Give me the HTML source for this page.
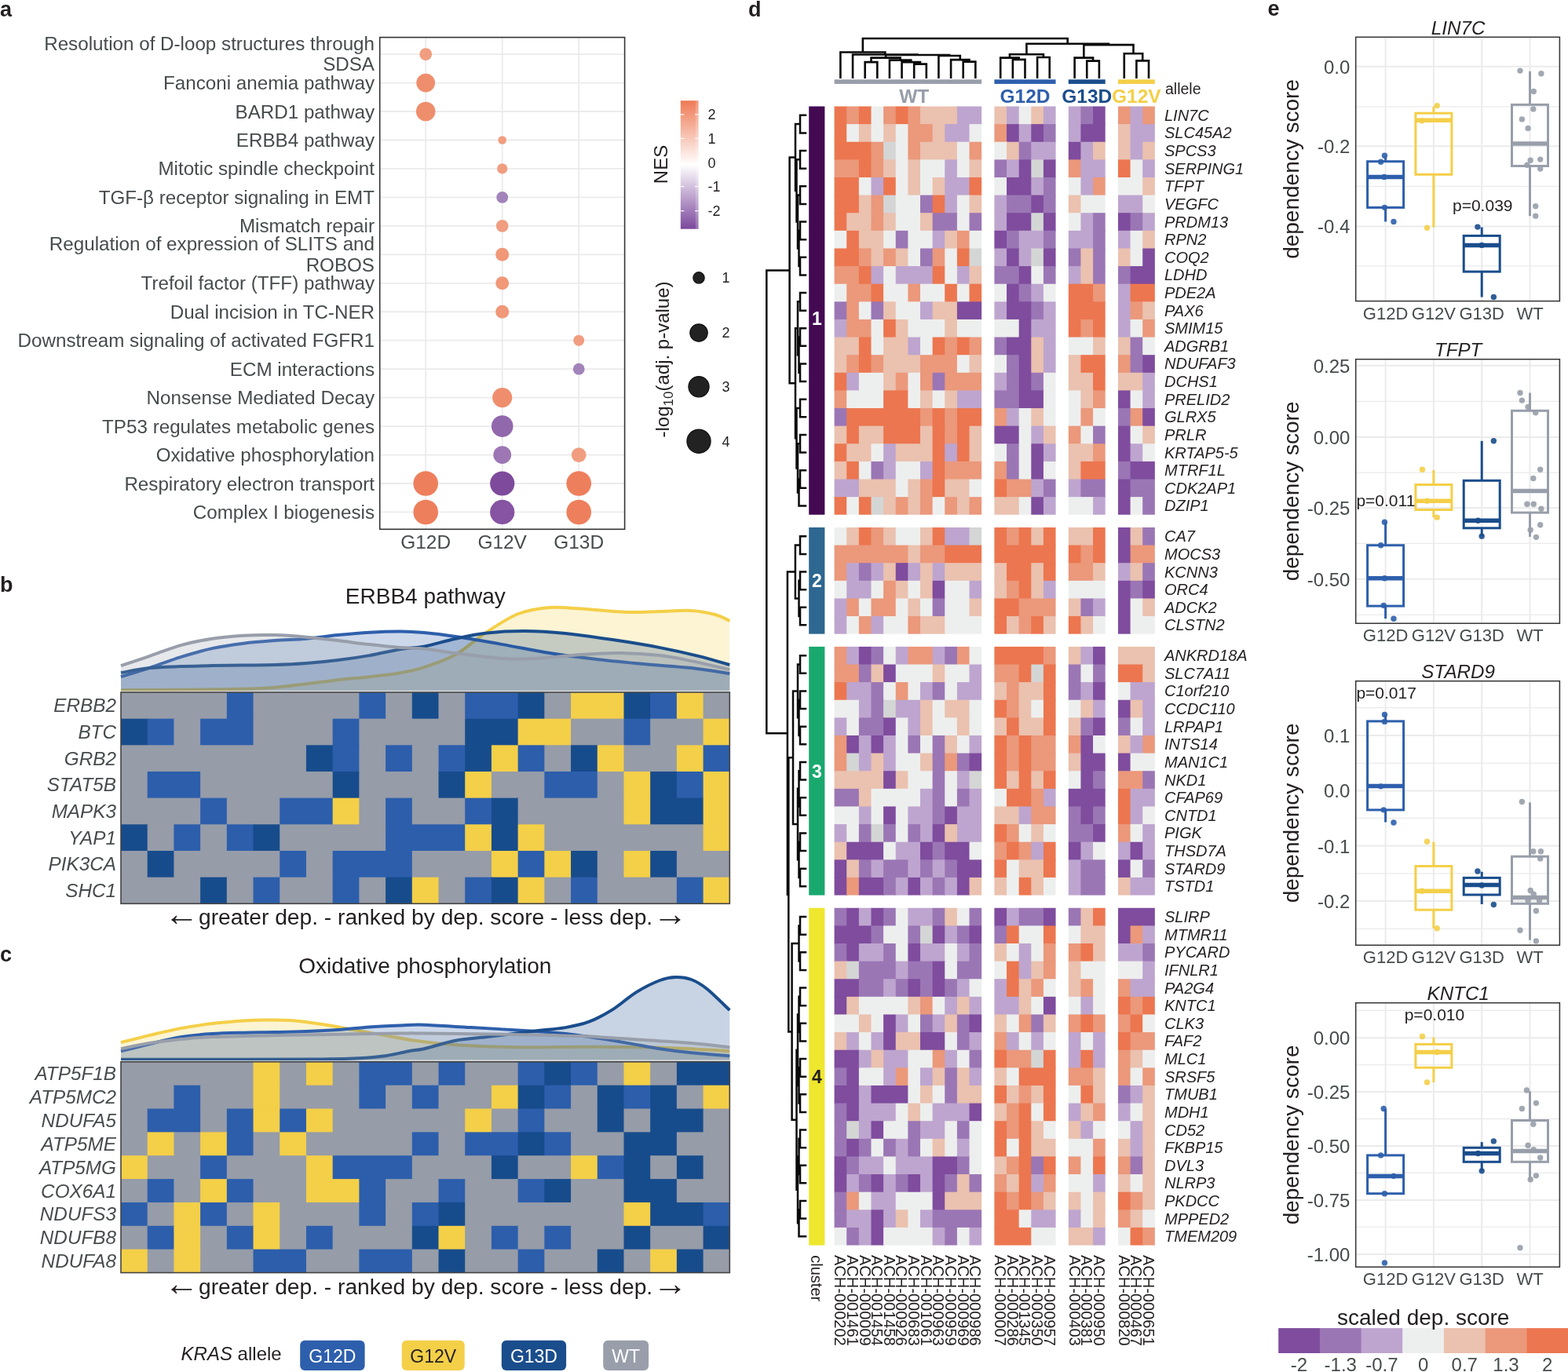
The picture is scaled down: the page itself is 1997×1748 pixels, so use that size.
<!DOCTYPE html>
<html><head><meta charset="utf-8"><title>KRAS allele dependency figure</title>
<style>
html,body{margin:0;padding:0;background:#fff;}
body{width:1997px;height:1748px;overflow:hidden;}
svg{display:block;font-family:'Liberation Sans', Arial, Helvetica, sans-serif;}
</style></head><body>
<svg width="1997" height="1748" viewBox="0 0 1997 1748">
<rect width="1997" height="1748" fill="#ffffff"/>
<text x="0" y="21" font-size="27" fill="#231f20" font-weight="bold">a</text>
<line x1="542.2" y1="47.6" x2="542.2" y2="674.3" stroke="#ebebeb" stroke-width="1.8" />
<line x1="639.7" y1="47.6" x2="639.7" y2="674.3" stroke="#ebebeb" stroke-width="1.8" />
<line x1="737.2" y1="47.6" x2="737.2" y2="674.3" stroke="#ebebeb" stroke-width="1.8" />
<line x1="483.7" y1="69.1" x2="795.6" y2="69.1" stroke="#ebebeb" stroke-width="1.8" />
<line x1="483.7" y1="105.56" x2="795.6" y2="105.56" stroke="#ebebeb" stroke-width="1.8" />
<line x1="483.7" y1="142.02" x2="795.6" y2="142.02" stroke="#ebebeb" stroke-width="1.8" />
<line x1="483.7" y1="178.48" x2="795.6" y2="178.48" stroke="#ebebeb" stroke-width="1.8" />
<line x1="483.7" y1="214.94" x2="795.6" y2="214.94" stroke="#ebebeb" stroke-width="1.8" />
<line x1="483.7" y1="251.4" x2="795.6" y2="251.4" stroke="#ebebeb" stroke-width="1.8" />
<line x1="483.7" y1="287.86" x2="795.6" y2="287.86" stroke="#ebebeb" stroke-width="1.8" />
<line x1="483.7" y1="324.32" x2="795.6" y2="324.32" stroke="#ebebeb" stroke-width="1.8" />
<line x1="483.7" y1="360.78" x2="795.6" y2="360.78" stroke="#ebebeb" stroke-width="1.8" />
<line x1="483.7" y1="397.24" x2="795.6" y2="397.24" stroke="#ebebeb" stroke-width="1.8" />
<line x1="483.7" y1="433.7" x2="795.6" y2="433.7" stroke="#ebebeb" stroke-width="1.8" />
<line x1="483.7" y1="470.16" x2="795.6" y2="470.16" stroke="#ebebeb" stroke-width="1.8" />
<line x1="483.7" y1="506.62" x2="795.6" y2="506.62" stroke="#ebebeb" stroke-width="1.8" />
<line x1="483.7" y1="543.08" x2="795.6" y2="543.08" stroke="#ebebeb" stroke-width="1.8" />
<line x1="483.7" y1="579.54" x2="795.6" y2="579.54" stroke="#ebebeb" stroke-width="1.8" />
<line x1="483.7" y1="616" x2="795.6" y2="616" stroke="#ebebeb" stroke-width="1.8" />
<line x1="483.7" y1="652.46" x2="795.6" y2="652.46" stroke="#ebebeb" stroke-width="1.8" />
<text x="477" y="64.1" font-size="24.2" fill="#464b4d" text-anchor="end">Resolution of D-loop structures through</text>
<text x="477" y="90.3" font-size="24.2" fill="#464b4d" text-anchor="end">SDSA</text>
<text x="477" y="114.06" font-size="24.2" fill="#464b4d" text-anchor="end">Fanconi anemia pathway</text>
<text x="477" y="150.52" font-size="24.2" fill="#464b4d" text-anchor="end">BARD1 pathway</text>
<text x="477" y="186.98" font-size="24.2" fill="#464b4d" text-anchor="end">ERBB4 pathway</text>
<text x="477" y="223.44" font-size="24.2" fill="#464b4d" text-anchor="end">Mitotic spindle checkpoint</text>
<text x="477" y="259.9" font-size="24.2" fill="#464b4d" text-anchor="end">TGF-β receptor signaling in EMT</text>
<text x="477" y="296.36" font-size="24.2" fill="#464b4d" text-anchor="end">Mismatch repair</text>
<text x="477" y="319.32" font-size="24.2" fill="#464b4d" text-anchor="end">Regulation of expression of SLITS and</text>
<text x="477" y="345.52" font-size="24.2" fill="#464b4d" text-anchor="end">ROBOS</text>
<text x="477" y="369.28" font-size="24.2" fill="#464b4d" text-anchor="end">Trefoil factor (TFF) pathway</text>
<text x="477" y="405.74" font-size="24.2" fill="#464b4d" text-anchor="end">Dual incision in TC-NER</text>
<text x="477" y="442.2" font-size="24.2" fill="#464b4d" text-anchor="end">Downstream signaling of activated FGFR1</text>
<text x="477" y="478.66" font-size="24.2" fill="#464b4d" text-anchor="end">ECM interactions</text>
<text x="477" y="515.12" font-size="24.2" fill="#464b4d" text-anchor="end">Nonsense Mediated Decay</text>
<text x="477" y="551.58" font-size="24.2" fill="#464b4d" text-anchor="end">TP53 regulates metabolic genes</text>
<text x="477" y="588.04" font-size="24.2" fill="#464b4d" text-anchor="end">Oxidative phosphorylation</text>
<text x="477" y="624.5" font-size="24.2" fill="#464b4d" text-anchor="end">Respiratory electron transport</text>
<text x="477" y="660.96" font-size="24.2" fill="#464b4d" text-anchor="end">Complex I biogenesis</text>
<circle cx="542.2" cy="69.1" r="7.9" fill="#f19d80" />
<circle cx="542.2" cy="105.56" r="11.9" fill="#ef8e6d" />
<circle cx="542.2" cy="142.02" r="12.3" fill="#ef8e6d" />
<circle cx="639.7" cy="178.48" r="5.3" fill="#f19d80" />
<circle cx="639.7" cy="214.94" r="6.6" fill="#f19d80" />
<circle cx="639.7" cy="251.4" r="7.4" fill="#a283ba" />
<circle cx="639.7" cy="287.86" r="7.8" fill="#f19d80" />
<circle cx="639.7" cy="324.32" r="8.5" fill="#f09878" />
<circle cx="639.7" cy="360.78" r="8.5" fill="#f09878" />
<circle cx="639.7" cy="397.24" r="8.5" fill="#f09878" />
<circle cx="737.2" cy="433.7" r="7" fill="#f19d80" />
<circle cx="737.2" cy="470.16" r="7.4" fill="#a283ba" />
<circle cx="639.7" cy="506.62" r="12.6" fill="#ef8e6d" />
<circle cx="639.7" cy="543.08" r="13.8" fill="#9168ac" />
<circle cx="639.7" cy="579.54" r="11.4" fill="#9d76b4" />
<circle cx="737.2" cy="579.54" r="9.4" fill="#f19d80" />
<circle cx="542.2" cy="616" r="15.8" fill="#ee7f5c" />
<circle cx="639.7" cy="616" r="15.6" fill="#7e4a9c" />
<circle cx="737.2" cy="616" r="15.8" fill="#ee7f5c" />
<circle cx="542.2" cy="652.46" r="15.8" fill="#ee7f5c" />
<circle cx="639.7" cy="652.46" r="15.6" fill="#8654a2" />
<circle cx="737.2" cy="652.46" r="15.8" fill="#ee7f5c" />
<rect x="483.7" y="47.6" width="311.9" height="626.7" fill="none" stroke="#333333" stroke-width="1.6"/>
<text x="542.2" y="699.4" font-size="24.4" fill="#464b4d" text-anchor="middle">G12D</text>
<text x="639.7" y="699.4" font-size="24.4" fill="#464b4d" text-anchor="middle">G12V</text>
<text x="737.2" y="699.4" font-size="24.4" fill="#464b4d" text-anchor="middle">G13D</text>
<defs><linearGradient id="nesg" x1="0" y1="0" x2="0" y2="1"><stop offset="0" stop-color="#ee7a55"/><stop offset="0.5" stop-color="#ffffff"/><stop offset="1" stop-color="#7b479c"/></linearGradient></defs>
<rect x="866.8" y="128.2" width="22.7" height="163.5" fill="url(#nesg)" />
<rect x="885.8" y="128.2" width="3.7" height="163.5" fill="#ffffff" fill-opacity="0.22"/>
<line x1="866.8" y1="145.9" x2="871.3" y2="145.9" stroke="white" stroke-width="1.2" />
<line x1="885" y1="145.9" x2="889.5" y2="145.9" stroke="white" stroke-width="1.2" />
<text x="901.5" y="152.2" font-size="18" fill="#231f20">2</text>
<line x1="866.8" y1="176.4" x2="871.3" y2="176.4" stroke="white" stroke-width="1.2" />
<line x1="885" y1="176.4" x2="889.5" y2="176.4" stroke="white" stroke-width="1.2" />
<text x="901.5" y="182.7" font-size="18" fill="#231f20">1</text>
<line x1="866.8" y1="207.6" x2="871.3" y2="207.6" stroke="white" stroke-width="1.2" />
<line x1="885" y1="207.6" x2="889.5" y2="207.6" stroke="white" stroke-width="1.2" />
<text x="901.5" y="213.9" font-size="18" fill="#231f20">0</text>
<line x1="866.8" y1="237.6" x2="871.3" y2="237.6" stroke="white" stroke-width="1.2" />
<line x1="885" y1="237.6" x2="889.5" y2="237.6" stroke="white" stroke-width="1.2" />
<text x="901.5" y="243.9" font-size="18" fill="#231f20">-1</text>
<line x1="866.8" y1="268.7" x2="871.3" y2="268.7" stroke="white" stroke-width="1.2" />
<line x1="885" y1="268.7" x2="889.5" y2="268.7" stroke="white" stroke-width="1.2" />
<text x="901.5" y="275" font-size="18" fill="#231f20">-2</text>
<text x="0" y="0" font-size="24" fill="#231f20" text-anchor="middle" transform="translate(849.5,209.5) rotate(-90)">NES</text>
<circle cx="890" cy="353.9" r="7.2" fill="#222222" stroke="#111111" stroke-width="1.2"/>
<text x="919.5" y="360.2" font-size="18" fill="#231f20">1</text>
<circle cx="890" cy="424" r="11.2" fill="#222222" stroke="#111111" stroke-width="1.2"/>
<text x="919.5" y="430.3" font-size="18" fill="#231f20">2</text>
<circle cx="890" cy="492.7" r="13.1" fill="#222222" stroke="#111111" stroke-width="1.2"/>
<text x="919.5" y="499" font-size="18" fill="#231f20">3</text>
<circle cx="890" cy="562.2" r="15.1" fill="#222222" stroke="#111111" stroke-width="1.2"/>
<text x="919.5" y="568.5" font-size="18" fill="#231f20">4</text>
<text font-size="24" fill="#231f20" text-anchor="middle" transform="translate(852,458) rotate(-90)">-log<tspan font-size="17" dy="5">10</tspan><tspan dy="-5">(adj. p-value)</tspan></text>
<text x="0" y="753.8" font-size="27" fill="#231f20" font-weight="bold">b</text>
<text x="541.8" y="768.9" font-size="28" fill="#231f20" text-anchor="middle">ERBB4 pathway</text>
<path d="M154,879.2 C166.68,879.13 204.07,879.03 230.1,878.8 C256.13,878.57 290.17,878.3 310.2,877.8 C330.23,877.3 336.93,876.9 350.3,875.8 C363.67,874.7 377.05,872.8 390.4,871.2 C403.75,869.6 417.05,867.7 430.4,866.2 C443.75,864.7 457.15,863.72 470.5,862.2 C483.85,860.68 498.92,859.12 510.5,857.1 C522.08,855.08 528.4,853.93 540,850.1 C551.6,846.27 566.75,841.6 580.1,834.1 C593.45,826.6 606.75,813.78 620.1,805.1 C633.45,796.42 646.85,787.18 660.2,782 C673.55,776.82 686.85,775.07 700.2,774 C713.55,772.93 723.6,774.6 740.3,775.6 C757,776.6 783.7,779.43 800.4,780 C817.1,780.57 827.15,779.33 840.5,779 C853.85,778.67 868.82,777.33 880.5,778 C892.18,778.67 902.47,780.83 910.6,783 C918.73,785.17 926.18,789.67 929.3,791 L929.3,879.8 L154,879.8 Z" fill="#f4cf48" fill-opacity="0.24"/>
<path d="M154,879.2 C166.68,879.13 204.07,879.03 230.1,878.8 C256.13,878.57 290.17,878.3 310.2,877.8 C330.23,877.3 336.93,876.9 350.3,875.8 C363.67,874.7 377.05,872.8 390.4,871.2 C403.75,869.6 417.05,867.7 430.4,866.2 C443.75,864.7 457.15,863.72 470.5,862.2 C483.85,860.68 498.92,859.12 510.5,857.1 C522.08,855.08 528.4,853.93 540,850.1 C551.6,846.27 566.75,841.6 580.1,834.1 C593.45,826.6 606.75,813.78 620.1,805.1 C633.45,796.42 646.85,787.18 660.2,782 C673.55,776.82 686.85,775.07 700.2,774 C713.55,772.93 723.6,774.6 740.3,775.6 C757,776.6 783.7,779.43 800.4,780 C817.1,780.57 827.15,779.33 840.5,779 C853.85,778.67 868.82,777.33 880.5,778 C892.18,778.67 902.47,780.83 910.6,783 C918.73,785.17 926.18,789.67 929.3,791" fill="none" stroke="#f4cf48" stroke-width="4"/>
<path d="M154,862.2 C160,860.35 177.32,855.28 190,851.1 C202.68,846.92 216.73,841.27 230.1,837.1 C243.47,832.93 256.85,829 270.2,826.1 C283.55,823.2 296.85,821.37 310.2,819.7 C323.55,818.03 336.93,817.1 350.3,816.1 C363.67,815.1 377.05,814.87 390.4,813.7 C403.75,812.53 417.05,810.43 430.4,809.1 C443.75,807.77 457.15,806.47 470.5,805.7 C483.85,804.93 498.92,804.43 510.5,804.5 C522.08,804.57 528.4,805 540,806.1 C551.6,807.2 563.4,808.6 580.1,811.1 C596.8,813.6 620.18,817.6 640.2,821.1 C660.22,824.6 680.18,828.93 700.2,832.1 C720.22,835.27 740.27,837.77 760.3,840.1 C780.33,842.43 800.37,844.27 820.4,846.1 C840.43,847.93 862.35,849.1 880.5,851.1 C898.65,853.1 921.17,856.93 929.3,858.1 L929.3,879.8 L154,879.8 Z" fill="#2e5fac" fill-opacity="0.24"/>
<path d="M154,862.2 C160,860.35 177.32,855.28 190,851.1 C202.68,846.92 216.73,841.27 230.1,837.1 C243.47,832.93 256.85,829 270.2,826.1 C283.55,823.2 296.85,821.37 310.2,819.7 C323.55,818.03 336.93,817.1 350.3,816.1 C363.67,815.1 377.05,814.87 390.4,813.7 C403.75,812.53 417.05,810.43 430.4,809.1 C443.75,807.77 457.15,806.47 470.5,805.7 C483.85,804.93 498.92,804.43 510.5,804.5 C522.08,804.57 528.4,805 540,806.1 C551.6,807.2 563.4,808.6 580.1,811.1 C596.8,813.6 620.18,817.6 640.2,821.1 C660.22,824.6 680.18,828.93 700.2,832.1 C720.22,835.27 740.27,837.77 760.3,840.1 C780.33,842.43 800.37,844.27 820.4,846.1 C840.43,847.93 862.35,849.1 880.5,851.1 C898.65,853.1 921.17,856.93 929.3,858.1" fill="none" stroke="#2e5fac" stroke-width="4"/>
<path d="M154,857.1 C160,856.1 177.32,852.43 190,851.1 C202.68,849.77 216.73,849.6 230.1,849.1 C243.47,848.6 256.85,848.37 270.2,848.1 C283.55,847.83 296.85,847.67 310.2,847.5 C323.55,847.33 336.93,847.5 350.3,847.1 C363.67,846.7 377.05,846.1 390.4,845.1 C403.75,844.1 417.05,842.77 430.4,841.1 C443.75,839.43 457.15,837.43 470.5,835.1 C483.85,832.77 498.92,829 510.5,827.1 C522.08,825.2 528.4,825.93 540,823.7 C551.6,821.47 566.75,816.57 580.1,813.7 C593.45,810.83 605.42,808.1 620.1,806.5 C634.78,804.9 651.5,804 668.2,804.1 C684.9,804.2 701.6,805.27 720.3,807.1 C739,808.93 760.37,812.1 780.4,815.1 C800.43,818.1 822.15,821.6 840.5,825.1 C858.85,828.6 875.7,832.43 890.5,836.1 C905.3,839.77 922.83,845.27 929.3,847.1 L929.3,879.8 L154,879.8 Z" fill="#1a4d8c" fill-opacity="0.24"/>
<path d="M154,857.1 C160,856.1 177.32,852.43 190,851.1 C202.68,849.77 216.73,849.6 230.1,849.1 C243.47,848.6 256.85,848.37 270.2,848.1 C283.55,847.83 296.85,847.67 310.2,847.5 C323.55,847.33 336.93,847.5 350.3,847.1 C363.67,846.7 377.05,846.1 390.4,845.1 C403.75,844.1 417.05,842.77 430.4,841.1 C443.75,839.43 457.15,837.43 470.5,835.1 C483.85,832.77 498.92,829 510.5,827.1 C522.08,825.2 528.4,825.93 540,823.7 C551.6,821.47 566.75,816.57 580.1,813.7 C593.45,810.83 605.42,808.1 620.1,806.5 C634.78,804.9 651.5,804 668.2,804.1 C684.9,804.2 701.6,805.27 720.3,807.1 C739,808.93 760.37,812.1 780.4,815.1 C800.43,818.1 822.15,821.6 840.5,825.1 C858.85,828.6 875.7,832.43 890.5,836.1 C905.3,839.77 922.83,845.27 929.3,847.1" fill="none" stroke="#1a4d8c" stroke-width="4"/>
<path d="M154,848.1 C160,846.1 177.32,840.43 190,836.1 C202.68,831.77 216.73,825.83 230.1,822.1 C243.47,818.37 256.85,815.77 270.2,813.7 C283.55,811.63 296.85,810.47 310.2,809.7 C323.55,808.93 336.93,808.77 350.3,809.1 C363.67,809.43 377.05,810.53 390.4,811.7 C403.75,812.87 417.05,814.53 430.4,816.1 C443.75,817.67 457.15,819.6 470.5,821.1 C483.85,822.6 498.92,824.2 510.5,825.1 C522.08,826 528.4,825.33 540,826.5 C551.6,827.67 563.4,830 580.1,832.1 C596.8,834.2 623.52,837.93 640.2,839.1 C656.88,840.27 663.52,839.93 680.2,839.1 C696.88,838.27 721.93,835.27 740.3,834.1 C758.67,832.93 773.7,831.93 790.4,832.1 C807.1,832.27 825.48,833.43 840.5,835.1 C855.52,836.77 865.7,839.1 880.5,842.1 C895.3,845.1 921.17,851.27 929.3,853.1 L929.3,879.8 L154,879.8 Z" fill="#989eaa" fill-opacity="0.24"/>
<path d="M154,848.1 C160,846.1 177.32,840.43 190,836.1 C202.68,831.77 216.73,825.83 230.1,822.1 C243.47,818.37 256.85,815.77 270.2,813.7 C283.55,811.63 296.85,810.47 310.2,809.7 C323.55,808.93 336.93,808.77 350.3,809.1 C363.67,809.43 377.05,810.53 390.4,811.7 C403.75,812.87 417.05,814.53 430.4,816.1 C443.75,817.67 457.15,819.6 470.5,821.1 C483.85,822.6 498.92,824.2 510.5,825.1 C522.08,826 528.4,825.33 540,826.5 C551.6,827.67 563.4,830 580.1,832.1 C596.8,834.2 623.52,837.93 640.2,839.1 C656.88,840.27 663.52,839.93 680.2,839.1 C696.88,838.27 721.93,835.27 740.3,834.1 C758.67,832.93 773.7,831.93 790.4,832.1 C807.1,832.27 825.48,833.43 840.5,835.1 C855.52,836.77 865.7,839.1 880.5,842.1 C895.3,845.1 921.17,851.27 929.3,853.1" fill="none" stroke="#989eaa" stroke-width="4"/>
<line x1="154" y1="880.7" x2="929.3" y2="880.7" stroke="#d0d3d8" stroke-width="1" />
<rect x="154" y="882" width="135.83" height="34.66" fill="#969ca8" />
<rect x="288.83" y="882" width="34.71" height="34.66" fill="#2c5eac" />
<rect x="322.54" y="882" width="135.83" height="34.66" fill="#969ca8" />
<rect x="457.38" y="882" width="34.71" height="34.66" fill="#2c5eac" />
<rect x="491.09" y="882" width="34.71" height="34.66" fill="#969ca8" />
<rect x="524.8" y="882" width="34.71" height="34.66" fill="#174c8c" />
<rect x="558.5" y="882" width="34.71" height="34.66" fill="#969ca8" />
<rect x="592.21" y="882" width="68.42" height="34.66" fill="#2c5eac" />
<rect x="659.63" y="882" width="34.71" height="34.66" fill="#174c8c" />
<rect x="693.34" y="882" width="34.71" height="34.66" fill="#969ca8" />
<rect x="727.05" y="882" width="68.42" height="34.66" fill="#f4cf48" />
<rect x="794.47" y="882" width="34.71" height="34.66" fill="#174c8c" />
<rect x="828.17" y="882" width="34.71" height="34.66" fill="#2c5eac" />
<rect x="861.88" y="882" width="34.71" height="34.66" fill="#f4cf48" />
<rect x="895.59" y="882" width="33.71" height="34.66" fill="#969ca8" />
<rect x="154" y="915.66" width="34.71" height="34.66" fill="#174c8c" />
<rect x="187.71" y="915.66" width="34.71" height="34.66" fill="#2c5eac" />
<rect x="221.42" y="915.66" width="34.71" height="34.66" fill="#969ca8" />
<rect x="255.13" y="915.66" width="68.42" height="34.66" fill="#2c5eac" />
<rect x="322.54" y="915.66" width="102.13" height="34.66" fill="#969ca8" />
<rect x="423.67" y="915.66" width="34.71" height="34.66" fill="#2c5eac" />
<rect x="457.38" y="915.66" width="135.83" height="34.66" fill="#969ca8" />
<rect x="592.21" y="915.66" width="68.42" height="34.66" fill="#174c8c" />
<rect x="659.63" y="915.66" width="68.42" height="34.66" fill="#f4cf48" />
<rect x="727.05" y="915.66" width="68.42" height="34.66" fill="#969ca8" />
<rect x="794.47" y="915.66" width="34.71" height="34.66" fill="#2c5eac" />
<rect x="828.17" y="915.66" width="68.42" height="34.66" fill="#969ca8" />
<rect x="895.59" y="915.66" width="33.71" height="34.66" fill="#f4cf48" />
<rect x="154" y="949.33" width="236.96" height="34.66" fill="#969ca8" />
<rect x="389.96" y="949.33" width="34.71" height="34.66" fill="#174c8c" />
<rect x="423.67" y="949.33" width="34.71" height="34.66" fill="#2c5eac" />
<rect x="457.38" y="949.33" width="34.71" height="34.66" fill="#969ca8" />
<rect x="491.09" y="949.33" width="34.71" height="34.66" fill="#2c5eac" />
<rect x="524.8" y="949.33" width="34.71" height="34.66" fill="#969ca8" />
<rect x="558.5" y="949.33" width="34.71" height="34.66" fill="#2c5eac" />
<rect x="592.21" y="949.33" width="34.71" height="34.66" fill="#174c8c" />
<rect x="625.92" y="949.33" width="34.71" height="34.66" fill="#f4cf48" />
<rect x="659.63" y="949.33" width="34.71" height="34.66" fill="#2c5eac" />
<rect x="693.34" y="949.33" width="34.71" height="34.66" fill="#969ca8" />
<rect x="727.05" y="949.33" width="34.71" height="34.66" fill="#174c8c" />
<rect x="760.76" y="949.33" width="34.71" height="34.66" fill="#f4cf48" />
<rect x="794.47" y="949.33" width="68.42" height="34.66" fill="#969ca8" />
<rect x="861.88" y="949.33" width="34.71" height="34.66" fill="#f4cf48" />
<rect x="895.59" y="949.33" width="33.71" height="34.66" fill="#2c5eac" />
<rect x="154" y="982.99" width="34.71" height="34.66" fill="#969ca8" />
<rect x="187.71" y="982.99" width="68.42" height="34.66" fill="#2c5eac" />
<rect x="255.13" y="982.99" width="169.54" height="34.66" fill="#969ca8" />
<rect x="423.67" y="982.99" width="34.71" height="34.66" fill="#174c8c" />
<rect x="457.38" y="982.99" width="102.13" height="34.66" fill="#969ca8" />
<rect x="558.5" y="982.99" width="34.71" height="34.66" fill="#174c8c" />
<rect x="592.21" y="982.99" width="34.71" height="34.66" fill="#f4cf48" />
<rect x="625.92" y="982.99" width="68.42" height="34.66" fill="#969ca8" />
<rect x="693.34" y="982.99" width="68.42" height="34.66" fill="#2c5eac" />
<rect x="760.76" y="982.99" width="34.71" height="34.66" fill="#969ca8" />
<rect x="794.47" y="982.99" width="34.71" height="34.66" fill="#f4cf48" />
<rect x="828.17" y="982.99" width="34.71" height="34.66" fill="#174c8c" />
<rect x="861.88" y="982.99" width="34.71" height="34.66" fill="#2c5eac" />
<rect x="895.59" y="982.99" width="33.71" height="34.66" fill="#f4cf48" />
<rect x="154" y="1016.65" width="102.13" height="34.66" fill="#969ca8" />
<rect x="255.13" y="1016.65" width="34.71" height="34.66" fill="#2c5eac" />
<rect x="288.83" y="1016.65" width="68.42" height="34.66" fill="#969ca8" />
<rect x="356.25" y="1016.65" width="68.42" height="34.66" fill="#2c5eac" />
<rect x="423.67" y="1016.65" width="34.71" height="34.66" fill="#f4cf48" />
<rect x="457.38" y="1016.65" width="34.71" height="34.66" fill="#969ca8" />
<rect x="491.09" y="1016.65" width="34.71" height="34.66" fill="#2c5eac" />
<rect x="524.8" y="1016.65" width="68.42" height="34.66" fill="#969ca8" />
<rect x="592.21" y="1016.65" width="34.71" height="34.66" fill="#2c5eac" />
<rect x="625.92" y="1016.65" width="34.71" height="34.66" fill="#174c8c" />
<rect x="659.63" y="1016.65" width="135.83" height="34.66" fill="#969ca8" />
<rect x="794.47" y="1016.65" width="34.71" height="34.66" fill="#f4cf48" />
<rect x="828.17" y="1016.65" width="68.42" height="34.66" fill="#174c8c" />
<rect x="895.59" y="1016.65" width="33.71" height="34.66" fill="#f4cf48" />
<rect x="154" y="1050.31" width="34.71" height="34.66" fill="#174c8c" />
<rect x="187.71" y="1050.31" width="34.71" height="34.66" fill="#969ca8" />
<rect x="221.42" y="1050.31" width="34.71" height="34.66" fill="#2c5eac" />
<rect x="255.13" y="1050.31" width="34.71" height="34.66" fill="#969ca8" />
<rect x="288.83" y="1050.31" width="34.71" height="34.66" fill="#2c5eac" />
<rect x="322.54" y="1050.31" width="34.71" height="34.66" fill="#174c8c" />
<rect x="356.25" y="1050.31" width="135.83" height="34.66" fill="#969ca8" />
<rect x="491.09" y="1050.31" width="102.13" height="34.66" fill="#2c5eac" />
<rect x="592.21" y="1050.31" width="34.71" height="34.66" fill="#f4cf48" />
<rect x="625.92" y="1050.31" width="34.71" height="34.66" fill="#174c8c" />
<rect x="659.63" y="1050.31" width="34.71" height="34.66" fill="#f4cf48" />
<rect x="693.34" y="1050.31" width="203.25" height="34.66" fill="#969ca8" />
<rect x="895.59" y="1050.31" width="33.71" height="34.66" fill="#f4cf48" />
<rect x="154" y="1083.97" width="34.71" height="34.66" fill="#969ca8" />
<rect x="187.71" y="1083.97" width="34.71" height="34.66" fill="#174c8c" />
<rect x="221.42" y="1083.97" width="135.83" height="34.66" fill="#969ca8" />
<rect x="356.25" y="1083.97" width="34.71" height="34.66" fill="#2c5eac" />
<rect x="389.96" y="1083.97" width="34.71" height="34.66" fill="#969ca8" />
<rect x="423.67" y="1083.97" width="102.13" height="34.66" fill="#2c5eac" />
<rect x="524.8" y="1083.97" width="102.13" height="34.66" fill="#969ca8" />
<rect x="625.92" y="1083.97" width="34.71" height="34.66" fill="#f4cf48" />
<rect x="659.63" y="1083.97" width="34.71" height="34.66" fill="#2c5eac" />
<rect x="693.34" y="1083.97" width="34.71" height="34.66" fill="#f4cf48" />
<rect x="727.05" y="1083.97" width="34.71" height="34.66" fill="#174c8c" />
<rect x="760.76" y="1083.97" width="34.71" height="34.66" fill="#969ca8" />
<rect x="794.47" y="1083.97" width="34.71" height="34.66" fill="#f4cf48" />
<rect x="828.17" y="1083.97" width="34.71" height="34.66" fill="#174c8c" />
<rect x="861.88" y="1083.97" width="67.42" height="34.66" fill="#969ca8" />
<rect x="154" y="1117.64" width="102.13" height="33.66" fill="#969ca8" />
<rect x="255.13" y="1117.64" width="34.71" height="33.66" fill="#174c8c" />
<rect x="288.83" y="1117.64" width="34.71" height="33.66" fill="#969ca8" />
<rect x="322.54" y="1117.64" width="34.71" height="33.66" fill="#2c5eac" />
<rect x="356.25" y="1117.64" width="68.42" height="33.66" fill="#969ca8" />
<rect x="423.67" y="1117.64" width="34.71" height="33.66" fill="#2c5eac" />
<rect x="457.38" y="1117.64" width="34.71" height="33.66" fill="#969ca8" />
<rect x="491.09" y="1117.64" width="34.71" height="33.66" fill="#174c8c" />
<rect x="524.8" y="1117.64" width="34.71" height="33.66" fill="#f4cf48" />
<rect x="558.5" y="1117.64" width="34.71" height="33.66" fill="#969ca8" />
<rect x="592.21" y="1117.64" width="34.71" height="33.66" fill="#2c5eac" />
<rect x="625.92" y="1117.64" width="34.71" height="33.66" fill="#174c8c" />
<rect x="659.63" y="1117.64" width="34.71" height="33.66" fill="#f4cf48" />
<rect x="693.34" y="1117.64" width="34.71" height="33.66" fill="#969ca8" />
<rect x="727.05" y="1117.64" width="34.71" height="33.66" fill="#2c5eac" />
<rect x="760.76" y="1117.64" width="102.13" height="33.66" fill="#969ca8" />
<rect x="861.88" y="1117.64" width="34.71" height="33.66" fill="#2c5eac" />
<rect x="895.59" y="1117.64" width="33.71" height="33.66" fill="#f4cf48" />
<text x="148" y="907.43" font-size="24.3" fill="#464b4d" text-anchor="end" font-style="italic">ERBB2</text>
<text x="148" y="941.09" font-size="24.3" fill="#464b4d" text-anchor="end" font-style="italic">BTC</text>
<text x="148" y="974.76" font-size="24.3" fill="#464b4d" text-anchor="end" font-style="italic">GRB2</text>
<text x="148" y="1008.42" font-size="24.3" fill="#464b4d" text-anchor="end" font-style="italic">STAT5B</text>
<text x="148" y="1042.08" font-size="24.3" fill="#464b4d" text-anchor="end" font-style="italic">MAPK3</text>
<text x="148" y="1075.74" font-size="24.3" fill="#464b4d" text-anchor="end" font-style="italic">YAP1</text>
<text x="148" y="1109.41" font-size="24.3" fill="#464b4d" text-anchor="end" font-style="italic">PIK3CA</text>
<text x="148" y="1143.07" font-size="24.3" fill="#464b4d" text-anchor="end" font-style="italic">SHC1</text>
<rect x="154" y="882" width="775.3" height="269.3" fill="none" stroke="#444444" stroke-width="1.6"/>
<text x="209.2" y="1178.8" font-size="44" fill="#231f20">←</text>
<text x="253" y="1177.7" font-size="28.2" fill="#231f20">greater dep. - ranked by dep. score - less dep.</text>
<text x="831.4" y="1178.8" font-size="44" fill="#231f20">→</text>
<text x="0" y="1224.7" font-size="27" fill="#231f20" font-weight="bold">c</text>
<text x="541.3" y="1239.8" font-size="28" fill="#231f20" text-anchor="middle">Oxidative phosphorylation</text>
<path d="M154,1328.1 C160,1326.6 177.32,1322.1 190,1319.1 C202.68,1316.1 216.73,1312.6 230.1,1310.1 C243.47,1307.6 256.85,1305.7 270.2,1304.1 C283.55,1302.5 298.52,1301.27 310.2,1300.5 C321.88,1299.73 330.28,1299.57 340.3,1299.5 C350.32,1299.43 358.62,1299.17 370.3,1300.1 C381.98,1301.03 397.03,1303.1 410.4,1305.1 C423.77,1307.1 437.15,1309.77 450.5,1312.1 C463.85,1314.43 477.15,1316.77 490.5,1319.1 C503.85,1321.43 515.67,1324.08 530.6,1326.1 C545.53,1328.12 558.5,1329.85 580.1,1331.2 C601.7,1332.55 633.5,1333.77 660.2,1334.2 C686.9,1334.63 713.6,1333.8 740.3,1333.8 C767,1333.8 797.03,1333.8 820.4,1334.2 C843.77,1334.6 862.35,1335.37 880.5,1336.2 C898.65,1337.03 921.17,1338.7 929.3,1339.2 L929.3,1350.4 L154,1350.4 Z" fill="#f4cf48" fill-opacity="0.24"/>
<path d="M154,1328.1 C160,1326.6 177.32,1322.1 190,1319.1 C202.68,1316.1 216.73,1312.6 230.1,1310.1 C243.47,1307.6 256.85,1305.7 270.2,1304.1 C283.55,1302.5 298.52,1301.27 310.2,1300.5 C321.88,1299.73 330.28,1299.57 340.3,1299.5 C350.32,1299.43 358.62,1299.17 370.3,1300.1 C381.98,1301.03 397.03,1303.1 410.4,1305.1 C423.77,1307.1 437.15,1309.77 450.5,1312.1 C463.85,1314.43 477.15,1316.77 490.5,1319.1 C503.85,1321.43 515.67,1324.08 530.6,1326.1 C545.53,1328.12 558.5,1329.85 580.1,1331.2 C601.7,1332.55 633.5,1333.77 660.2,1334.2 C686.9,1334.63 713.6,1333.8 740.3,1333.8 C767,1333.8 797.03,1333.8 820.4,1334.2 C843.77,1334.6 862.35,1335.37 880.5,1336.2 C898.65,1337.03 921.17,1338.7 929.3,1339.2" fill="none" stroke="#f4cf48" stroke-width="4"/>
<path d="M154,1339.2 C160,1337.7 177.32,1333.22 190,1330.2 C202.68,1327.18 216.73,1323.28 230.1,1321.1 C243.47,1318.92 256.85,1318 270.2,1317.1 C283.55,1316.2 296.85,1316.03 310.2,1315.7 C323.55,1315.37 336.93,1315.37 350.3,1315.1 C363.67,1314.83 377.05,1314.6 390.4,1314.1 C403.75,1313.6 417.05,1313.03 430.4,1312.1 C443.75,1311.17 457.15,1309.43 470.5,1308.5 C483.85,1307.57 498.92,1306.97 510.5,1306.5 C522.08,1306.03 525.07,1305.27 540,1305.7 C554.93,1306.13 576.73,1307.77 600.1,1309.1 C623.47,1310.43 660.17,1312.37 680.2,1313.7 C700.23,1315.03 706.95,1315.63 720.3,1317.1 C733.65,1318.57 746.95,1320.5 760.3,1322.5 C773.65,1324.5 787.03,1326.82 800.4,1329.1 C813.77,1331.38 827.15,1334.18 840.5,1336.2 C853.85,1338.22 865.7,1339.7 880.5,1341.2 C895.3,1342.7 921.17,1344.53 929.3,1345.2 L929.3,1350.4 L154,1350.4 Z" fill="#2e5fac" fill-opacity="0.24"/>
<path d="M154,1339.2 C160,1337.7 177.32,1333.22 190,1330.2 C202.68,1327.18 216.73,1323.28 230.1,1321.1 C243.47,1318.92 256.85,1318 270.2,1317.1 C283.55,1316.2 296.85,1316.03 310.2,1315.7 C323.55,1315.37 336.93,1315.37 350.3,1315.1 C363.67,1314.83 377.05,1314.6 390.4,1314.1 C403.75,1313.6 417.05,1313.03 430.4,1312.1 C443.75,1311.17 457.15,1309.43 470.5,1308.5 C483.85,1307.57 498.92,1306.97 510.5,1306.5 C522.08,1306.03 525.07,1305.27 540,1305.7 C554.93,1306.13 576.73,1307.77 600.1,1309.1 C623.47,1310.43 660.17,1312.37 680.2,1313.7 C700.23,1315.03 706.95,1315.63 720.3,1317.1 C733.65,1318.57 746.95,1320.5 760.3,1322.5 C773.65,1324.5 787.03,1326.82 800.4,1329.1 C813.77,1331.38 827.15,1334.18 840.5,1336.2 C853.85,1338.22 865.7,1339.7 880.5,1341.2 C895.3,1342.7 921.17,1344.53 929.3,1345.2" fill="none" stroke="#2e5fac" stroke-width="4"/>
<path d="M154,1349.8 C180.03,1349.8 267.47,1349.87 310.2,1349.8 C352.93,1349.73 387.02,1349.6 410.4,1349.4 C433.78,1349.2 437.15,1349.3 450.5,1348.6 C463.85,1347.9 478.82,1346.77 490.5,1345.2 C502.18,1343.63 512.35,1340.7 520.6,1339.2 C528.85,1337.7 530.08,1338.45 540,1336.2 C549.92,1333.95 566.75,1328.22 580.1,1325.7 C593.45,1323.18 603.42,1323.1 620.1,1321.1 C636.78,1319.1 663.5,1315.7 680.2,1313.7 C696.9,1311.7 708.62,1311.1 720.3,1309.1 C731.98,1307.1 740.28,1305.53 750.3,1301.7 C760.32,1297.87 770.38,1292.37 780.4,1286.1 C790.42,1279.83 800.38,1270.28 810.4,1264.1 C820.42,1257.92 832.15,1252.18 840.5,1249 C848.85,1245.82 853.83,1245.17 860.5,1245 C867.17,1244.83 873.83,1245.5 880.5,1248 C887.17,1250.5 892.37,1253.48 900.5,1260 C908.63,1266.52 924.5,1282.58 929.3,1287.1 L929.3,1350.4 L154,1350.4 Z" fill="#1a4d8c" fill-opacity="0.24"/>
<path d="M154,1349.8 C180.03,1349.8 267.47,1349.87 310.2,1349.8 C352.93,1349.73 387.02,1349.6 410.4,1349.4 C433.78,1349.2 437.15,1349.3 450.5,1348.6 C463.85,1347.9 478.82,1346.77 490.5,1345.2 C502.18,1343.63 512.35,1340.7 520.6,1339.2 C528.85,1337.7 530.08,1338.45 540,1336.2 C549.92,1333.95 566.75,1328.22 580.1,1325.7 C593.45,1323.18 603.42,1323.1 620.1,1321.1 C636.78,1319.1 663.5,1315.7 680.2,1313.7 C696.9,1311.7 708.62,1311.1 720.3,1309.1 C731.98,1307.1 740.28,1305.53 750.3,1301.7 C760.32,1297.87 770.38,1292.37 780.4,1286.1 C790.42,1279.83 800.38,1270.28 810.4,1264.1 C820.42,1257.92 832.15,1252.18 840.5,1249 C848.85,1245.82 853.83,1245.17 860.5,1245 C867.17,1244.83 873.83,1245.5 880.5,1248 C887.17,1250.5 892.37,1253.48 900.5,1260 C908.63,1266.52 924.5,1282.58 929.3,1287.1" fill="none" stroke="#1a4d8c" stroke-width="4"/>
<path d="M154,1336.2 C160,1335.02 177.32,1331.12 190,1329.1 C202.68,1327.08 216.73,1325.43 230.1,1324.1 C243.47,1322.77 250.17,1321.93 270.2,1321.1 C290.23,1320.27 323.6,1319.67 350.3,1319.1 C377,1318.53 403.7,1318.13 430.4,1317.7 C457.1,1317.27 492.23,1316.7 510.5,1316.5 C528.77,1316.3 518.38,1316.3 540,1316.5 C561.62,1316.7 606.82,1317.1 640.2,1317.7 C673.58,1318.3 710.27,1318.87 740.3,1320.1 C770.33,1321.33 797.03,1323.6 820.4,1325.1 C843.77,1326.6 862.35,1327.58 880.5,1329.1 C898.65,1330.62 921.17,1333.35 929.3,1334.2 L929.3,1350.4 L154,1350.4 Z" fill="#989eaa" fill-opacity="0.24"/>
<path d="M154,1336.2 C160,1335.02 177.32,1331.12 190,1329.1 C202.68,1327.08 216.73,1325.43 230.1,1324.1 C243.47,1322.77 250.17,1321.93 270.2,1321.1 C290.23,1320.27 323.6,1319.67 350.3,1319.1 C377,1318.53 403.7,1318.13 430.4,1317.7 C457.1,1317.27 492.23,1316.7 510.5,1316.5 C528.77,1316.3 518.38,1316.3 540,1316.5 C561.62,1316.7 606.82,1317.1 640.2,1317.7 C673.58,1318.3 710.27,1318.87 740.3,1320.1 C770.33,1321.33 797.03,1323.6 820.4,1325.1 C843.77,1326.6 862.35,1327.58 880.5,1329.1 C898.65,1330.62 921.17,1333.35 929.3,1334.2" fill="none" stroke="#989eaa" stroke-width="4"/>
<line x1="154" y1="1351.5" x2="929.3" y2="1351.5" stroke="#d0d3d8" stroke-width="1" />
<rect x="154" y="1352.8" width="169.54" height="30.86" fill="#969ca8" />
<rect x="322.54" y="1352.8" width="34.71" height="30.86" fill="#f4cf48" />
<rect x="356.25" y="1352.8" width="34.71" height="30.86" fill="#969ca8" />
<rect x="389.96" y="1352.8" width="34.71" height="30.86" fill="#f4cf48" />
<rect x="423.67" y="1352.8" width="34.71" height="30.86" fill="#969ca8" />
<rect x="457.38" y="1352.8" width="68.42" height="30.86" fill="#2c5eac" />
<rect x="524.8" y="1352.8" width="34.71" height="30.86" fill="#969ca8" />
<rect x="558.5" y="1352.8" width="34.71" height="30.86" fill="#2c5eac" />
<rect x="592.21" y="1352.8" width="68.42" height="30.86" fill="#969ca8" />
<rect x="659.63" y="1352.8" width="34.71" height="30.86" fill="#2c5eac" />
<rect x="693.34" y="1352.8" width="34.71" height="30.86" fill="#174c8c" />
<rect x="727.05" y="1352.8" width="34.71" height="30.86" fill="#2c5eac" />
<rect x="760.76" y="1352.8" width="34.71" height="30.86" fill="#969ca8" />
<rect x="794.47" y="1352.8" width="34.71" height="30.86" fill="#f4cf48" />
<rect x="828.17" y="1352.8" width="34.71" height="30.86" fill="#969ca8" />
<rect x="861.88" y="1352.8" width="67.42" height="30.86" fill="#174c8c" />
<rect x="154" y="1382.66" width="68.42" height="30.86" fill="#969ca8" />
<rect x="221.42" y="1382.66" width="34.71" height="30.86" fill="#2c5eac" />
<rect x="255.13" y="1382.66" width="68.42" height="30.86" fill="#969ca8" />
<rect x="322.54" y="1382.66" width="34.71" height="30.86" fill="#f4cf48" />
<rect x="356.25" y="1382.66" width="102.13" height="30.86" fill="#969ca8" />
<rect x="457.38" y="1382.66" width="34.71" height="30.86" fill="#2c5eac" />
<rect x="491.09" y="1382.66" width="34.71" height="30.86" fill="#969ca8" />
<rect x="524.8" y="1382.66" width="34.71" height="30.86" fill="#2c5eac" />
<rect x="558.5" y="1382.66" width="68.42" height="30.86" fill="#969ca8" />
<rect x="625.92" y="1382.66" width="34.71" height="30.86" fill="#f4cf48" />
<rect x="659.63" y="1382.66" width="34.71" height="30.86" fill="#174c8c" />
<rect x="693.34" y="1382.66" width="34.71" height="30.86" fill="#2c5eac" />
<rect x="727.05" y="1382.66" width="34.71" height="30.86" fill="#969ca8" />
<rect x="760.76" y="1382.66" width="34.71" height="30.86" fill="#174c8c" />
<rect x="794.47" y="1382.66" width="34.71" height="30.86" fill="#2c5eac" />
<rect x="828.17" y="1382.66" width="34.71" height="30.86" fill="#174c8c" />
<rect x="861.88" y="1382.66" width="34.71" height="30.86" fill="#969ca8" />
<rect x="895.59" y="1382.66" width="33.71" height="30.86" fill="#f4cf48" />
<rect x="154" y="1412.51" width="34.71" height="30.86" fill="#969ca8" />
<rect x="187.71" y="1412.51" width="68.42" height="30.86" fill="#2c5eac" />
<rect x="255.13" y="1412.51" width="34.71" height="30.86" fill="#969ca8" />
<rect x="288.83" y="1412.51" width="34.71" height="30.86" fill="#2c5eac" />
<rect x="322.54" y="1412.51" width="34.71" height="30.86" fill="#f4cf48" />
<rect x="356.25" y="1412.51" width="34.71" height="30.86" fill="#2c5eac" />
<rect x="389.96" y="1412.51" width="34.71" height="30.86" fill="#f4cf48" />
<rect x="423.67" y="1412.51" width="169.54" height="30.86" fill="#969ca8" />
<rect x="592.21" y="1412.51" width="34.71" height="30.86" fill="#f4cf48" />
<rect x="625.92" y="1412.51" width="34.71" height="30.86" fill="#969ca8" />
<rect x="659.63" y="1412.51" width="34.71" height="30.86" fill="#2c5eac" />
<rect x="693.34" y="1412.51" width="68.42" height="30.86" fill="#969ca8" />
<rect x="760.76" y="1412.51" width="34.71" height="30.86" fill="#174c8c" />
<rect x="794.47" y="1412.51" width="34.71" height="30.86" fill="#969ca8" />
<rect x="828.17" y="1412.51" width="68.42" height="30.86" fill="#174c8c" />
<rect x="895.59" y="1412.51" width="33.71" height="30.86" fill="#969ca8" />
<rect x="154" y="1442.37" width="34.71" height="30.86" fill="#969ca8" />
<rect x="187.71" y="1442.37" width="34.71" height="30.86" fill="#f4cf48" />
<rect x="221.42" y="1442.37" width="34.71" height="30.86" fill="#969ca8" />
<rect x="255.13" y="1442.37" width="34.71" height="30.86" fill="#f4cf48" />
<rect x="288.83" y="1442.37" width="34.71" height="30.86" fill="#2c5eac" />
<rect x="322.54" y="1442.37" width="34.71" height="30.86" fill="#969ca8" />
<rect x="356.25" y="1442.37" width="34.71" height="30.86" fill="#f4cf48" />
<rect x="389.96" y="1442.37" width="135.83" height="30.86" fill="#969ca8" />
<rect x="524.8" y="1442.37" width="34.71" height="30.86" fill="#2c5eac" />
<rect x="558.5" y="1442.37" width="34.71" height="30.86" fill="#969ca8" />
<rect x="592.21" y="1442.37" width="68.42" height="30.86" fill="#2c5eac" />
<rect x="659.63" y="1442.37" width="34.71" height="30.86" fill="#174c8c" />
<rect x="693.34" y="1442.37" width="34.71" height="30.86" fill="#2c5eac" />
<rect x="727.05" y="1442.37" width="68.42" height="30.86" fill="#969ca8" />
<rect x="794.47" y="1442.37" width="68.42" height="30.86" fill="#174c8c" />
<rect x="861.88" y="1442.37" width="67.42" height="30.86" fill="#969ca8" />
<rect x="154" y="1472.22" width="34.71" height="30.86" fill="#f4cf48" />
<rect x="187.71" y="1472.22" width="68.42" height="30.86" fill="#969ca8" />
<rect x="255.13" y="1472.22" width="34.71" height="30.86" fill="#2c5eac" />
<rect x="288.83" y="1472.22" width="102.13" height="30.86" fill="#969ca8" />
<rect x="389.96" y="1472.22" width="34.71" height="30.86" fill="#f4cf48" />
<rect x="423.67" y="1472.22" width="102.13" height="30.86" fill="#2c5eac" />
<rect x="524.8" y="1472.22" width="102.13" height="30.86" fill="#969ca8" />
<rect x="625.92" y="1472.22" width="34.71" height="30.86" fill="#174c8c" />
<rect x="659.63" y="1472.22" width="68.42" height="30.86" fill="#969ca8" />
<rect x="727.05" y="1472.22" width="34.71" height="30.86" fill="#f4cf48" />
<rect x="760.76" y="1472.22" width="34.71" height="30.86" fill="#2c5eac" />
<rect x="794.47" y="1472.22" width="34.71" height="30.86" fill="#174c8c" />
<rect x="828.17" y="1472.22" width="34.71" height="30.86" fill="#969ca8" />
<rect x="861.88" y="1472.22" width="34.71" height="30.86" fill="#174c8c" />
<rect x="895.59" y="1472.22" width="33.71" height="30.86" fill="#969ca8" />
<rect x="154" y="1502.08" width="34.71" height="30.86" fill="#969ca8" />
<rect x="187.71" y="1502.08" width="34.71" height="30.86" fill="#2c5eac" />
<rect x="221.42" y="1502.08" width="34.71" height="30.86" fill="#969ca8" />
<rect x="255.13" y="1502.08" width="34.71" height="30.86" fill="#f4cf48" />
<rect x="288.83" y="1502.08" width="34.71" height="30.86" fill="#2c5eac" />
<rect x="322.54" y="1502.08" width="68.42" height="30.86" fill="#969ca8" />
<rect x="389.96" y="1502.08" width="68.42" height="30.86" fill="#f4cf48" />
<rect x="457.38" y="1502.08" width="34.71" height="30.86" fill="#2c5eac" />
<rect x="491.09" y="1502.08" width="68.42" height="30.86" fill="#969ca8" />
<rect x="558.5" y="1502.08" width="34.71" height="30.86" fill="#2c5eac" />
<rect x="592.21" y="1502.08" width="68.42" height="30.86" fill="#969ca8" />
<rect x="659.63" y="1502.08" width="34.71" height="30.86" fill="#2c5eac" />
<rect x="693.34" y="1502.08" width="34.71" height="30.86" fill="#174c8c" />
<rect x="727.05" y="1502.08" width="68.42" height="30.86" fill="#969ca8" />
<rect x="794.47" y="1502.08" width="68.42" height="30.86" fill="#174c8c" />
<rect x="861.88" y="1502.08" width="67.42" height="30.86" fill="#969ca8" />
<rect x="154" y="1531.93" width="34.71" height="30.86" fill="#2c5eac" />
<rect x="187.71" y="1531.93" width="34.71" height="30.86" fill="#969ca8" />
<rect x="221.42" y="1531.93" width="34.71" height="30.86" fill="#f4cf48" />
<rect x="255.13" y="1531.93" width="34.71" height="30.86" fill="#2c5eac" />
<rect x="288.83" y="1531.93" width="34.71" height="30.86" fill="#969ca8" />
<rect x="322.54" y="1531.93" width="34.71" height="30.86" fill="#f4cf48" />
<rect x="356.25" y="1531.93" width="102.13" height="30.86" fill="#969ca8" />
<rect x="457.38" y="1531.93" width="34.71" height="30.86" fill="#2c5eac" />
<rect x="491.09" y="1531.93" width="34.71" height="30.86" fill="#969ca8" />
<rect x="524.8" y="1531.93" width="34.71" height="30.86" fill="#2c5eac" />
<rect x="558.5" y="1531.93" width="34.71" height="30.86" fill="#174c8c" />
<rect x="592.21" y="1531.93" width="203.25" height="30.86" fill="#969ca8" />
<rect x="794.47" y="1531.93" width="34.71" height="30.86" fill="#f4cf48" />
<rect x="828.17" y="1531.93" width="68.42" height="30.86" fill="#174c8c" />
<rect x="895.59" y="1531.93" width="33.71" height="30.86" fill="#2c5eac" />
<rect x="154" y="1561.79" width="34.71" height="30.86" fill="#969ca8" />
<rect x="187.71" y="1561.79" width="34.71" height="30.86" fill="#2c5eac" />
<rect x="221.42" y="1561.79" width="34.71" height="30.86" fill="#f4cf48" />
<rect x="255.13" y="1561.79" width="34.71" height="30.86" fill="#969ca8" />
<rect x="288.83" y="1561.79" width="34.71" height="30.86" fill="#2c5eac" />
<rect x="322.54" y="1561.79" width="34.71" height="30.86" fill="#f4cf48" />
<rect x="356.25" y="1561.79" width="34.71" height="30.86" fill="#969ca8" />
<rect x="389.96" y="1561.79" width="34.71" height="30.86" fill="#2c5eac" />
<rect x="423.67" y="1561.79" width="102.13" height="30.86" fill="#969ca8" />
<rect x="524.8" y="1561.79" width="34.71" height="30.86" fill="#174c8c" />
<rect x="558.5" y="1561.79" width="34.71" height="30.86" fill="#f4cf48" />
<rect x="592.21" y="1561.79" width="34.71" height="30.86" fill="#969ca8" />
<rect x="625.92" y="1561.79" width="34.71" height="30.86" fill="#2c5eac" />
<rect x="659.63" y="1561.79" width="34.71" height="30.86" fill="#969ca8" />
<rect x="693.34" y="1561.79" width="34.71" height="30.86" fill="#2c5eac" />
<rect x="727.05" y="1561.79" width="68.42" height="30.86" fill="#969ca8" />
<rect x="794.47" y="1561.79" width="34.71" height="30.86" fill="#174c8c" />
<rect x="828.17" y="1561.79" width="68.42" height="30.86" fill="#969ca8" />
<rect x="895.59" y="1561.79" width="33.71" height="30.86" fill="#174c8c" />
<rect x="154" y="1591.64" width="34.71" height="29.86" fill="#f4cf48" />
<rect x="187.71" y="1591.64" width="34.71" height="29.86" fill="#969ca8" />
<rect x="221.42" y="1591.64" width="34.71" height="29.86" fill="#f4cf48" />
<rect x="255.13" y="1591.64" width="68.42" height="29.86" fill="#969ca8" />
<rect x="322.54" y="1591.64" width="68.42" height="29.86" fill="#2c5eac" />
<rect x="389.96" y="1591.64" width="68.42" height="29.86" fill="#969ca8" />
<rect x="457.38" y="1591.64" width="68.42" height="29.86" fill="#2c5eac" />
<rect x="524.8" y="1591.64" width="34.71" height="29.86" fill="#969ca8" />
<rect x="558.5" y="1591.64" width="34.71" height="29.86" fill="#174c8c" />
<rect x="592.21" y="1591.64" width="68.42" height="29.86" fill="#969ca8" />
<rect x="659.63" y="1591.64" width="34.71" height="29.86" fill="#2c5eac" />
<rect x="693.34" y="1591.64" width="68.42" height="29.86" fill="#969ca8" />
<rect x="760.76" y="1591.64" width="34.71" height="29.86" fill="#174c8c" />
<rect x="794.47" y="1591.64" width="34.71" height="29.86" fill="#969ca8" />
<rect x="828.17" y="1591.64" width="34.71" height="29.86" fill="#f4cf48" />
<rect x="861.88" y="1591.64" width="34.71" height="29.86" fill="#174c8c" />
<rect x="895.59" y="1591.64" width="33.71" height="29.86" fill="#969ca8" />
<text x="148" y="1376.33" font-size="24.3" fill="#464b4d" text-anchor="end" font-style="italic">ATP5F1B</text>
<text x="148" y="1406.18" font-size="24.3" fill="#464b4d" text-anchor="end" font-style="italic">ATP5MC2</text>
<text x="148" y="1436.04" font-size="24.3" fill="#464b4d" text-anchor="end" font-style="italic">NDUFA5</text>
<text x="148" y="1465.89" font-size="24.3" fill="#464b4d" text-anchor="end" font-style="italic">ATP5ME</text>
<text x="148" y="1495.75" font-size="24.3" fill="#464b4d" text-anchor="end" font-style="italic">ATP5MG</text>
<text x="148" y="1525.61" font-size="24.3" fill="#464b4d" text-anchor="end" font-style="italic">COX6A1</text>
<text x="148" y="1555.46" font-size="24.3" fill="#464b4d" text-anchor="end" font-style="italic">NDUFS3</text>
<text x="148" y="1585.32" font-size="24.3" fill="#464b4d" text-anchor="end" font-style="italic">NDUFB8</text>
<text x="148" y="1615.17" font-size="24.3" fill="#464b4d" text-anchor="end" font-style="italic">NDUFA8</text>
<rect x="154" y="1352.8" width="775.3" height="268.7" fill="none" stroke="#444444" stroke-width="1.6"/>
<text x="209.2" y="1649.6" font-size="44" fill="#231f20">←</text>
<text x="253" y="1648.5" font-size="28.2" fill="#231f20">greater dep. - ranked by dep. score - less dep.</text>
<text x="831.4" y="1649.6" font-size="44" fill="#231f20">→</text>
<text x="230.6" y="1733.2" font-size="24" fill="#231f20"><tspan font-style="italic">KRAS</tspan> allele</text>
<rect x="382.2" y="1707.8" width="82.4" height="38.1" rx="6" fill="#2e5fac"/>
<text x="423.4" y="1735.5" font-size="23" fill="white" text-anchor="middle">G12D</text>
<rect x="511.7" y="1707.8" width="80" height="38.1" rx="6" fill="#f4cf48"/>
<text x="551.7" y="1735.5" font-size="23" fill="#231f20" text-anchor="middle">G12V</text>
<rect x="638.8" y="1707.8" width="82.3" height="38.1" rx="6" fill="#1a4d8c"/>
<text x="679.95" y="1735.5" font-size="23" fill="white" text-anchor="middle">G13D</text>
<rect x="768.2" y="1707.8" width="57.9" height="38.1" rx="6" fill="#989eaa"/>
<text x="797.15" y="1735.5" font-size="23" fill="white" text-anchor="middle">WT</text>
<text x="953" y="21" font-size="27" fill="#231f20" font-weight="bold">d</text>
<rect x="1062.6" y="135.5" width="16.63" height="23.62" fill="#ec764f" />
<rect x="1078.23" y="135.5" width="16.63" height="23.62" fill="#eb987b" />
<rect x="1093.86" y="135.5" width="16.63" height="23.62" fill="#ec764f" />
<rect x="1109.49" y="135.5" width="16.63" height="23.62" fill="#edefee" />
<rect x="1125.12" y="135.5" width="16.63" height="23.62" fill="#eb987b" />
<rect x="1140.75" y="135.5" width="16.63" height="23.62" fill="#ec764f" />
<rect x="1156.38" y="135.5" width="16.63" height="23.62" fill="#eb987b" />
<rect x="1172.01" y="135.5" width="47.89" height="23.62" fill="#ebc1af" />
<rect x="1218.9" y="135.5" width="31.26" height="23.62" fill="#bea5cf" />
<rect x="1062.6" y="158.12" width="16.63" height="23.62" fill="#ec764f" />
<rect x="1078.23" y="158.12" width="16.63" height="23.62" fill="#edefee" />
<rect x="1093.86" y="158.12" width="16.63" height="23.62" fill="#ebc1af" />
<rect x="1109.49" y="158.12" width="16.63" height="23.62" fill="#edefee" />
<rect x="1125.12" y="158.12" width="16.63" height="23.62" fill="#ebc1af" />
<rect x="1140.75" y="158.12" width="16.63" height="23.62" fill="#edefee" />
<rect x="1156.38" y="158.12" width="32.26" height="23.62" fill="#eb987b" />
<rect x="1187.64" y="158.12" width="16.63" height="23.62" fill="#ebc1af" />
<rect x="1203.27" y="158.12" width="32.26" height="23.62" fill="#bea5cf" />
<rect x="1234.53" y="158.12" width="15.63" height="23.62" fill="#edefee" />
<rect x="1062.6" y="180.74" width="47.89" height="23.62" fill="#ec764f" />
<rect x="1109.49" y="180.74" width="16.63" height="23.62" fill="#eb987b" />
<rect x="1125.12" y="180.74" width="16.63" height="23.62" fill="#d4d6d5" />
<rect x="1140.75" y="180.74" width="16.63" height="23.62" fill="#edefee" />
<rect x="1156.38" y="180.74" width="16.63" height="23.62" fill="#eb987b" />
<rect x="1172.01" y="180.74" width="47.89" height="23.62" fill="#ebc1af" />
<rect x="1218.9" y="180.74" width="16.63" height="23.62" fill="#edefee" />
<rect x="1234.53" y="180.74" width="15.63" height="23.62" fill="#eb987b" />
<rect x="1062.6" y="203.36" width="32.26" height="23.62" fill="#eb987b" />
<rect x="1093.86" y="203.36" width="16.63" height="23.62" fill="#ec764f" />
<rect x="1109.49" y="203.36" width="16.63" height="23.62" fill="#eb987b" />
<rect x="1125.12" y="203.36" width="16.63" height="23.62" fill="#ebc1af" />
<rect x="1140.75" y="203.36" width="16.63" height="23.62" fill="#edefee" />
<rect x="1156.38" y="203.36" width="16.63" height="23.62" fill="#ebc1af" />
<rect x="1172.01" y="203.36" width="32.26" height="23.62" fill="#edefee" />
<rect x="1203.27" y="203.36" width="16.63" height="23.62" fill="#bea5cf" />
<rect x="1218.9" y="203.36" width="16.63" height="23.62" fill="#edefee" />
<rect x="1234.53" y="203.36" width="15.63" height="23.62" fill="#ebc1af" />
<rect x="1062.6" y="225.98" width="32.26" height="23.62" fill="#ec764f" />
<rect x="1093.86" y="225.98" width="16.63" height="23.62" fill="#edefee" />
<rect x="1109.49" y="225.98" width="16.63" height="23.62" fill="#bea5cf" />
<rect x="1125.12" y="225.98" width="16.63" height="23.62" fill="#ec764f" />
<rect x="1140.75" y="225.98" width="16.63" height="23.62" fill="#edefee" />
<rect x="1156.38" y="225.98" width="16.63" height="23.62" fill="#ebc1af" />
<rect x="1172.01" y="225.98" width="16.63" height="23.62" fill="#edefee" />
<rect x="1187.64" y="225.98" width="16.63" height="23.62" fill="#ebc1af" />
<rect x="1203.27" y="225.98" width="32.26" height="23.62" fill="#bea5cf" />
<rect x="1234.53" y="225.98" width="15.63" height="23.62" fill="#ec764f" />
<rect x="1062.6" y="248.6" width="32.26" height="23.62" fill="#ec764f" />
<rect x="1093.86" y="248.6" width="16.63" height="23.62" fill="#ebc1af" />
<rect x="1109.49" y="248.6" width="16.63" height="23.62" fill="#eb987b" />
<rect x="1125.12" y="248.6" width="16.63" height="23.62" fill="#d4d6d5" />
<rect x="1140.75" y="248.6" width="32.26" height="23.62" fill="#edefee" />
<rect x="1172.01" y="248.6" width="16.63" height="23.62" fill="#9b76b5" />
<rect x="1187.64" y="248.6" width="16.63" height="23.62" fill="#ec764f" />
<rect x="1203.27" y="248.6" width="16.63" height="23.62" fill="#bea5cf" />
<rect x="1218.9" y="248.6" width="16.63" height="23.62" fill="#edefee" />
<rect x="1234.53" y="248.6" width="15.63" height="23.62" fill="#ebc1af" />
<rect x="1062.6" y="271.22" width="16.63" height="23.62" fill="#ec764f" />
<rect x="1078.23" y="271.22" width="32.26" height="23.62" fill="#ebc1af" />
<rect x="1109.49" y="271.22" width="16.63" height="23.62" fill="#eb987b" />
<rect x="1125.12" y="271.22" width="16.63" height="23.62" fill="#ebc1af" />
<rect x="1140.75" y="271.22" width="32.26" height="23.62" fill="#edefee" />
<rect x="1172.01" y="271.22" width="16.63" height="23.62" fill="#ebc1af" />
<rect x="1187.64" y="271.22" width="32.26" height="23.62" fill="#9b76b5" />
<rect x="1218.9" y="271.22" width="16.63" height="23.62" fill="#edefee" />
<rect x="1234.53" y="271.22" width="15.63" height="23.62" fill="#9b76b5" />
<rect x="1062.6" y="293.84" width="16.63" height="23.62" fill="#edefee" />
<rect x="1078.23" y="293.84" width="16.63" height="23.62" fill="#ec764f" />
<rect x="1093.86" y="293.84" width="32.26" height="23.62" fill="#ebc1af" />
<rect x="1125.12" y="293.84" width="16.63" height="23.62" fill="#edefee" />
<rect x="1140.75" y="293.84" width="16.63" height="23.62" fill="#9b76b5" />
<rect x="1156.38" y="293.84" width="32.26" height="23.62" fill="#edefee" />
<rect x="1187.64" y="293.84" width="16.63" height="23.62" fill="#bea5cf" />
<rect x="1203.27" y="293.84" width="16.63" height="23.62" fill="#ebc1af" />
<rect x="1218.9" y="293.84" width="16.63" height="23.62" fill="#eb987b" />
<rect x="1234.53" y="293.84" width="15.63" height="23.62" fill="#edefee" />
<rect x="1062.6" y="316.46" width="32.26" height="23.62" fill="#ec764f" />
<rect x="1093.86" y="316.46" width="16.63" height="23.62" fill="#eb987b" />
<rect x="1109.49" y="316.46" width="16.63" height="23.62" fill="#ebc1af" />
<rect x="1125.12" y="316.46" width="16.63" height="23.62" fill="#eb987b" />
<rect x="1140.75" y="316.46" width="16.63" height="23.62" fill="#ebc1af" />
<rect x="1156.38" y="316.46" width="16.63" height="23.62" fill="#edefee" />
<rect x="1172.01" y="316.46" width="16.63" height="23.62" fill="#9b76b5" />
<rect x="1187.64" y="316.46" width="16.63" height="23.62" fill="#eb987b" />
<rect x="1203.27" y="316.46" width="16.63" height="23.62" fill="#edefee" />
<rect x="1218.9" y="316.46" width="16.63" height="23.62" fill="#ec764f" />
<rect x="1234.53" y="316.46" width="15.63" height="23.62" fill="#d4d6d5" />
<rect x="1062.6" y="339.08" width="32.26" height="23.62" fill="#eb987b" />
<rect x="1093.86" y="339.08" width="16.63" height="23.62" fill="#ec764f" />
<rect x="1109.49" y="339.08" width="16.63" height="23.62" fill="#bea5cf" />
<rect x="1125.12" y="339.08" width="16.63" height="23.62" fill="#edefee" />
<rect x="1140.75" y="339.08" width="47.89" height="23.62" fill="#bea5cf" />
<rect x="1187.64" y="339.08" width="16.63" height="23.62" fill="#ec764f" />
<rect x="1203.27" y="339.08" width="16.63" height="23.62" fill="#edefee" />
<rect x="1218.9" y="339.08" width="16.63" height="23.62" fill="#bea5cf" />
<rect x="1234.53" y="339.08" width="15.63" height="23.62" fill="#ebc1af" />
<rect x="1062.6" y="361.7" width="16.63" height="23.62" fill="#edefee" />
<rect x="1078.23" y="361.7" width="32.26" height="23.62" fill="#eb987b" />
<rect x="1109.49" y="361.7" width="16.63" height="23.62" fill="#ec764f" />
<rect x="1125.12" y="361.7" width="32.26" height="23.62" fill="#edefee" />
<rect x="1156.38" y="361.7" width="16.63" height="23.62" fill="#eb987b" />
<rect x="1172.01" y="361.7" width="32.26" height="23.62" fill="#edefee" />
<rect x="1203.27" y="361.7" width="16.63" height="23.62" fill="#ec764f" />
<rect x="1218.9" y="361.7" width="16.63" height="23.62" fill="#edefee" />
<rect x="1234.53" y="361.7" width="15.63" height="23.62" fill="#ec764f" />
<rect x="1062.6" y="384.32" width="16.63" height="23.62" fill="#9b76b5" />
<rect x="1078.23" y="384.32" width="16.63" height="23.62" fill="#eb987b" />
<rect x="1093.86" y="384.32" width="16.63" height="23.62" fill="#edefee" />
<rect x="1109.49" y="384.32" width="16.63" height="23.62" fill="#9b76b5" />
<rect x="1125.12" y="384.32" width="16.63" height="23.62" fill="#ebc1af" />
<rect x="1140.75" y="384.32" width="32.26" height="23.62" fill="#edefee" />
<rect x="1172.01" y="384.32" width="16.63" height="23.62" fill="#bea5cf" />
<rect x="1187.64" y="384.32" width="32.26" height="23.62" fill="#ebc1af" />
<rect x="1218.9" y="384.32" width="31.26" height="23.62" fill="#7f4c9e" />
<rect x="1062.6" y="406.94" width="16.63" height="23.62" fill="#bea5cf" />
<rect x="1078.23" y="406.94" width="32.26" height="23.62" fill="#eb987b" />
<rect x="1109.49" y="406.94" width="16.63" height="23.62" fill="#edefee" />
<rect x="1125.12" y="406.94" width="16.63" height="23.62" fill="#ec764f" />
<rect x="1140.75" y="406.94" width="16.63" height="23.62" fill="#ebc1af" />
<rect x="1156.38" y="406.94" width="47.89" height="23.62" fill="#edefee" />
<rect x="1203.27" y="406.94" width="16.63" height="23.62" fill="#ebc1af" />
<rect x="1218.9" y="406.94" width="31.26" height="23.62" fill="#edefee" />
<rect x="1062.6" y="429.56" width="32.26" height="23.62" fill="#ebc1af" />
<rect x="1093.86" y="429.56" width="16.63" height="23.62" fill="#ec764f" />
<rect x="1109.49" y="429.56" width="16.63" height="23.62" fill="#edefee" />
<rect x="1125.12" y="429.56" width="32.26" height="23.62" fill="#ebc1af" />
<rect x="1156.38" y="429.56" width="16.63" height="23.62" fill="#bea5cf" />
<rect x="1172.01" y="429.56" width="16.63" height="23.62" fill="#edefee" />
<rect x="1187.64" y="429.56" width="16.63" height="23.62" fill="#ec764f" />
<rect x="1203.27" y="429.56" width="16.63" height="23.62" fill="#eb987b" />
<rect x="1218.9" y="429.56" width="16.63" height="23.62" fill="#ec764f" />
<rect x="1234.53" y="429.56" width="15.63" height="23.62" fill="#eb987b" />
<rect x="1062.6" y="452.18" width="16.63" height="23.62" fill="#ebc1af" />
<rect x="1078.23" y="452.18" width="16.63" height="23.62" fill="#eb987b" />
<rect x="1093.86" y="452.18" width="16.63" height="23.62" fill="#ec764f" />
<rect x="1109.49" y="452.18" width="16.63" height="23.62" fill="#eb987b" />
<rect x="1125.12" y="452.18" width="47.89" height="23.62" fill="#ebc1af" />
<rect x="1172.01" y="452.18" width="47.89" height="23.62" fill="#eb987b" />
<rect x="1218.9" y="452.18" width="16.63" height="23.62" fill="#edefee" />
<rect x="1234.53" y="452.18" width="15.63" height="23.62" fill="#ebc1af" />
<rect x="1062.6" y="474.8" width="16.63" height="23.62" fill="#ec764f" />
<rect x="1078.23" y="474.8" width="16.63" height="23.62" fill="#bea5cf" />
<rect x="1093.86" y="474.8" width="32.26" height="23.62" fill="#edefee" />
<rect x="1125.12" y="474.8" width="16.63" height="23.62" fill="#ebc1af" />
<rect x="1140.75" y="474.8" width="16.63" height="23.62" fill="#eb987b" />
<rect x="1156.38" y="474.8" width="16.63" height="23.62" fill="#edefee" />
<rect x="1172.01" y="474.8" width="16.63" height="23.62" fill="#eb987b" />
<rect x="1187.64" y="474.8" width="16.63" height="23.62" fill="#9b76b5" />
<rect x="1203.27" y="474.8" width="46.89" height="23.62" fill="#eb987b" />
<rect x="1062.6" y="497.42" width="16.63" height="23.62" fill="#eb987b" />
<rect x="1078.23" y="497.42" width="47.89" height="23.62" fill="#edefee" />
<rect x="1125.12" y="497.42" width="32.26" height="23.62" fill="#ec764f" />
<rect x="1156.38" y="497.42" width="16.63" height="23.62" fill="#edefee" />
<rect x="1172.01" y="497.42" width="16.63" height="23.62" fill="#ebc1af" />
<rect x="1187.64" y="497.42" width="16.63" height="23.62" fill="#edefee" />
<rect x="1203.27" y="497.42" width="16.63" height="23.62" fill="#ebc1af" />
<rect x="1218.9" y="497.42" width="31.26" height="23.62" fill="#bea5cf" />
<rect x="1062.6" y="520.04" width="16.63" height="23.62" fill="#9b76b5" />
<rect x="1078.23" y="520.04" width="94.78" height="23.62" fill="#ec764f" />
<rect x="1172.01" y="520.04" width="16.63" height="23.62" fill="#eb987b" />
<rect x="1187.64" y="520.04" width="16.63" height="23.62" fill="#ec764f" />
<rect x="1203.27" y="520.04" width="16.63" height="23.62" fill="#eb987b" />
<rect x="1218.9" y="520.04" width="31.26" height="23.62" fill="#ec764f" />
<rect x="1062.6" y="542.66" width="16.63" height="23.62" fill="#ebc1af" />
<rect x="1078.23" y="542.66" width="16.63" height="23.62" fill="#ec764f" />
<rect x="1093.86" y="542.66" width="32.26" height="23.62" fill="#ebc1af" />
<rect x="1125.12" y="542.66" width="47.89" height="23.62" fill="#ec764f" />
<rect x="1172.01" y="542.66" width="16.63" height="23.62" fill="#ebc1af" />
<rect x="1187.64" y="542.66" width="16.63" height="23.62" fill="#ec764f" />
<rect x="1203.27" y="542.66" width="16.63" height="23.62" fill="#eb987b" />
<rect x="1218.9" y="542.66" width="16.63" height="23.62" fill="#ec764f" />
<rect x="1234.53" y="542.66" width="15.63" height="23.62" fill="#ebc1af" />
<rect x="1062.6" y="565.28" width="16.63" height="23.62" fill="#ec764f" />
<rect x="1078.23" y="565.28" width="32.26" height="23.62" fill="#ebc1af" />
<rect x="1109.49" y="565.28" width="16.63" height="23.62" fill="#edefee" />
<rect x="1125.12" y="565.28" width="16.63" height="23.62" fill="#bea5cf" />
<rect x="1140.75" y="565.28" width="47.89" height="23.62" fill="#ebc1af" />
<rect x="1187.64" y="565.28" width="16.63" height="23.62" fill="#ec764f" />
<rect x="1203.27" y="565.28" width="16.63" height="23.62" fill="#bea5cf" />
<rect x="1218.9" y="565.28" width="16.63" height="23.62" fill="#ec764f" />
<rect x="1234.53" y="565.28" width="15.63" height="23.62" fill="#ebc1af" />
<rect x="1062.6" y="587.9" width="16.63" height="23.62" fill="#ebc1af" />
<rect x="1078.23" y="587.9" width="16.63" height="23.62" fill="#ec764f" />
<rect x="1093.86" y="587.9" width="16.63" height="23.62" fill="#edefee" />
<rect x="1109.49" y="587.9" width="16.63" height="23.62" fill="#9b76b5" />
<rect x="1125.12" y="587.9" width="16.63" height="23.62" fill="#bea5cf" />
<rect x="1140.75" y="587.9" width="32.26" height="23.62" fill="#edefee" />
<rect x="1172.01" y="587.9" width="16.63" height="23.62" fill="#bea5cf" />
<rect x="1187.64" y="587.9" width="16.63" height="23.62" fill="#ec764f" />
<rect x="1203.27" y="587.9" width="46.89" height="23.62" fill="#eb987b" />
<rect x="1062.6" y="610.52" width="32.26" height="23.62" fill="#bea5cf" />
<rect x="1093.86" y="610.52" width="47.89" height="23.62" fill="#ebc1af" />
<rect x="1140.75" y="610.52" width="16.63" height="23.62" fill="#edefee" />
<rect x="1156.38" y="610.52" width="16.63" height="23.62" fill="#ebc1af" />
<rect x="1172.01" y="610.52" width="16.63" height="23.62" fill="#eb987b" />
<rect x="1187.64" y="610.52" width="16.63" height="23.62" fill="#ec764f" />
<rect x="1203.27" y="610.52" width="32.26" height="23.62" fill="#ebc1af" />
<rect x="1234.53" y="610.52" width="15.63" height="23.62" fill="#edefee" />
<rect x="1062.6" y="633.14" width="16.63" height="22.62" fill="#ec764f" />
<rect x="1078.23" y="633.14" width="16.63" height="22.62" fill="#edefee" />
<rect x="1093.86" y="633.14" width="16.63" height="22.62" fill="#ec764f" />
<rect x="1109.49" y="633.14" width="16.63" height="22.62" fill="#d4d6d5" />
<rect x="1125.12" y="633.14" width="16.63" height="22.62" fill="#ebc1af" />
<rect x="1140.75" y="633.14" width="16.63" height="22.62" fill="#eb987b" />
<rect x="1156.38" y="633.14" width="16.63" height="22.62" fill="#ebc1af" />
<rect x="1172.01" y="633.14" width="16.63" height="22.62" fill="#eb987b" />
<rect x="1187.64" y="633.14" width="16.63" height="22.62" fill="#edefee" />
<rect x="1203.27" y="633.14" width="16.63" height="22.62" fill="#eb987b" />
<rect x="1218.9" y="633.14" width="16.63" height="22.62" fill="#ebc1af" />
<rect x="1234.53" y="633.14" width="15.63" height="22.62" fill="#eb987b" />
<rect x="1266.41" y="135.5" width="16.63" height="23.62" fill="#ebc1af" />
<rect x="1282.04" y="135.5" width="16.63" height="23.62" fill="#bea5cf" />
<rect x="1297.67" y="135.5" width="16.63" height="23.62" fill="#edefee" />
<rect x="1313.3" y="135.5" width="16.63" height="23.62" fill="#ebc1af" />
<rect x="1328.93" y="135.5" width="15.63" height="23.62" fill="#bea5cf" />
<rect x="1266.41" y="158.12" width="16.63" height="23.62" fill="#eb987b" />
<rect x="1282.04" y="158.12" width="16.63" height="23.62" fill="#7f4c9e" />
<rect x="1297.67" y="158.12" width="16.63" height="23.62" fill="#bea5cf" />
<rect x="1313.3" y="158.12" width="16.63" height="23.62" fill="#7f4c9e" />
<rect x="1328.93" y="158.12" width="15.63" height="23.62" fill="#9b76b5" />
<rect x="1266.41" y="180.74" width="16.63" height="23.62" fill="#edefee" />
<rect x="1282.04" y="180.74" width="16.63" height="23.62" fill="#ebc1af" />
<rect x="1297.67" y="180.74" width="16.63" height="23.62" fill="#9b76b5" />
<rect x="1313.3" y="180.74" width="31.26" height="23.62" fill="#bea5cf" />
<rect x="1266.41" y="203.36" width="16.63" height="23.62" fill="#9b76b5" />
<rect x="1282.04" y="203.36" width="16.63" height="23.62" fill="#bea5cf" />
<rect x="1297.67" y="203.36" width="16.63" height="23.62" fill="#7f4c9e" />
<rect x="1313.3" y="203.36" width="16.63" height="23.62" fill="#d4d6d5" />
<rect x="1328.93" y="203.36" width="15.63" height="23.62" fill="#7f4c9e" />
<rect x="1266.41" y="225.98" width="16.63" height="23.62" fill="#edefee" />
<rect x="1282.04" y="225.98" width="32.26" height="23.62" fill="#7f4c9e" />
<rect x="1313.3" y="225.98" width="16.63" height="23.62" fill="#bea5cf" />
<rect x="1328.93" y="225.98" width="15.63" height="23.62" fill="#9b76b5" />
<rect x="1266.41" y="248.6" width="16.63" height="23.62" fill="#bea5cf" />
<rect x="1282.04" y="248.6" width="32.26" height="23.62" fill="#9b76b5" />
<rect x="1313.3" y="248.6" width="16.63" height="23.62" fill="#7f4c9e" />
<rect x="1328.93" y="248.6" width="15.63" height="23.62" fill="#9b76b5" />
<rect x="1266.41" y="271.22" width="16.63" height="23.62" fill="#bea5cf" />
<rect x="1282.04" y="271.22" width="32.26" height="23.62" fill="#7f4c9e" />
<rect x="1313.3" y="271.22" width="16.63" height="23.62" fill="#d4d6d5" />
<rect x="1328.93" y="271.22" width="15.63" height="23.62" fill="#7f4c9e" />
<rect x="1266.41" y="293.84" width="16.63" height="23.62" fill="#7f4c9e" />
<rect x="1282.04" y="293.84" width="16.63" height="23.62" fill="#9b76b5" />
<rect x="1297.67" y="293.84" width="32.26" height="23.62" fill="#bea5cf" />
<rect x="1328.93" y="293.84" width="15.63" height="23.62" fill="#9b76b5" />
<rect x="1266.41" y="316.46" width="16.63" height="23.62" fill="#bea5cf" />
<rect x="1282.04" y="316.46" width="16.63" height="23.62" fill="#7f4c9e" />
<rect x="1297.67" y="316.46" width="16.63" height="23.62" fill="#bea5cf" />
<rect x="1313.3" y="316.46" width="16.63" height="23.62" fill="#d4d6d5" />
<rect x="1328.93" y="316.46" width="15.63" height="23.62" fill="#7f4c9e" />
<rect x="1266.41" y="339.08" width="32.26" height="23.62" fill="#9b76b5" />
<rect x="1297.67" y="339.08" width="16.63" height="23.62" fill="#7f4c9e" />
<rect x="1313.3" y="339.08" width="16.63" height="23.62" fill="#edefee" />
<rect x="1328.93" y="339.08" width="15.63" height="23.62" fill="#9b76b5" />
<rect x="1266.41" y="361.7" width="16.63" height="23.62" fill="#edefee" />
<rect x="1282.04" y="361.7" width="16.63" height="23.62" fill="#7f4c9e" />
<rect x="1297.67" y="361.7" width="16.63" height="23.62" fill="#9b76b5" />
<rect x="1313.3" y="361.7" width="16.63" height="23.62" fill="#bea5cf" />
<rect x="1328.93" y="361.7" width="15.63" height="23.62" fill="#edefee" />
<rect x="1266.41" y="384.32" width="16.63" height="23.62" fill="#bea5cf" />
<rect x="1282.04" y="384.32" width="32.26" height="23.62" fill="#7f4c9e" />
<rect x="1313.3" y="384.32" width="16.63" height="23.62" fill="#9b76b5" />
<rect x="1328.93" y="384.32" width="15.63" height="23.62" fill="#bea5cf" />
<rect x="1266.41" y="406.94" width="32.26" height="23.62" fill="#edefee" />
<rect x="1297.67" y="406.94" width="16.63" height="23.62" fill="#7f4c9e" />
<rect x="1313.3" y="406.94" width="31.26" height="23.62" fill="#bea5cf" />
<rect x="1266.41" y="429.56" width="16.63" height="23.62" fill="#9b76b5" />
<rect x="1282.04" y="429.56" width="32.26" height="23.62" fill="#7f4c9e" />
<rect x="1313.3" y="429.56" width="16.63" height="23.62" fill="#ebc1af" />
<rect x="1328.93" y="429.56" width="15.63" height="23.62" fill="#bea5cf" />
<rect x="1266.41" y="452.18" width="16.63" height="23.62" fill="#edefee" />
<rect x="1282.04" y="452.18" width="16.63" height="23.62" fill="#9b76b5" />
<rect x="1297.67" y="452.18" width="16.63" height="23.62" fill="#7f4c9e" />
<rect x="1313.3" y="452.18" width="16.63" height="23.62" fill="#ebc1af" />
<rect x="1328.93" y="452.18" width="15.63" height="23.62" fill="#bea5cf" />
<rect x="1266.41" y="474.8" width="16.63" height="23.62" fill="#bea5cf" />
<rect x="1282.04" y="474.8" width="16.63" height="23.62" fill="#9b76b5" />
<rect x="1297.67" y="474.8" width="16.63" height="23.62" fill="#7f4c9e" />
<rect x="1313.3" y="474.8" width="16.63" height="23.62" fill="#9b76b5" />
<rect x="1328.93" y="474.8" width="15.63" height="23.62" fill="#edefee" />
<rect x="1266.41" y="497.42" width="32.26" height="23.62" fill="#9b76b5" />
<rect x="1297.67" y="497.42" width="32.26" height="23.62" fill="#7f4c9e" />
<rect x="1328.93" y="497.42" width="15.63" height="23.62" fill="#edefee" />
<rect x="1266.41" y="520.04" width="16.63" height="23.62" fill="#eb987b" />
<rect x="1282.04" y="520.04" width="16.63" height="23.62" fill="#bea5cf" />
<rect x="1297.67" y="520.04" width="16.63" height="23.62" fill="#edefee" />
<rect x="1313.3" y="520.04" width="16.63" height="23.62" fill="#ebc1af" />
<rect x="1328.93" y="520.04" width="15.63" height="23.62" fill="#edefee" />
<rect x="1266.41" y="542.66" width="32.26" height="23.62" fill="#7f4c9e" />
<rect x="1297.67" y="542.66" width="16.63" height="23.62" fill="#edefee" />
<rect x="1313.3" y="542.66" width="16.63" height="23.62" fill="#bea5cf" />
<rect x="1328.93" y="542.66" width="15.63" height="23.62" fill="#ebc1af" />
<rect x="1266.41" y="565.28" width="16.63" height="23.62" fill="#edefee" />
<rect x="1282.04" y="565.28" width="16.63" height="23.62" fill="#9b76b5" />
<rect x="1297.67" y="565.28" width="16.63" height="23.62" fill="#edefee" />
<rect x="1313.3" y="565.28" width="16.63" height="23.62" fill="#7f4c9e" />
<rect x="1328.93" y="565.28" width="15.63" height="23.62" fill="#bea5cf" />
<rect x="1266.41" y="587.9" width="16.63" height="23.62" fill="#eb987b" />
<rect x="1282.04" y="587.9" width="16.63" height="23.62" fill="#9b76b5" />
<rect x="1297.67" y="587.9" width="16.63" height="23.62" fill="#edefee" />
<rect x="1313.3" y="587.9" width="16.63" height="23.62" fill="#7f4c9e" />
<rect x="1328.93" y="587.9" width="15.63" height="23.62" fill="#edefee" />
<rect x="1266.41" y="610.52" width="16.63" height="23.62" fill="#ec764f" />
<rect x="1282.04" y="610.52" width="32.26" height="23.62" fill="#eb987b" />
<rect x="1313.3" y="610.52" width="16.63" height="23.62" fill="#bea5cf" />
<rect x="1328.93" y="610.52" width="15.63" height="23.62" fill="#9b76b5" />
<rect x="1266.41" y="633.14" width="32.26" height="22.62" fill="#ebc1af" />
<rect x="1297.67" y="633.14" width="16.63" height="22.62" fill="#edefee" />
<rect x="1313.3" y="633.14" width="16.63" height="22.62" fill="#7f4c9e" />
<rect x="1328.93" y="633.14" width="15.63" height="22.62" fill="#bea5cf" />
<rect x="1360.81" y="135.5" width="16.63" height="23.62" fill="#bea5cf" />
<rect x="1376.44" y="135.5" width="16.63" height="23.62" fill="#9b76b5" />
<rect x="1392.07" y="135.5" width="15.63" height="23.62" fill="#7f4c9e" />
<rect x="1360.81" y="158.12" width="16.63" height="23.62" fill="#bea5cf" />
<rect x="1376.44" y="158.12" width="31.26" height="23.62" fill="#7f4c9e" />
<rect x="1360.81" y="180.74" width="16.63" height="23.62" fill="#7f4c9e" />
<rect x="1376.44" y="180.74" width="16.63" height="23.62" fill="#bea5cf" />
<rect x="1392.07" y="180.74" width="15.63" height="23.62" fill="#ebc1af" />
<rect x="1360.81" y="203.36" width="16.63" height="23.62" fill="#eb987b" />
<rect x="1376.44" y="203.36" width="31.26" height="23.62" fill="#bea5cf" />
<rect x="1360.81" y="225.98" width="16.63" height="23.62" fill="#edefee" />
<rect x="1376.44" y="225.98" width="16.63" height="23.62" fill="#bea5cf" />
<rect x="1392.07" y="225.98" width="15.63" height="23.62" fill="#eb987b" />
<rect x="1360.81" y="248.6" width="16.63" height="23.62" fill="#ebc1af" />
<rect x="1376.44" y="248.6" width="31.26" height="23.62" fill="#edefee" />
<rect x="1360.81" y="271.22" width="16.63" height="23.62" fill="#edefee" />
<rect x="1376.44" y="271.22" width="16.63" height="23.62" fill="#bea5cf" />
<rect x="1392.07" y="271.22" width="15.63" height="23.62" fill="#9b76b5" />
<rect x="1360.81" y="293.84" width="32.26" height="23.62" fill="#bea5cf" />
<rect x="1392.07" y="293.84" width="15.63" height="23.62" fill="#9b76b5" />
<rect x="1360.81" y="316.46" width="16.63" height="23.62" fill="#9b76b5" />
<rect x="1376.44" y="316.46" width="16.63" height="23.62" fill="#ebc1af" />
<rect x="1392.07" y="316.46" width="15.63" height="23.62" fill="#9b76b5" />
<rect x="1360.81" y="339.08" width="16.63" height="23.62" fill="#bea5cf" />
<rect x="1376.44" y="339.08" width="16.63" height="23.62" fill="#ebc1af" />
<rect x="1392.07" y="339.08" width="15.63" height="23.62" fill="#9b76b5" />
<rect x="1360.81" y="361.7" width="32.26" height="23.62" fill="#ec764f" />
<rect x="1392.07" y="361.7" width="15.63" height="23.62" fill="#eb987b" />
<rect x="1360.81" y="384.32" width="46.89" height="23.62" fill="#ec764f" />
<rect x="1360.81" y="406.94" width="16.63" height="23.62" fill="#ec764f" />
<rect x="1376.44" y="406.94" width="16.63" height="23.62" fill="#eb987b" />
<rect x="1392.07" y="406.94" width="15.63" height="23.62" fill="#ec764f" />
<rect x="1360.81" y="429.56" width="32.26" height="23.62" fill="#edefee" />
<rect x="1392.07" y="429.56" width="15.63" height="23.62" fill="#ebc1af" />
<rect x="1360.81" y="452.18" width="16.63" height="23.62" fill="#ebc1af" />
<rect x="1376.44" y="452.18" width="31.26" height="23.62" fill="#ec764f" />
<rect x="1360.81" y="474.8" width="32.26" height="23.62" fill="#ebc1af" />
<rect x="1392.07" y="474.8" width="15.63" height="23.62" fill="#ec764f" />
<rect x="1360.81" y="497.42" width="16.63" height="23.62" fill="#edefee" />
<rect x="1376.44" y="497.42" width="16.63" height="23.62" fill="#ebc1af" />
<rect x="1392.07" y="497.42" width="15.63" height="23.62" fill="#eb987b" />
<rect x="1360.81" y="520.04" width="16.63" height="23.62" fill="#edefee" />
<rect x="1376.44" y="520.04" width="16.63" height="23.62" fill="#eb987b" />
<rect x="1392.07" y="520.04" width="15.63" height="23.62" fill="#edefee" />
<rect x="1360.81" y="542.66" width="16.63" height="23.62" fill="#eb987b" />
<rect x="1376.44" y="542.66" width="16.63" height="23.62" fill="#edefee" />
<rect x="1392.07" y="542.66" width="15.63" height="23.62" fill="#9b76b5" />
<rect x="1360.81" y="565.28" width="32.26" height="23.62" fill="#ebc1af" />
<rect x="1392.07" y="565.28" width="15.63" height="23.62" fill="#eb987b" />
<rect x="1360.81" y="587.9" width="16.63" height="23.62" fill="#ebc1af" />
<rect x="1376.44" y="587.9" width="31.26" height="23.62" fill="#ec764f" />
<rect x="1360.81" y="610.52" width="16.63" height="23.62" fill="#bea5cf" />
<rect x="1376.44" y="610.52" width="31.26" height="23.62" fill="#9b76b5" />
<rect x="1360.81" y="633.14" width="32.26" height="22.62" fill="#edefee" />
<rect x="1392.07" y="633.14" width="15.63" height="22.62" fill="#bea5cf" />
<rect x="1423.95" y="135.5" width="16.63" height="23.62" fill="#eb987b" />
<rect x="1439.58" y="135.5" width="16.63" height="23.62" fill="#bea5cf" />
<rect x="1455.21" y="135.5" width="15.63" height="23.62" fill="#eb987b" />
<rect x="1423.95" y="158.12" width="16.63" height="23.62" fill="#ebc1af" />
<rect x="1439.58" y="158.12" width="31.26" height="23.62" fill="#bea5cf" />
<rect x="1423.95" y="180.74" width="16.63" height="23.62" fill="#ebc1af" />
<rect x="1439.58" y="180.74" width="16.63" height="23.62" fill="#bea5cf" />
<rect x="1455.21" y="180.74" width="15.63" height="23.62" fill="#ebc1af" />
<rect x="1423.95" y="203.36" width="16.63" height="23.62" fill="#ec764f" />
<rect x="1439.58" y="203.36" width="16.63" height="23.62" fill="#edefee" />
<rect x="1455.21" y="203.36" width="15.63" height="23.62" fill="#bea5cf" />
<rect x="1423.95" y="225.98" width="32.26" height="23.62" fill="#edefee" />
<rect x="1455.21" y="225.98" width="15.63" height="23.62" fill="#ebc1af" />
<rect x="1423.95" y="248.6" width="32.26" height="23.62" fill="#bea5cf" />
<rect x="1455.21" y="248.6" width="15.63" height="23.62" fill="#edefee" />
<rect x="1423.95" y="271.22" width="16.63" height="23.62" fill="#7f4c9e" />
<rect x="1439.58" y="271.22" width="16.63" height="23.62" fill="#9b76b5" />
<rect x="1455.21" y="271.22" width="15.63" height="23.62" fill="#bea5cf" />
<rect x="1423.95" y="293.84" width="16.63" height="23.62" fill="#bea5cf" />
<rect x="1439.58" y="293.84" width="16.63" height="23.62" fill="#edefee" />
<rect x="1455.21" y="293.84" width="15.63" height="23.62" fill="#ebc1af" />
<rect x="1423.95" y="316.46" width="16.63" height="23.62" fill="#ebc1af" />
<rect x="1439.58" y="316.46" width="16.63" height="23.62" fill="#edefee" />
<rect x="1455.21" y="316.46" width="15.63" height="23.62" fill="#7f4c9e" />
<rect x="1423.95" y="339.08" width="16.63" height="23.62" fill="#9b76b5" />
<rect x="1439.58" y="339.08" width="31.26" height="23.62" fill="#7f4c9e" />
<rect x="1423.95" y="361.7" width="16.63" height="23.62" fill="#bea5cf" />
<rect x="1439.58" y="361.7" width="31.26" height="23.62" fill="#ec764f" />
<rect x="1423.95" y="384.32" width="16.63" height="23.62" fill="#bea5cf" />
<rect x="1439.58" y="384.32" width="16.63" height="23.62" fill="#eb987b" />
<rect x="1455.21" y="384.32" width="15.63" height="23.62" fill="#ebc1af" />
<rect x="1423.95" y="406.94" width="16.63" height="23.62" fill="#bea5cf" />
<rect x="1439.58" y="406.94" width="16.63" height="23.62" fill="#edefee" />
<rect x="1455.21" y="406.94" width="15.63" height="23.62" fill="#eb987b" />
<rect x="1423.95" y="429.56" width="16.63" height="23.62" fill="#ebc1af" />
<rect x="1439.58" y="429.56" width="16.63" height="23.62" fill="#9b76b5" />
<rect x="1455.21" y="429.56" width="15.63" height="23.62" fill="#edefee" />
<rect x="1423.95" y="452.18" width="16.63" height="23.62" fill="#eb987b" />
<rect x="1439.58" y="452.18" width="16.63" height="23.62" fill="#9b76b5" />
<rect x="1455.21" y="452.18" width="15.63" height="23.62" fill="#7f4c9e" />
<rect x="1423.95" y="474.8" width="32.26" height="23.62" fill="#ebc1af" />
<rect x="1455.21" y="474.8" width="15.63" height="23.62" fill="#bea5cf" />
<rect x="1423.95" y="497.42" width="16.63" height="23.62" fill="#7f4c9e" />
<rect x="1439.58" y="497.42" width="16.63" height="23.62" fill="#edefee" />
<rect x="1455.21" y="497.42" width="15.63" height="23.62" fill="#bea5cf" />
<rect x="1423.95" y="520.04" width="16.63" height="23.62" fill="#9b76b5" />
<rect x="1439.58" y="520.04" width="16.63" height="23.62" fill="#eb987b" />
<rect x="1455.21" y="520.04" width="15.63" height="23.62" fill="#7f4c9e" />
<rect x="1423.95" y="542.66" width="16.63" height="23.62" fill="#7f4c9e" />
<rect x="1439.58" y="542.66" width="16.63" height="23.62" fill="#edefee" />
<rect x="1455.21" y="542.66" width="15.63" height="23.62" fill="#ebc1af" />
<rect x="1423.95" y="565.28" width="16.63" height="23.62" fill="#7f4c9e" />
<rect x="1439.58" y="565.28" width="16.63" height="23.62" fill="#bea5cf" />
<rect x="1455.21" y="565.28" width="15.63" height="23.62" fill="#edefee" />
<rect x="1423.95" y="587.9" width="16.63" height="23.62" fill="#9b76b5" />
<rect x="1439.58" y="587.9" width="31.26" height="23.62" fill="#7f4c9e" />
<rect x="1423.95" y="610.52" width="16.63" height="23.62" fill="#7f4c9e" />
<rect x="1439.58" y="610.52" width="31.26" height="23.62" fill="#9b76b5" />
<rect x="1423.95" y="633.14" width="16.63" height="22.62" fill="#7f4c9e" />
<rect x="1439.58" y="633.14" width="16.63" height="22.62" fill="#edefee" />
<rect x="1455.21" y="633.14" width="15.63" height="22.62" fill="#9b76b5" />
<rect x="1062.6" y="671.96" width="16.63" height="23.62" fill="#edefee" />
<rect x="1078.23" y="671.96" width="16.63" height="23.62" fill="#ebc1af" />
<rect x="1093.86" y="671.96" width="16.63" height="23.62" fill="#ec764f" />
<rect x="1109.49" y="671.96" width="16.63" height="23.62" fill="#eb987b" />
<rect x="1125.12" y="671.96" width="16.63" height="23.62" fill="#ebc1af" />
<rect x="1140.75" y="671.96" width="32.26" height="23.62" fill="#edefee" />
<rect x="1172.01" y="671.96" width="16.63" height="23.62" fill="#ebc1af" />
<rect x="1187.64" y="671.96" width="16.63" height="23.62" fill="#ec764f" />
<rect x="1203.27" y="671.96" width="32.26" height="23.62" fill="#bea5cf" />
<rect x="1234.53" y="671.96" width="15.63" height="23.62" fill="#d4d6d5" />
<rect x="1062.6" y="694.58" width="94.78" height="23.62" fill="#eb987b" />
<rect x="1156.38" y="694.58" width="16.63" height="23.62" fill="#ebc1af" />
<rect x="1172.01" y="694.58" width="32.26" height="23.62" fill="#eb987b" />
<rect x="1203.27" y="694.58" width="46.89" height="23.62" fill="#ec764f" />
<rect x="1062.6" y="717.2" width="16.63" height="23.62" fill="#eb987b" />
<rect x="1078.23" y="717.2" width="16.63" height="23.62" fill="#bea5cf" />
<rect x="1093.86" y="717.2" width="16.63" height="23.62" fill="#9b76b5" />
<rect x="1109.49" y="717.2" width="16.63" height="23.62" fill="#bea5cf" />
<rect x="1125.12" y="717.2" width="16.63" height="23.62" fill="#ebc1af" />
<rect x="1140.75" y="717.2" width="16.63" height="23.62" fill="#7f4c9e" />
<rect x="1156.38" y="717.2" width="16.63" height="23.62" fill="#bea5cf" />
<rect x="1172.01" y="717.2" width="16.63" height="23.62" fill="#ebc1af" />
<rect x="1187.64" y="717.2" width="16.63" height="23.62" fill="#bea5cf" />
<rect x="1203.27" y="717.2" width="46.89" height="23.62" fill="#ebc1af" />
<rect x="1062.6" y="739.82" width="16.63" height="23.62" fill="#edefee" />
<rect x="1078.23" y="739.82" width="32.26" height="23.62" fill="#bea5cf" />
<rect x="1109.49" y="739.82" width="16.63" height="23.62" fill="#edefee" />
<rect x="1125.12" y="739.82" width="16.63" height="23.62" fill="#eb987b" />
<rect x="1140.75" y="739.82" width="16.63" height="23.62" fill="#ebc1af" />
<rect x="1156.38" y="739.82" width="16.63" height="23.62" fill="#edefee" />
<rect x="1172.01" y="739.82" width="16.63" height="23.62" fill="#ebc1af" />
<rect x="1187.64" y="739.82" width="16.63" height="23.62" fill="#7f4c9e" />
<rect x="1203.27" y="739.82" width="32.26" height="23.62" fill="#edefee" />
<rect x="1234.53" y="739.82" width="15.63" height="23.62" fill="#bea5cf" />
<rect x="1062.6" y="762.44" width="16.63" height="23.62" fill="#bea5cf" />
<rect x="1078.23" y="762.44" width="16.63" height="23.62" fill="#eb987b" />
<rect x="1093.86" y="762.44" width="16.63" height="23.62" fill="#edefee" />
<rect x="1109.49" y="762.44" width="32.26" height="23.62" fill="#eb987b" />
<rect x="1140.75" y="762.44" width="16.63" height="23.62" fill="#edefee" />
<rect x="1156.38" y="762.44" width="16.63" height="23.62" fill="#ebc1af" />
<rect x="1172.01" y="762.44" width="16.63" height="23.62" fill="#edefee" />
<rect x="1187.64" y="762.44" width="16.63" height="23.62" fill="#9b76b5" />
<rect x="1203.27" y="762.44" width="32.26" height="23.62" fill="#edefee" />
<rect x="1234.53" y="762.44" width="15.63" height="23.62" fill="#ebc1af" />
<rect x="1062.6" y="785.06" width="16.63" height="22.62" fill="#bea5cf" />
<rect x="1078.23" y="785.06" width="16.63" height="22.62" fill="#edefee" />
<rect x="1093.86" y="785.06" width="16.63" height="22.62" fill="#eb987b" />
<rect x="1109.49" y="785.06" width="16.63" height="22.62" fill="#bea5cf" />
<rect x="1125.12" y="785.06" width="32.26" height="22.62" fill="#edefee" />
<rect x="1156.38" y="785.06" width="16.63" height="22.62" fill="#eb987b" />
<rect x="1172.01" y="785.06" width="32.26" height="22.62" fill="#ebc1af" />
<rect x="1203.27" y="785.06" width="46.89" height="22.62" fill="#edefee" />
<rect x="1266.41" y="671.96" width="16.63" height="23.62" fill="#ec764f" />
<rect x="1282.04" y="671.96" width="16.63" height="23.62" fill="#eb987b" />
<rect x="1297.67" y="671.96" width="16.63" height="23.62" fill="#ec764f" />
<rect x="1313.3" y="671.96" width="16.63" height="23.62" fill="#ebc1af" />
<rect x="1328.93" y="671.96" width="15.63" height="23.62" fill="#ec764f" />
<rect x="1266.41" y="694.58" width="78.15" height="23.62" fill="#ec764f" />
<rect x="1266.41" y="717.2" width="16.63" height="23.62" fill="#ebc1af" />
<rect x="1282.04" y="717.2" width="32.26" height="23.62" fill="#ec764f" />
<rect x="1313.3" y="717.2" width="16.63" height="23.62" fill="#ebc1af" />
<rect x="1328.93" y="717.2" width="15.63" height="23.62" fill="#ec764f" />
<rect x="1266.41" y="739.82" width="16.63" height="23.62" fill="#ebc1af" />
<rect x="1282.04" y="739.82" width="16.63" height="23.62" fill="#eb987b" />
<rect x="1297.67" y="739.82" width="16.63" height="23.62" fill="#ec764f" />
<rect x="1313.3" y="739.82" width="16.63" height="23.62" fill="#ebc1af" />
<rect x="1328.93" y="739.82" width="15.63" height="23.62" fill="#bea5cf" />
<rect x="1266.41" y="762.44" width="32.26" height="23.62" fill="#ec764f" />
<rect x="1297.67" y="762.44" width="46.89" height="23.62" fill="#eb987b" />
<rect x="1266.41" y="785.06" width="16.63" height="22.62" fill="#ec764f" />
<rect x="1282.04" y="785.06" width="16.63" height="22.62" fill="#ebc1af" />
<rect x="1297.67" y="785.06" width="16.63" height="22.62" fill="#eb987b" />
<rect x="1313.3" y="785.06" width="16.63" height="22.62" fill="#ec764f" />
<rect x="1328.93" y="785.06" width="15.63" height="22.62" fill="#ebc1af" />
<rect x="1360.81" y="671.96" width="32.26" height="23.62" fill="#ebc1af" />
<rect x="1392.07" y="671.96" width="15.63" height="23.62" fill="#ec764f" />
<rect x="1360.81" y="694.58" width="16.63" height="23.62" fill="#ec764f" />
<rect x="1376.44" y="694.58" width="16.63" height="23.62" fill="#eb987b" />
<rect x="1392.07" y="694.58" width="15.63" height="23.62" fill="#ec764f" />
<rect x="1360.81" y="717.2" width="32.26" height="23.62" fill="#eb987b" />
<rect x="1392.07" y="717.2" width="15.63" height="23.62" fill="#ebc1af" />
<rect x="1360.81" y="739.82" width="46.89" height="23.62" fill="#edefee" />
<rect x="1360.81" y="762.44" width="16.63" height="23.62" fill="#ebc1af" />
<rect x="1376.44" y="762.44" width="16.63" height="23.62" fill="#9b76b5" />
<rect x="1392.07" y="762.44" width="15.63" height="23.62" fill="#bea5cf" />
<rect x="1360.81" y="785.06" width="16.63" height="22.62" fill="#ec764f" />
<rect x="1376.44" y="785.06" width="16.63" height="22.62" fill="#ebc1af" />
<rect x="1392.07" y="785.06" width="15.63" height="22.62" fill="#edefee" />
<rect x="1423.95" y="671.96" width="16.63" height="23.62" fill="#7f4c9e" />
<rect x="1439.58" y="671.96" width="16.63" height="23.62" fill="#ebc1af" />
<rect x="1455.21" y="671.96" width="15.63" height="23.62" fill="#9b76b5" />
<rect x="1423.95" y="694.58" width="16.63" height="23.62" fill="#7f4c9e" />
<rect x="1439.58" y="694.58" width="31.26" height="23.62" fill="#eb987b" />
<rect x="1423.95" y="717.2" width="16.63" height="23.62" fill="#bea5cf" />
<rect x="1439.58" y="717.2" width="16.63" height="23.62" fill="#ebc1af" />
<rect x="1455.21" y="717.2" width="15.63" height="23.62" fill="#9b76b5" />
<rect x="1423.95" y="739.82" width="16.63" height="23.62" fill="#7f4c9e" />
<rect x="1439.58" y="739.82" width="16.63" height="23.62" fill="#9b76b5" />
<rect x="1455.21" y="739.82" width="15.63" height="23.62" fill="#7f4c9e" />
<rect x="1423.95" y="762.44" width="16.63" height="23.62" fill="#7f4c9e" />
<rect x="1439.58" y="762.44" width="16.63" height="23.62" fill="#edefee" />
<rect x="1455.21" y="762.44" width="15.63" height="23.62" fill="#ebc1af" />
<rect x="1423.95" y="785.06" width="16.63" height="22.62" fill="#7f4c9e" />
<rect x="1439.58" y="785.06" width="31.26" height="22.62" fill="#edefee" />
<rect x="1062.6" y="823.88" width="16.63" height="23.62" fill="#eb987b" />
<rect x="1078.23" y="823.88" width="16.63" height="23.62" fill="#bea5cf" />
<rect x="1093.86" y="823.88" width="16.63" height="23.62" fill="#7f4c9e" />
<rect x="1109.49" y="823.88" width="16.63" height="23.62" fill="#9b76b5" />
<rect x="1125.12" y="823.88" width="16.63" height="23.62" fill="#edefee" />
<rect x="1140.75" y="823.88" width="16.63" height="23.62" fill="#bea5cf" />
<rect x="1156.38" y="823.88" width="32.26" height="23.62" fill="#eb987b" />
<rect x="1187.64" y="823.88" width="16.63" height="23.62" fill="#bea5cf" />
<rect x="1203.27" y="823.88" width="16.63" height="23.62" fill="#9b76b5" />
<rect x="1218.9" y="823.88" width="16.63" height="23.62" fill="#eb987b" />
<rect x="1234.53" y="823.88" width="15.63" height="23.62" fill="#edefee" />
<rect x="1062.6" y="846.5" width="32.26" height="23.62" fill="#eb987b" />
<rect x="1093.86" y="846.5" width="16.63" height="23.62" fill="#9b76b5" />
<rect x="1109.49" y="846.5" width="16.63" height="23.62" fill="#ebc1af" />
<rect x="1125.12" y="846.5" width="16.63" height="23.62" fill="#7f4c9e" />
<rect x="1140.75" y="846.5" width="47.89" height="23.62" fill="#edefee" />
<rect x="1187.64" y="846.5" width="16.63" height="23.62" fill="#ebc1af" />
<rect x="1203.27" y="846.5" width="32.26" height="23.62" fill="#edefee" />
<rect x="1234.53" y="846.5" width="15.63" height="23.62" fill="#bea5cf" />
<rect x="1062.6" y="869.12" width="16.63" height="23.62" fill="#ec764f" />
<rect x="1078.23" y="869.12" width="32.26" height="23.62" fill="#bea5cf" />
<rect x="1109.49" y="869.12" width="16.63" height="23.62" fill="#9b76b5" />
<rect x="1125.12" y="869.12" width="16.63" height="23.62" fill="#edefee" />
<rect x="1140.75" y="869.12" width="16.63" height="23.62" fill="#eb987b" />
<rect x="1156.38" y="869.12" width="16.63" height="23.62" fill="#edefee" />
<rect x="1172.01" y="869.12" width="16.63" height="23.62" fill="#bea5cf" />
<rect x="1187.64" y="869.12" width="16.63" height="23.62" fill="#9b76b5" />
<rect x="1203.27" y="869.12" width="16.63" height="23.62" fill="#edefee" />
<rect x="1218.9" y="869.12" width="31.26" height="23.62" fill="#bea5cf" />
<rect x="1062.6" y="891.74" width="32.26" height="23.62" fill="#edefee" />
<rect x="1093.86" y="891.74" width="16.63" height="23.62" fill="#bea5cf" />
<rect x="1109.49" y="891.74" width="16.63" height="23.62" fill="#9b76b5" />
<rect x="1125.12" y="891.74" width="16.63" height="23.62" fill="#d4d6d5" />
<rect x="1140.75" y="891.74" width="32.26" height="23.62" fill="#bea5cf" />
<rect x="1172.01" y="891.74" width="16.63" height="23.62" fill="#ebc1af" />
<rect x="1187.64" y="891.74" width="16.63" height="23.62" fill="#edefee" />
<rect x="1203.27" y="891.74" width="32.26" height="23.62" fill="#ebc1af" />
<rect x="1234.53" y="891.74" width="15.63" height="23.62" fill="#edefee" />
<rect x="1062.6" y="914.36" width="16.63" height="23.62" fill="#bea5cf" />
<rect x="1078.23" y="914.36" width="16.63" height="23.62" fill="#edefee" />
<rect x="1093.86" y="914.36" width="32.26" height="23.62" fill="#9b76b5" />
<rect x="1125.12" y="914.36" width="16.63" height="23.62" fill="#7f4c9e" />
<rect x="1140.75" y="914.36" width="16.63" height="23.62" fill="#edefee" />
<rect x="1156.38" y="914.36" width="16.63" height="23.62" fill="#bea5cf" />
<rect x="1172.01" y="914.36" width="16.63" height="23.62" fill="#ebc1af" />
<rect x="1187.64" y="914.36" width="32.26" height="23.62" fill="#edefee" />
<rect x="1218.9" y="914.36" width="16.63" height="23.62" fill="#ebc1af" />
<rect x="1234.53" y="914.36" width="15.63" height="23.62" fill="#edefee" />
<rect x="1062.6" y="936.98" width="16.63" height="23.62" fill="#eb987b" />
<rect x="1078.23" y="936.98" width="16.63" height="23.62" fill="#7f4c9e" />
<rect x="1093.86" y="936.98" width="16.63" height="23.62" fill="#bea5cf" />
<rect x="1109.49" y="936.98" width="16.63" height="23.62" fill="#7f4c9e" />
<rect x="1125.12" y="936.98" width="16.63" height="23.62" fill="#bea5cf" />
<rect x="1140.75" y="936.98" width="16.63" height="23.62" fill="#edefee" />
<rect x="1156.38" y="936.98" width="16.63" height="23.62" fill="#9b76b5" />
<rect x="1172.01" y="936.98" width="16.63" height="23.62" fill="#edefee" />
<rect x="1187.64" y="936.98" width="16.63" height="23.62" fill="#9b76b5" />
<rect x="1203.27" y="936.98" width="16.63" height="23.62" fill="#ebc1af" />
<rect x="1218.9" y="936.98" width="16.63" height="23.62" fill="#edefee" />
<rect x="1234.53" y="936.98" width="15.63" height="23.62" fill="#bea5cf" />
<rect x="1062.6" y="959.6" width="16.63" height="23.62" fill="#eb987b" />
<rect x="1078.23" y="959.6" width="16.63" height="23.62" fill="#d4d6d5" />
<rect x="1093.86" y="959.6" width="16.63" height="23.62" fill="#bea5cf" />
<rect x="1109.49" y="959.6" width="16.63" height="23.62" fill="#ebc1af" />
<rect x="1125.12" y="959.6" width="16.63" height="23.62" fill="#bea5cf" />
<rect x="1140.75" y="959.6" width="32.26" height="23.62" fill="#edefee" />
<rect x="1172.01" y="959.6" width="16.63" height="23.62" fill="#ebc1af" />
<rect x="1187.64" y="959.6" width="16.63" height="23.62" fill="#9b76b5" />
<rect x="1203.27" y="959.6" width="16.63" height="23.62" fill="#eb987b" />
<rect x="1218.9" y="959.6" width="16.63" height="23.62" fill="#9b76b5" />
<rect x="1234.53" y="959.6" width="15.63" height="23.62" fill="#7f4c9e" />
<rect x="1062.6" y="982.22" width="63.52" height="23.62" fill="#ebc1af" />
<rect x="1125.12" y="982.22" width="16.63" height="23.62" fill="#7f4c9e" />
<rect x="1140.75" y="982.22" width="16.63" height="23.62" fill="#ebc1af" />
<rect x="1156.38" y="982.22" width="32.26" height="23.62" fill="#edefee" />
<rect x="1187.64" y="982.22" width="16.63" height="23.62" fill="#9b76b5" />
<rect x="1203.27" y="982.22" width="16.63" height="23.62" fill="#edefee" />
<rect x="1218.9" y="982.22" width="16.63" height="23.62" fill="#bea5cf" />
<rect x="1234.53" y="982.22" width="15.63" height="23.62" fill="#d4d6d5" />
<rect x="1062.6" y="1004.84" width="32.26" height="23.62" fill="#9b76b5" />
<rect x="1093.86" y="1004.84" width="16.63" height="23.62" fill="#ebc1af" />
<rect x="1109.49" y="1004.84" width="63.52" height="23.62" fill="#edefee" />
<rect x="1172.01" y="1004.84" width="16.63" height="23.62" fill="#bea5cf" />
<rect x="1187.64" y="1004.84" width="16.63" height="23.62" fill="#9b76b5" />
<rect x="1203.27" y="1004.84" width="16.63" height="23.62" fill="#edefee" />
<rect x="1218.9" y="1004.84" width="16.63" height="23.62" fill="#9b76b5" />
<rect x="1234.53" y="1004.84" width="15.63" height="23.62" fill="#bea5cf" />
<rect x="1062.6" y="1027.46" width="32.26" height="23.62" fill="#edefee" />
<rect x="1093.86" y="1027.46" width="16.63" height="23.62" fill="#bea5cf" />
<rect x="1109.49" y="1027.46" width="16.63" height="23.62" fill="#edefee" />
<rect x="1125.12" y="1027.46" width="16.63" height="23.62" fill="#7f4c9e" />
<rect x="1140.75" y="1027.46" width="16.63" height="23.62" fill="#edefee" />
<rect x="1156.38" y="1027.46" width="32.26" height="23.62" fill="#bea5cf" />
<rect x="1187.64" y="1027.46" width="16.63" height="23.62" fill="#9b76b5" />
<rect x="1203.27" y="1027.46" width="16.63" height="23.62" fill="#7f4c9e" />
<rect x="1218.9" y="1027.46" width="31.26" height="23.62" fill="#bea5cf" />
<rect x="1062.6" y="1050.08" width="16.63" height="23.62" fill="#bea5cf" />
<rect x="1078.23" y="1050.08" width="16.63" height="23.62" fill="#edefee" />
<rect x="1093.86" y="1050.08" width="16.63" height="23.62" fill="#9b76b5" />
<rect x="1109.49" y="1050.08" width="16.63" height="23.62" fill="#d4d6d5" />
<rect x="1125.12" y="1050.08" width="16.63" height="23.62" fill="#9b76b5" />
<rect x="1140.75" y="1050.08" width="16.63" height="23.62" fill="#edefee" />
<rect x="1156.38" y="1050.08" width="16.63" height="23.62" fill="#9b76b5" />
<rect x="1172.01" y="1050.08" width="16.63" height="23.62" fill="#bea5cf" />
<rect x="1187.64" y="1050.08" width="16.63" height="23.62" fill="#7f4c9e" />
<rect x="1203.27" y="1050.08" width="16.63" height="23.62" fill="#ebc1af" />
<rect x="1218.9" y="1050.08" width="31.26" height="23.62" fill="#bea5cf" />
<rect x="1062.6" y="1072.7" width="16.63" height="23.62" fill="#ebc1af" />
<rect x="1078.23" y="1072.7" width="47.89" height="23.62" fill="#7f4c9e" />
<rect x="1125.12" y="1072.7" width="16.63" height="23.62" fill="#edefee" />
<rect x="1140.75" y="1072.7" width="32.26" height="23.62" fill="#bea5cf" />
<rect x="1172.01" y="1072.7" width="16.63" height="23.62" fill="#7f4c9e" />
<rect x="1187.64" y="1072.7" width="16.63" height="23.62" fill="#9b76b5" />
<rect x="1203.27" y="1072.7" width="32.26" height="23.62" fill="#7f4c9e" />
<rect x="1234.53" y="1072.7" width="15.63" height="23.62" fill="#edefee" />
<rect x="1062.6" y="1095.32" width="16.63" height="23.62" fill="#7f4c9e" />
<rect x="1078.23" y="1095.32" width="16.63" height="23.62" fill="#ebc1af" />
<rect x="1093.86" y="1095.32" width="16.63" height="23.62" fill="#9b76b5" />
<rect x="1109.49" y="1095.32" width="16.63" height="23.62" fill="#bea5cf" />
<rect x="1125.12" y="1095.32" width="32.26" height="23.62" fill="#9b76b5" />
<rect x="1156.38" y="1095.32" width="16.63" height="23.62" fill="#bea5cf" />
<rect x="1172.01" y="1095.32" width="16.63" height="23.62" fill="#9b76b5" />
<rect x="1187.64" y="1095.32" width="16.63" height="23.62" fill="#bea5cf" />
<rect x="1203.27" y="1095.32" width="16.63" height="23.62" fill="#9b76b5" />
<rect x="1218.9" y="1095.32" width="31.26" height="23.62" fill="#7f4c9e" />
<rect x="1062.6" y="1117.94" width="16.63" height="22.62" fill="#7f4c9e" />
<rect x="1078.23" y="1117.94" width="16.63" height="22.62" fill="#eb987b" />
<rect x="1093.86" y="1117.94" width="32.26" height="22.62" fill="#7f4c9e" />
<rect x="1125.12" y="1117.94" width="16.63" height="22.62" fill="#9b76b5" />
<rect x="1140.75" y="1117.94" width="16.63" height="22.62" fill="#bea5cf" />
<rect x="1156.38" y="1117.94" width="16.63" height="22.62" fill="#7f4c9e" />
<rect x="1172.01" y="1117.94" width="16.63" height="22.62" fill="#bea5cf" />
<rect x="1187.64" y="1117.94" width="16.63" height="22.62" fill="#9b76b5" />
<rect x="1203.27" y="1117.94" width="16.63" height="22.62" fill="#bea5cf" />
<rect x="1218.9" y="1117.94" width="16.63" height="22.62" fill="#7f4c9e" />
<rect x="1234.53" y="1117.94" width="15.63" height="22.62" fill="#ebc1af" />
<rect x="1266.41" y="823.88" width="63.52" height="23.62" fill="#ec764f" />
<rect x="1328.93" y="823.88" width="15.63" height="23.62" fill="#eb987b" />
<rect x="1266.41" y="846.5" width="32.26" height="23.62" fill="#eb987b" />
<rect x="1297.67" y="846.5" width="16.63" height="23.62" fill="#ec764f" />
<rect x="1313.3" y="846.5" width="16.63" height="23.62" fill="#d4d6d5" />
<rect x="1328.93" y="846.5" width="15.63" height="23.62" fill="#ec764f" />
<rect x="1266.41" y="869.12" width="16.63" height="23.62" fill="#ebc1af" />
<rect x="1282.04" y="869.12" width="16.63" height="23.62" fill="#eb987b" />
<rect x="1297.67" y="869.12" width="32.26" height="23.62" fill="#ebc1af" />
<rect x="1328.93" y="869.12" width="15.63" height="23.62" fill="#ec764f" />
<rect x="1266.41" y="891.74" width="16.63" height="23.62" fill="#ec764f" />
<rect x="1282.04" y="891.74" width="16.63" height="23.62" fill="#eb987b" />
<rect x="1297.67" y="891.74" width="16.63" height="23.62" fill="#ebc1af" />
<rect x="1313.3" y="891.74" width="16.63" height="23.62" fill="#edefee" />
<rect x="1328.93" y="891.74" width="15.63" height="23.62" fill="#ec764f" />
<rect x="1266.41" y="914.36" width="16.63" height="23.62" fill="#ebc1af" />
<rect x="1282.04" y="914.36" width="16.63" height="23.62" fill="#ec764f" />
<rect x="1297.67" y="914.36" width="32.26" height="23.62" fill="#ebc1af" />
<rect x="1328.93" y="914.36" width="15.63" height="23.62" fill="#ec764f" />
<rect x="1266.41" y="936.98" width="16.63" height="23.62" fill="#ec764f" />
<rect x="1282.04" y="936.98" width="16.63" height="23.62" fill="#eb987b" />
<rect x="1297.67" y="936.98" width="16.63" height="23.62" fill="#ec764f" />
<rect x="1313.3" y="936.98" width="31.26" height="23.62" fill="#eb987b" />
<rect x="1266.41" y="959.6" width="16.63" height="23.62" fill="#ec764f" />
<rect x="1282.04" y="959.6" width="16.63" height="23.62" fill="#eb987b" />
<rect x="1297.67" y="959.6" width="16.63" height="23.62" fill="#ec764f" />
<rect x="1313.3" y="959.6" width="31.26" height="23.62" fill="#eb987b" />
<rect x="1266.41" y="982.22" width="16.63" height="23.62" fill="#ec764f" />
<rect x="1282.04" y="982.22" width="16.63" height="23.62" fill="#ebc1af" />
<rect x="1297.67" y="982.22" width="16.63" height="23.62" fill="#ec764f" />
<rect x="1313.3" y="982.22" width="16.63" height="23.62" fill="#ebc1af" />
<rect x="1328.93" y="982.22" width="15.63" height="23.62" fill="#ec764f" />
<rect x="1266.41" y="1004.84" width="16.63" height="23.62" fill="#edefee" />
<rect x="1282.04" y="1004.84" width="32.26" height="23.62" fill="#ec764f" />
<rect x="1313.3" y="1004.84" width="16.63" height="23.62" fill="#eb987b" />
<rect x="1328.93" y="1004.84" width="15.63" height="23.62" fill="#bea5cf" />
<rect x="1266.41" y="1027.46" width="32.26" height="23.62" fill="#ebc1af" />
<rect x="1297.67" y="1027.46" width="16.63" height="23.62" fill="#bea5cf" />
<rect x="1313.3" y="1027.46" width="31.26" height="23.62" fill="#eb987b" />
<rect x="1266.41" y="1050.08" width="16.63" height="23.62" fill="#ec764f" />
<rect x="1282.04" y="1050.08" width="16.63" height="23.62" fill="#eb987b" />
<rect x="1297.67" y="1050.08" width="16.63" height="23.62" fill="#edefee" />
<rect x="1313.3" y="1050.08" width="16.63" height="23.62" fill="#ebc1af" />
<rect x="1328.93" y="1050.08" width="15.63" height="23.62" fill="#edefee" />
<rect x="1266.41" y="1072.7" width="16.63" height="23.62" fill="#eb987b" />
<rect x="1282.04" y="1072.7" width="16.63" height="23.62" fill="#ec764f" />
<rect x="1297.67" y="1072.7" width="16.63" height="23.62" fill="#eb987b" />
<rect x="1313.3" y="1072.7" width="16.63" height="23.62" fill="#bea5cf" />
<rect x="1328.93" y="1072.7" width="15.63" height="23.62" fill="#ec764f" />
<rect x="1266.41" y="1095.32" width="16.63" height="23.62" fill="#ec764f" />
<rect x="1282.04" y="1095.32" width="16.63" height="23.62" fill="#edefee" />
<rect x="1297.67" y="1095.32" width="32.26" height="23.62" fill="#ebc1af" />
<rect x="1328.93" y="1095.32" width="15.63" height="23.62" fill="#ec764f" />
<rect x="1266.41" y="1117.94" width="16.63" height="22.62" fill="#ebc1af" />
<rect x="1282.04" y="1117.94" width="16.63" height="22.62" fill="#edefee" />
<rect x="1297.67" y="1117.94" width="16.63" height="22.62" fill="#ec764f" />
<rect x="1313.3" y="1117.94" width="16.63" height="22.62" fill="#ebc1af" />
<rect x="1328.93" y="1117.94" width="15.63" height="22.62" fill="#edefee" />
<rect x="1360.81" y="823.88" width="16.63" height="23.62" fill="#ebc1af" />
<rect x="1376.44" y="823.88" width="16.63" height="23.62" fill="#bea5cf" />
<rect x="1392.07" y="823.88" width="15.63" height="23.62" fill="#7f4c9e" />
<rect x="1360.81" y="846.5" width="16.63" height="23.62" fill="#9b76b5" />
<rect x="1376.44" y="846.5" width="16.63" height="23.62" fill="#edefee" />
<rect x="1392.07" y="846.5" width="15.63" height="23.62" fill="#9b76b5" />
<rect x="1360.81" y="869.12" width="16.63" height="23.62" fill="#9b76b5" />
<rect x="1376.44" y="869.12" width="16.63" height="23.62" fill="#bea5cf" />
<rect x="1392.07" y="869.12" width="15.63" height="23.62" fill="#7f4c9e" />
<rect x="1360.81" y="891.74" width="16.63" height="23.62" fill="#edefee" />
<rect x="1376.44" y="891.74" width="16.63" height="23.62" fill="#ebc1af" />
<rect x="1392.07" y="891.74" width="15.63" height="23.62" fill="#bea5cf" />
<rect x="1360.81" y="914.36" width="16.63" height="23.62" fill="#ebc1af" />
<rect x="1376.44" y="914.36" width="16.63" height="23.62" fill="#9b76b5" />
<rect x="1392.07" y="914.36" width="15.63" height="23.62" fill="#7f4c9e" />
<rect x="1360.81" y="936.98" width="16.63" height="23.62" fill="#eb987b" />
<rect x="1376.44" y="936.98" width="16.63" height="23.62" fill="#7f4c9e" />
<rect x="1392.07" y="936.98" width="15.63" height="23.62" fill="#edefee" />
<rect x="1360.81" y="959.6" width="16.63" height="23.62" fill="#ebc1af" />
<rect x="1376.44" y="959.6" width="31.26" height="23.62" fill="#7f4c9e" />
<rect x="1360.81" y="982.22" width="16.63" height="23.62" fill="#edefee" />
<rect x="1376.44" y="982.22" width="16.63" height="23.62" fill="#7f4c9e" />
<rect x="1392.07" y="982.22" width="15.63" height="23.62" fill="#9b76b5" />
<rect x="1360.81" y="1004.84" width="46.89" height="23.62" fill="#7f4c9e" />
<rect x="1360.81" y="1027.46" width="16.63" height="23.62" fill="#9b76b5" />
<rect x="1376.44" y="1027.46" width="16.63" height="23.62" fill="#7f4c9e" />
<rect x="1392.07" y="1027.46" width="15.63" height="23.62" fill="#9b76b5" />
<rect x="1360.81" y="1050.08" width="32.26" height="23.62" fill="#9b76b5" />
<rect x="1392.07" y="1050.08" width="15.63" height="23.62" fill="#7f4c9e" />
<rect x="1360.81" y="1072.7" width="16.63" height="23.62" fill="#7f4c9e" />
<rect x="1376.44" y="1072.7" width="16.63" height="23.62" fill="#bea5cf" />
<rect x="1392.07" y="1072.7" width="15.63" height="23.62" fill="#edefee" />
<rect x="1360.81" y="1095.32" width="16.63" height="23.62" fill="#bea5cf" />
<rect x="1376.44" y="1095.32" width="31.26" height="23.62" fill="#9b76b5" />
<rect x="1360.81" y="1117.94" width="16.63" height="22.62" fill="#bea5cf" />
<rect x="1376.44" y="1117.94" width="31.26" height="22.62" fill="#9b76b5" />
<rect x="1423.95" y="823.88" width="46.89" height="23.62" fill="#ebc1af" />
<rect x="1423.95" y="846.5" width="32.26" height="23.62" fill="#ec764f" />
<rect x="1455.21" y="846.5" width="15.63" height="23.62" fill="#ebc1af" />
<rect x="1423.95" y="869.12" width="16.63" height="23.62" fill="#edefee" />
<rect x="1439.58" y="869.12" width="31.26" height="23.62" fill="#bea5cf" />
<rect x="1423.95" y="891.74" width="16.63" height="23.62" fill="#7f4c9e" />
<rect x="1439.58" y="891.74" width="16.63" height="23.62" fill="#ebc1af" />
<rect x="1455.21" y="891.74" width="15.63" height="23.62" fill="#bea5cf" />
<rect x="1423.95" y="914.36" width="16.63" height="23.62" fill="#9b76b5" />
<rect x="1439.58" y="914.36" width="16.63" height="23.62" fill="#edefee" />
<rect x="1455.21" y="914.36" width="15.63" height="23.62" fill="#bea5cf" />
<rect x="1423.95" y="936.98" width="16.63" height="23.62" fill="#ebc1af" />
<rect x="1439.58" y="936.98" width="16.63" height="23.62" fill="#bea5cf" />
<rect x="1455.21" y="936.98" width="15.63" height="23.62" fill="#eb987b" />
<rect x="1423.95" y="959.6" width="16.63" height="23.62" fill="#7f4c9e" />
<rect x="1439.58" y="959.6" width="31.26" height="23.62" fill="#edefee" />
<rect x="1423.95" y="982.22" width="32.26" height="23.62" fill="#eb987b" />
<rect x="1455.21" y="982.22" width="15.63" height="23.62" fill="#9b76b5" />
<rect x="1423.95" y="1004.84" width="16.63" height="23.62" fill="#ec764f" />
<rect x="1439.58" y="1004.84" width="31.26" height="23.62" fill="#bea5cf" />
<rect x="1423.95" y="1027.46" width="16.63" height="23.62" fill="#ec764f" />
<rect x="1439.58" y="1027.46" width="16.63" height="23.62" fill="#bea5cf" />
<rect x="1455.21" y="1027.46" width="15.63" height="23.62" fill="#edefee" />
<rect x="1423.95" y="1050.08" width="16.63" height="23.62" fill="#eb987b" />
<rect x="1439.58" y="1050.08" width="16.63" height="23.62" fill="#edefee" />
<rect x="1455.21" y="1050.08" width="15.63" height="23.62" fill="#bea5cf" />
<rect x="1423.95" y="1072.7" width="16.63" height="23.62" fill="#bea5cf" />
<rect x="1439.58" y="1072.7" width="16.63" height="23.62" fill="#7f4c9e" />
<rect x="1455.21" y="1072.7" width="15.63" height="23.62" fill="#bea5cf" />
<rect x="1423.95" y="1095.32" width="16.63" height="23.62" fill="#7f4c9e" />
<rect x="1439.58" y="1095.32" width="16.63" height="23.62" fill="#edefee" />
<rect x="1455.21" y="1095.32" width="15.63" height="23.62" fill="#9b76b5" />
<rect x="1423.95" y="1117.94" width="16.63" height="22.62" fill="#ebc1af" />
<rect x="1439.58" y="1117.94" width="31.26" height="22.62" fill="#bea5cf" />
<rect x="1062.6" y="1156.76" width="16.63" height="23.62" fill="#9b76b5" />
<rect x="1078.23" y="1156.76" width="16.63" height="23.62" fill="#7f4c9e" />
<rect x="1093.86" y="1156.76" width="16.63" height="23.62" fill="#bea5cf" />
<rect x="1109.49" y="1156.76" width="16.63" height="23.62" fill="#7f4c9e" />
<rect x="1125.12" y="1156.76" width="16.63" height="23.62" fill="#9b76b5" />
<rect x="1140.75" y="1156.76" width="16.63" height="23.62" fill="#edefee" />
<rect x="1156.38" y="1156.76" width="32.26" height="23.62" fill="#bea5cf" />
<rect x="1187.64" y="1156.76" width="16.63" height="23.62" fill="#9b76b5" />
<rect x="1203.27" y="1156.76" width="16.63" height="23.62" fill="#ebc1af" />
<rect x="1218.9" y="1156.76" width="16.63" height="23.62" fill="#edefee" />
<rect x="1234.53" y="1156.76" width="15.63" height="23.62" fill="#9b76b5" />
<rect x="1062.6" y="1179.38" width="47.89" height="23.62" fill="#7f4c9e" />
<rect x="1109.49" y="1179.38" width="16.63" height="23.62" fill="#9b76b5" />
<rect x="1125.12" y="1179.38" width="32.26" height="23.62" fill="#edefee" />
<rect x="1156.38" y="1179.38" width="16.63" height="23.62" fill="#9b76b5" />
<rect x="1172.01" y="1179.38" width="16.63" height="23.62" fill="#d4d6d5" />
<rect x="1187.64" y="1179.38" width="16.63" height="23.62" fill="#7f4c9e" />
<rect x="1203.27" y="1179.38" width="16.63" height="23.62" fill="#bea5cf" />
<rect x="1218.9" y="1179.38" width="16.63" height="23.62" fill="#9b76b5" />
<rect x="1234.53" y="1179.38" width="15.63" height="23.62" fill="#7f4c9e" />
<rect x="1062.6" y="1202" width="16.63" height="23.62" fill="#9b76b5" />
<rect x="1078.23" y="1202" width="16.63" height="23.62" fill="#7f4c9e" />
<rect x="1093.86" y="1202" width="32.26" height="23.62" fill="#bea5cf" />
<rect x="1125.12" y="1202" width="16.63" height="23.62" fill="#9b76b5" />
<rect x="1140.75" y="1202" width="16.63" height="23.62" fill="#edefee" />
<rect x="1156.38" y="1202" width="16.63" height="23.62" fill="#7f4c9e" />
<rect x="1172.01" y="1202" width="32.26" height="23.62" fill="#bea5cf" />
<rect x="1203.27" y="1202" width="16.63" height="23.62" fill="#edefee" />
<rect x="1218.9" y="1202" width="16.63" height="23.62" fill="#bea5cf" />
<rect x="1234.53" y="1202" width="15.63" height="23.62" fill="#9b76b5" />
<rect x="1062.6" y="1224.62" width="16.63" height="23.62" fill="#ebc1af" />
<rect x="1078.23" y="1224.62" width="16.63" height="23.62" fill="#d4d6d5" />
<rect x="1093.86" y="1224.62" width="47.89" height="23.62" fill="#9b76b5" />
<rect x="1140.75" y="1224.62" width="16.63" height="23.62" fill="#bea5cf" />
<rect x="1156.38" y="1224.62" width="32.26" height="23.62" fill="#9b76b5" />
<rect x="1187.64" y="1224.62" width="16.63" height="23.62" fill="#7f4c9e" />
<rect x="1203.27" y="1224.62" width="16.63" height="23.62" fill="#edefee" />
<rect x="1218.9" y="1224.62" width="31.26" height="23.62" fill="#9b76b5" />
<rect x="1062.6" y="1247.24" width="32.26" height="23.62" fill="#7f4c9e" />
<rect x="1093.86" y="1247.24" width="32.26" height="23.62" fill="#9b76b5" />
<rect x="1125.12" y="1247.24" width="16.63" height="23.62" fill="#bea5cf" />
<rect x="1140.75" y="1247.24" width="16.63" height="23.62" fill="#9b76b5" />
<rect x="1156.38" y="1247.24" width="16.63" height="23.62" fill="#7f4c9e" />
<rect x="1172.01" y="1247.24" width="16.63" height="23.62" fill="#9b76b5" />
<rect x="1187.64" y="1247.24" width="16.63" height="23.62" fill="#7f4c9e" />
<rect x="1203.27" y="1247.24" width="16.63" height="23.62" fill="#9b76b5" />
<rect x="1218.9" y="1247.24" width="16.63" height="23.62" fill="#bea5cf" />
<rect x="1234.53" y="1247.24" width="15.63" height="23.62" fill="#edefee" />
<rect x="1062.6" y="1269.86" width="16.63" height="23.62" fill="#7f4c9e" />
<rect x="1078.23" y="1269.86" width="16.63" height="23.62" fill="#ebc1af" />
<rect x="1093.86" y="1269.86" width="63.52" height="23.62" fill="#edefee" />
<rect x="1156.38" y="1269.86" width="16.63" height="23.62" fill="#ebc1af" />
<rect x="1172.01" y="1269.86" width="16.63" height="23.62" fill="#eb987b" />
<rect x="1187.64" y="1269.86" width="16.63" height="23.62" fill="#edefee" />
<rect x="1203.27" y="1269.86" width="16.63" height="23.62" fill="#bea5cf" />
<rect x="1218.9" y="1269.86" width="16.63" height="23.62" fill="#ebc1af" />
<rect x="1234.53" y="1269.86" width="15.63" height="23.62" fill="#bea5cf" />
<rect x="1062.6" y="1292.48" width="32.26" height="23.62" fill="#edefee" />
<rect x="1093.86" y="1292.48" width="16.63" height="23.62" fill="#ebc1af" />
<rect x="1109.49" y="1292.48" width="16.63" height="23.62" fill="#edefee" />
<rect x="1125.12" y="1292.48" width="16.63" height="23.62" fill="#7f4c9e" />
<rect x="1140.75" y="1292.48" width="16.63" height="23.62" fill="#bea5cf" />
<rect x="1156.38" y="1292.48" width="16.63" height="23.62" fill="#edefee" />
<rect x="1172.01" y="1292.48" width="16.63" height="23.62" fill="#9b76b5" />
<rect x="1187.64" y="1292.48" width="16.63" height="23.62" fill="#bea5cf" />
<rect x="1203.27" y="1292.48" width="16.63" height="23.62" fill="#ebc1af" />
<rect x="1218.9" y="1292.48" width="16.63" height="23.62" fill="#9b76b5" />
<rect x="1234.53" y="1292.48" width="15.63" height="23.62" fill="#7f4c9e" />
<rect x="1062.6" y="1315.1" width="16.63" height="23.62" fill="#ebc1af" />
<rect x="1078.23" y="1315.1" width="16.63" height="23.62" fill="#bea5cf" />
<rect x="1093.86" y="1315.1" width="16.63" height="23.62" fill="#edefee" />
<rect x="1109.49" y="1315.1" width="16.63" height="23.62" fill="#bea5cf" />
<rect x="1125.12" y="1315.1" width="16.63" height="23.62" fill="#7f4c9e" />
<rect x="1140.75" y="1315.1" width="32.26" height="23.62" fill="#ebc1af" />
<rect x="1172.01" y="1315.1" width="32.26" height="23.62" fill="#7f4c9e" />
<rect x="1203.27" y="1315.1" width="16.63" height="23.62" fill="#edefee" />
<rect x="1218.9" y="1315.1" width="16.63" height="23.62" fill="#9b76b5" />
<rect x="1234.53" y="1315.1" width="15.63" height="23.62" fill="#bea5cf" />
<rect x="1062.6" y="1337.72" width="32.26" height="23.62" fill="#7f4c9e" />
<rect x="1093.86" y="1337.72" width="16.63" height="23.62" fill="#bea5cf" />
<rect x="1109.49" y="1337.72" width="16.63" height="23.62" fill="#ebc1af" />
<rect x="1125.12" y="1337.72" width="32.26" height="23.62" fill="#bea5cf" />
<rect x="1156.38" y="1337.72" width="32.26" height="23.62" fill="#edefee" />
<rect x="1187.64" y="1337.72" width="16.63" height="23.62" fill="#eb987b" />
<rect x="1203.27" y="1337.72" width="16.63" height="23.62" fill="#bea5cf" />
<rect x="1218.9" y="1337.72" width="16.63" height="23.62" fill="#edefee" />
<rect x="1234.53" y="1337.72" width="15.63" height="23.62" fill="#9b76b5" />
<rect x="1062.6" y="1360.34" width="16.63" height="23.62" fill="#9b76b5" />
<rect x="1078.23" y="1360.34" width="16.63" height="23.62" fill="#7f4c9e" />
<rect x="1093.86" y="1360.34" width="32.26" height="23.62" fill="#edefee" />
<rect x="1125.12" y="1360.34" width="16.63" height="23.62" fill="#bea5cf" />
<rect x="1140.75" y="1360.34" width="16.63" height="23.62" fill="#eb987b" />
<rect x="1156.38" y="1360.34" width="16.63" height="23.62" fill="#edefee" />
<rect x="1172.01" y="1360.34" width="16.63" height="23.62" fill="#bea5cf" />
<rect x="1187.64" y="1360.34" width="16.63" height="23.62" fill="#ebc1af" />
<rect x="1203.27" y="1360.34" width="16.63" height="23.62" fill="#9b76b5" />
<rect x="1218.9" y="1360.34" width="16.63" height="23.62" fill="#ebc1af" />
<rect x="1234.53" y="1360.34" width="15.63" height="23.62" fill="#bea5cf" />
<rect x="1062.6" y="1382.96" width="32.26" height="23.62" fill="#7f4c9e" />
<rect x="1093.86" y="1382.96" width="16.63" height="23.62" fill="#bea5cf" />
<rect x="1109.49" y="1382.96" width="47.89" height="23.62" fill="#7f4c9e" />
<rect x="1156.38" y="1382.96" width="16.63" height="23.62" fill="#edefee" />
<rect x="1172.01" y="1382.96" width="16.63" height="23.62" fill="#ebc1af" />
<rect x="1187.64" y="1382.96" width="16.63" height="23.62" fill="#edefee" />
<rect x="1203.27" y="1382.96" width="16.63" height="23.62" fill="#9b76b5" />
<rect x="1218.9" y="1382.96" width="31.26" height="23.62" fill="#ebc1af" />
<rect x="1062.6" y="1405.58" width="16.63" height="23.62" fill="#9b76b5" />
<rect x="1078.23" y="1405.58" width="16.63" height="23.62" fill="#7f4c9e" />
<rect x="1093.86" y="1405.58" width="47.89" height="23.62" fill="#bea5cf" />
<rect x="1140.75" y="1405.58" width="16.63" height="23.62" fill="#edefee" />
<rect x="1156.38" y="1405.58" width="16.63" height="23.62" fill="#ebc1af" />
<rect x="1172.01" y="1405.58" width="16.63" height="23.62" fill="#edefee" />
<rect x="1187.64" y="1405.58" width="47.89" height="23.62" fill="#bea5cf" />
<rect x="1234.53" y="1405.58" width="15.63" height="23.62" fill="#7f4c9e" />
<rect x="1062.6" y="1428.2" width="16.63" height="23.62" fill="#9b76b5" />
<rect x="1078.23" y="1428.2" width="16.63" height="23.62" fill="#d4d6d5" />
<rect x="1093.86" y="1428.2" width="16.63" height="23.62" fill="#bea5cf" />
<rect x="1109.49" y="1428.2" width="16.63" height="23.62" fill="#7f4c9e" />
<rect x="1125.12" y="1428.2" width="32.26" height="23.62" fill="#edefee" />
<rect x="1156.38" y="1428.2" width="16.63" height="23.62" fill="#9b76b5" />
<rect x="1172.01" y="1428.2" width="32.26" height="23.62" fill="#bea5cf" />
<rect x="1203.27" y="1428.2" width="16.63" height="23.62" fill="#edefee" />
<rect x="1218.9" y="1428.2" width="16.63" height="23.62" fill="#9b76b5" />
<rect x="1234.53" y="1428.2" width="15.63" height="23.62" fill="#edefee" />
<rect x="1062.6" y="1450.82" width="16.63" height="23.62" fill="#9b76b5" />
<rect x="1078.23" y="1450.82" width="16.63" height="23.62" fill="#7f4c9e" />
<rect x="1093.86" y="1450.82" width="16.63" height="23.62" fill="#9b76b5" />
<rect x="1109.49" y="1450.82" width="16.63" height="23.62" fill="#edefee" />
<rect x="1125.12" y="1450.82" width="16.63" height="23.62" fill="#9b76b5" />
<rect x="1140.75" y="1450.82" width="16.63" height="23.62" fill="#bea5cf" />
<rect x="1156.38" y="1450.82" width="16.63" height="23.62" fill="#9b76b5" />
<rect x="1172.01" y="1450.82" width="16.63" height="23.62" fill="#edefee" />
<rect x="1187.64" y="1450.82" width="16.63" height="23.62" fill="#ebc1af" />
<rect x="1203.27" y="1450.82" width="16.63" height="23.62" fill="#edefee" />
<rect x="1218.9" y="1450.82" width="16.63" height="23.62" fill="#bea5cf" />
<rect x="1234.53" y="1450.82" width="15.63" height="23.62" fill="#edefee" />
<rect x="1062.6" y="1473.44" width="16.63" height="23.62" fill="#7f4c9e" />
<rect x="1078.23" y="1473.44" width="16.63" height="23.62" fill="#9b76b5" />
<rect x="1093.86" y="1473.44" width="32.26" height="23.62" fill="#bea5cf" />
<rect x="1125.12" y="1473.44" width="16.63" height="23.62" fill="#edefee" />
<rect x="1140.75" y="1473.44" width="47.89" height="23.62" fill="#bea5cf" />
<rect x="1187.64" y="1473.44" width="32.26" height="23.62" fill="#7f4c9e" />
<rect x="1218.9" y="1473.44" width="16.63" height="23.62" fill="#9b76b5" />
<rect x="1234.53" y="1473.44" width="15.63" height="23.62" fill="#edefee" />
<rect x="1062.6" y="1496.06" width="16.63" height="23.62" fill="#7f4c9e" />
<rect x="1078.23" y="1496.06" width="16.63" height="23.62" fill="#bea5cf" />
<rect x="1093.86" y="1496.06" width="16.63" height="23.62" fill="#9b76b5" />
<rect x="1109.49" y="1496.06" width="16.63" height="23.62" fill="#7f4c9e" />
<rect x="1125.12" y="1496.06" width="16.63" height="23.62" fill="#bea5cf" />
<rect x="1140.75" y="1496.06" width="16.63" height="23.62" fill="#9b76b5" />
<rect x="1156.38" y="1496.06" width="16.63" height="23.62" fill="#7f4c9e" />
<rect x="1172.01" y="1496.06" width="16.63" height="23.62" fill="#bea5cf" />
<rect x="1187.64" y="1496.06" width="16.63" height="23.62" fill="#7f4c9e" />
<rect x="1203.27" y="1496.06" width="16.63" height="23.62" fill="#9b76b5" />
<rect x="1218.9" y="1496.06" width="16.63" height="23.62" fill="#ebc1af" />
<rect x="1234.53" y="1496.06" width="15.63" height="23.62" fill="#9b76b5" />
<rect x="1062.6" y="1518.68" width="16.63" height="23.62" fill="#9b76b5" />
<rect x="1078.23" y="1518.68" width="16.63" height="23.62" fill="#eb987b" />
<rect x="1093.86" y="1518.68" width="16.63" height="23.62" fill="#edefee" />
<rect x="1109.49" y="1518.68" width="32.26" height="23.62" fill="#bea5cf" />
<rect x="1140.75" y="1518.68" width="47.89" height="23.62" fill="#edefee" />
<rect x="1187.64" y="1518.68" width="16.63" height="23.62" fill="#7f4c9e" />
<rect x="1203.27" y="1518.68" width="46.89" height="23.62" fill="#ebc1af" />
<rect x="1062.6" y="1541.3" width="16.63" height="23.62" fill="#9b76b5" />
<rect x="1078.23" y="1541.3" width="32.26" height="23.62" fill="#bea5cf" />
<rect x="1109.49" y="1541.3" width="16.63" height="23.62" fill="#7f4c9e" />
<rect x="1125.12" y="1541.3" width="16.63" height="23.62" fill="#bea5cf" />
<rect x="1140.75" y="1541.3" width="16.63" height="23.62" fill="#ebc1af" />
<rect x="1156.38" y="1541.3" width="16.63" height="23.62" fill="#edefee" />
<rect x="1172.01" y="1541.3" width="16.63" height="23.62" fill="#bea5cf" />
<rect x="1187.64" y="1541.3" width="62.52" height="23.62" fill="#9b76b5" />
<rect x="1062.6" y="1563.92" width="16.63" height="22.62" fill="#edefee" />
<rect x="1078.23" y="1563.92" width="16.63" height="22.62" fill="#9b76b5" />
<rect x="1093.86" y="1563.92" width="16.63" height="22.62" fill="#bea5cf" />
<rect x="1109.49" y="1563.92" width="16.63" height="22.62" fill="#7f4c9e" />
<rect x="1125.12" y="1563.92" width="63.52" height="22.62" fill="#edefee" />
<rect x="1187.64" y="1563.92" width="16.63" height="22.62" fill="#bea5cf" />
<rect x="1203.27" y="1563.92" width="16.63" height="22.62" fill="#9b76b5" />
<rect x="1218.9" y="1563.92" width="16.63" height="22.62" fill="#edefee" />
<rect x="1234.53" y="1563.92" width="15.63" height="22.62" fill="#bea5cf" />
<rect x="1266.41" y="1156.76" width="16.63" height="23.62" fill="#7f4c9e" />
<rect x="1282.04" y="1156.76" width="16.63" height="23.62" fill="#bea5cf" />
<rect x="1297.67" y="1156.76" width="32.26" height="23.62" fill="#9b76b5" />
<rect x="1328.93" y="1156.76" width="15.63" height="23.62" fill="#7f4c9e" />
<rect x="1266.41" y="1179.38" width="16.63" height="23.62" fill="#9b76b5" />
<rect x="1282.04" y="1179.38" width="16.63" height="23.62" fill="#ec764f" />
<rect x="1297.67" y="1179.38" width="32.26" height="23.62" fill="#edefee" />
<rect x="1328.93" y="1179.38" width="15.63" height="23.62" fill="#ec764f" />
<rect x="1266.41" y="1202" width="16.63" height="23.62" fill="#ebc1af" />
<rect x="1282.04" y="1202" width="16.63" height="23.62" fill="#edefee" />
<rect x="1297.67" y="1202" width="16.63" height="23.62" fill="#bea5cf" />
<rect x="1313.3" y="1202" width="16.63" height="23.62" fill="#edefee" />
<rect x="1328.93" y="1202" width="15.63" height="23.62" fill="#eb987b" />
<rect x="1266.41" y="1224.62" width="16.63" height="23.62" fill="#edefee" />
<rect x="1282.04" y="1224.62" width="16.63" height="23.62" fill="#ec764f" />
<rect x="1297.67" y="1224.62" width="16.63" height="23.62" fill="#bea5cf" />
<rect x="1313.3" y="1224.62" width="16.63" height="23.62" fill="#ebc1af" />
<rect x="1328.93" y="1224.62" width="15.63" height="23.62" fill="#eb987b" />
<rect x="1266.41" y="1247.24" width="16.63" height="23.62" fill="#bea5cf" />
<rect x="1282.04" y="1247.24" width="16.63" height="23.62" fill="#ec764f" />
<rect x="1297.67" y="1247.24" width="16.63" height="23.62" fill="#ebc1af" />
<rect x="1313.3" y="1247.24" width="16.63" height="23.62" fill="#eb987b" />
<rect x="1328.93" y="1247.24" width="15.63" height="23.62" fill="#edefee" />
<rect x="1266.41" y="1269.86" width="32.26" height="23.62" fill="#bea5cf" />
<rect x="1297.67" y="1269.86" width="16.63" height="23.62" fill="#ebc1af" />
<rect x="1313.3" y="1269.86" width="16.63" height="23.62" fill="#edefee" />
<rect x="1328.93" y="1269.86" width="15.63" height="23.62" fill="#7f4c9e" />
<rect x="1266.41" y="1292.48" width="16.63" height="23.62" fill="#ebc1af" />
<rect x="1282.04" y="1292.48" width="16.63" height="23.62" fill="#edefee" />
<rect x="1297.67" y="1292.48" width="16.63" height="23.62" fill="#eb987b" />
<rect x="1313.3" y="1292.48" width="16.63" height="23.62" fill="#9b76b5" />
<rect x="1328.93" y="1292.48" width="15.63" height="23.62" fill="#ebc1af" />
<rect x="1266.41" y="1315.1" width="16.63" height="23.62" fill="#eb987b" />
<rect x="1282.04" y="1315.1" width="16.63" height="23.62" fill="#bea5cf" />
<rect x="1297.67" y="1315.1" width="16.63" height="23.62" fill="#edefee" />
<rect x="1313.3" y="1315.1" width="16.63" height="23.62" fill="#bea5cf" />
<rect x="1328.93" y="1315.1" width="15.63" height="23.62" fill="#edefee" />
<rect x="1266.41" y="1337.72" width="16.63" height="23.62" fill="#ec764f" />
<rect x="1282.04" y="1337.72" width="32.26" height="23.62" fill="#eb987b" />
<rect x="1313.3" y="1337.72" width="16.63" height="23.62" fill="#d4d6d5" />
<rect x="1328.93" y="1337.72" width="15.63" height="23.62" fill="#ec764f" />
<rect x="1266.41" y="1360.34" width="16.63" height="23.62" fill="#ebc1af" />
<rect x="1282.04" y="1360.34" width="16.63" height="23.62" fill="#edefee" />
<rect x="1297.67" y="1360.34" width="46.89" height="23.62" fill="#ec764f" />
<rect x="1266.41" y="1382.96" width="16.63" height="23.62" fill="#ec764f" />
<rect x="1282.04" y="1382.96" width="16.63" height="23.62" fill="#ebc1af" />
<rect x="1297.67" y="1382.96" width="16.63" height="23.62" fill="#eb987b" />
<rect x="1313.3" y="1382.96" width="16.63" height="23.62" fill="#ebc1af" />
<rect x="1328.93" y="1382.96" width="15.63" height="23.62" fill="#ec764f" />
<rect x="1266.41" y="1405.58" width="16.63" height="23.62" fill="#ebc1af" />
<rect x="1282.04" y="1405.58" width="16.63" height="23.62" fill="#eb987b" />
<rect x="1297.67" y="1405.58" width="16.63" height="23.62" fill="#ec764f" />
<rect x="1313.3" y="1405.58" width="16.63" height="23.62" fill="#edefee" />
<rect x="1328.93" y="1405.58" width="15.63" height="23.62" fill="#ec764f" />
<rect x="1266.41" y="1428.2" width="16.63" height="23.62" fill="#ec764f" />
<rect x="1282.04" y="1428.2" width="16.63" height="23.62" fill="#eb987b" />
<rect x="1297.67" y="1428.2" width="16.63" height="23.62" fill="#ec764f" />
<rect x="1313.3" y="1428.2" width="16.63" height="23.62" fill="#ebc1af" />
<rect x="1328.93" y="1428.2" width="15.63" height="23.62" fill="#edefee" />
<rect x="1266.41" y="1450.82" width="16.63" height="23.62" fill="#ec764f" />
<rect x="1282.04" y="1450.82" width="16.63" height="23.62" fill="#edefee" />
<rect x="1297.67" y="1450.82" width="16.63" height="23.62" fill="#ec764f" />
<rect x="1313.3" y="1450.82" width="31.26" height="23.62" fill="#ebc1af" />
<rect x="1266.41" y="1473.44" width="16.63" height="23.62" fill="#ebc1af" />
<rect x="1282.04" y="1473.44" width="16.63" height="23.62" fill="#eb987b" />
<rect x="1297.67" y="1473.44" width="16.63" height="23.62" fill="#ec764f" />
<rect x="1313.3" y="1473.44" width="16.63" height="23.62" fill="#9b76b5" />
<rect x="1328.93" y="1473.44" width="15.63" height="23.62" fill="#ec764f" />
<rect x="1266.41" y="1496.06" width="16.63" height="23.62" fill="#eb987b" />
<rect x="1282.04" y="1496.06" width="16.63" height="23.62" fill="#ebc1af" />
<rect x="1297.67" y="1496.06" width="16.63" height="23.62" fill="#ec764f" />
<rect x="1313.3" y="1496.06" width="16.63" height="23.62" fill="#bea5cf" />
<rect x="1328.93" y="1496.06" width="15.63" height="23.62" fill="#eb987b" />
<rect x="1266.41" y="1518.68" width="16.63" height="23.62" fill="#ec764f" />
<rect x="1282.04" y="1518.68" width="16.63" height="23.62" fill="#eb987b" />
<rect x="1297.67" y="1518.68" width="16.63" height="23.62" fill="#ec764f" />
<rect x="1313.3" y="1518.68" width="16.63" height="23.62" fill="#eb987b" />
<rect x="1328.93" y="1518.68" width="15.63" height="23.62" fill="#ebc1af" />
<rect x="1266.41" y="1541.3" width="32.26" height="23.62" fill="#ec764f" />
<rect x="1297.67" y="1541.3" width="16.63" height="23.62" fill="#edefee" />
<rect x="1313.3" y="1541.3" width="31.26" height="23.62" fill="#bea5cf" />
<rect x="1266.41" y="1563.92" width="47.89" height="22.62" fill="#ec764f" />
<rect x="1313.3" y="1563.92" width="31.26" height="22.62" fill="#edefee" />
<rect x="1360.81" y="1156.76" width="16.63" height="23.62" fill="#9b76b5" />
<rect x="1376.44" y="1156.76" width="16.63" height="23.62" fill="#ebc1af" />
<rect x="1392.07" y="1156.76" width="15.63" height="23.62" fill="#ec764f" />
<rect x="1360.81" y="1179.38" width="16.63" height="23.62" fill="#edefee" />
<rect x="1376.44" y="1179.38" width="31.26" height="23.62" fill="#ebc1af" />
<rect x="1360.81" y="1202" width="16.63" height="23.62" fill="#eb987b" />
<rect x="1376.44" y="1202" width="16.63" height="23.62" fill="#ec764f" />
<rect x="1392.07" y="1202" width="15.63" height="23.62" fill="#ebc1af" />
<rect x="1360.81" y="1224.62" width="16.63" height="23.62" fill="#ebc1af" />
<rect x="1376.44" y="1224.62" width="31.26" height="23.62" fill="#edefee" />
<rect x="1360.81" y="1247.24" width="16.63" height="23.62" fill="#ebc1af" />
<rect x="1376.44" y="1247.24" width="16.63" height="23.62" fill="#eb987b" />
<rect x="1392.07" y="1247.24" width="15.63" height="23.62" fill="#edefee" />
<rect x="1360.81" y="1269.86" width="16.63" height="23.62" fill="#edefee" />
<rect x="1376.44" y="1269.86" width="16.63" height="23.62" fill="#bea5cf" />
<rect x="1392.07" y="1269.86" width="15.63" height="23.62" fill="#edefee" />
<rect x="1360.81" y="1292.48" width="16.63" height="23.62" fill="#eb987b" />
<rect x="1376.44" y="1292.48" width="16.63" height="23.62" fill="#ec764f" />
<rect x="1392.07" y="1292.48" width="15.63" height="23.62" fill="#eb987b" />
<rect x="1360.81" y="1315.1" width="16.63" height="23.62" fill="#bea5cf" />
<rect x="1376.44" y="1315.1" width="16.63" height="23.62" fill="#edefee" />
<rect x="1392.07" y="1315.1" width="15.63" height="23.62" fill="#bea5cf" />
<rect x="1360.81" y="1337.72" width="16.63" height="23.62" fill="#bea5cf" />
<rect x="1376.44" y="1337.72" width="16.63" height="23.62" fill="#ec764f" />
<rect x="1392.07" y="1337.72" width="15.63" height="23.62" fill="#bea5cf" />
<rect x="1360.81" y="1360.34" width="32.26" height="23.62" fill="#eb987b" />
<rect x="1392.07" y="1360.34" width="15.63" height="23.62" fill="#ebc1af" />
<rect x="1360.81" y="1382.96" width="16.63" height="23.62" fill="#edefee" />
<rect x="1376.44" y="1382.96" width="16.63" height="23.62" fill="#ec764f" />
<rect x="1392.07" y="1382.96" width="15.63" height="23.62" fill="#ebc1af" />
<rect x="1360.81" y="1405.58" width="16.63" height="23.62" fill="#bea5cf" />
<rect x="1376.44" y="1405.58" width="16.63" height="23.62" fill="#ebc1af" />
<rect x="1392.07" y="1405.58" width="15.63" height="23.62" fill="#eb987b" />
<rect x="1360.81" y="1428.2" width="16.63" height="23.62" fill="#ebc1af" />
<rect x="1376.44" y="1428.2" width="16.63" height="23.62" fill="#bea5cf" />
<rect x="1392.07" y="1428.2" width="15.63" height="23.62" fill="#edefee" />
<rect x="1360.81" y="1450.82" width="32.26" height="23.62" fill="#edefee" />
<rect x="1392.07" y="1450.82" width="15.63" height="23.62" fill="#eb987b" />
<rect x="1360.81" y="1473.44" width="16.63" height="23.62" fill="#eb987b" />
<rect x="1376.44" y="1473.44" width="16.63" height="23.62" fill="#edefee" />
<rect x="1392.07" y="1473.44" width="15.63" height="23.62" fill="#ec764f" />
<rect x="1360.81" y="1496.06" width="32.26" height="23.62" fill="#edefee" />
<rect x="1392.07" y="1496.06" width="15.63" height="23.62" fill="#bea5cf" />
<rect x="1360.81" y="1518.68" width="16.63" height="23.62" fill="#ebc1af" />
<rect x="1376.44" y="1518.68" width="16.63" height="23.62" fill="#edefee" />
<rect x="1392.07" y="1518.68" width="15.63" height="23.62" fill="#ebc1af" />
<rect x="1360.81" y="1541.3" width="16.63" height="23.62" fill="#bea5cf" />
<rect x="1376.44" y="1541.3" width="16.63" height="23.62" fill="#edefee" />
<rect x="1392.07" y="1541.3" width="15.63" height="23.62" fill="#ebc1af" />
<rect x="1360.81" y="1563.92" width="32.26" height="22.62" fill="#ebc1af" />
<rect x="1392.07" y="1563.92" width="15.63" height="22.62" fill="#bea5cf" />
<rect x="1423.95" y="1156.76" width="46.89" height="23.62" fill="#7f4c9e" />
<rect x="1423.95" y="1179.38" width="16.63" height="23.62" fill="#7f4c9e" />
<rect x="1439.58" y="1179.38" width="16.63" height="23.62" fill="#eb987b" />
<rect x="1455.21" y="1179.38" width="15.63" height="23.62" fill="#bea5cf" />
<rect x="1423.95" y="1202" width="32.26" height="23.62" fill="#bea5cf" />
<rect x="1455.21" y="1202" width="15.63" height="23.62" fill="#9b76b5" />
<rect x="1423.95" y="1224.62" width="32.26" height="23.62" fill="#edefee" />
<rect x="1455.21" y="1224.62" width="15.63" height="23.62" fill="#bea5cf" />
<rect x="1423.95" y="1247.24" width="16.63" height="23.62" fill="#eb987b" />
<rect x="1439.58" y="1247.24" width="31.26" height="23.62" fill="#bea5cf" />
<rect x="1423.95" y="1269.86" width="16.63" height="23.62" fill="#ec764f" />
<rect x="1439.58" y="1269.86" width="16.63" height="23.62" fill="#eb987b" />
<rect x="1455.21" y="1269.86" width="15.63" height="23.62" fill="#ec764f" />
<rect x="1423.95" y="1292.48" width="16.63" height="23.62" fill="#eb987b" />
<rect x="1439.58" y="1292.48" width="16.63" height="23.62" fill="#ec764f" />
<rect x="1455.21" y="1292.48" width="15.63" height="23.62" fill="#edefee" />
<rect x="1423.95" y="1315.1" width="16.63" height="23.62" fill="#ec764f" />
<rect x="1439.58" y="1315.1" width="31.26" height="23.62" fill="#eb987b" />
<rect x="1423.95" y="1337.72" width="16.63" height="23.62" fill="#eb987b" />
<rect x="1439.58" y="1337.72" width="16.63" height="23.62" fill="#ebc1af" />
<rect x="1455.21" y="1337.72" width="15.63" height="23.62" fill="#edefee" />
<rect x="1423.95" y="1360.34" width="16.63" height="23.62" fill="#eb987b" />
<rect x="1439.58" y="1360.34" width="16.63" height="23.62" fill="#edefee" />
<rect x="1455.21" y="1360.34" width="15.63" height="23.62" fill="#eb987b" />
<rect x="1423.95" y="1382.96" width="16.63" height="23.62" fill="#9b76b5" />
<rect x="1439.58" y="1382.96" width="16.63" height="23.62" fill="#bea5cf" />
<rect x="1455.21" y="1382.96" width="15.63" height="23.62" fill="#ebc1af" />
<rect x="1423.95" y="1405.58" width="16.63" height="23.62" fill="#bea5cf" />
<rect x="1439.58" y="1405.58" width="16.63" height="23.62" fill="#edefee" />
<rect x="1455.21" y="1405.58" width="15.63" height="23.62" fill="#ebc1af" />
<rect x="1423.95" y="1428.2" width="16.63" height="23.62" fill="#edefee" />
<rect x="1439.58" y="1428.2" width="16.63" height="23.62" fill="#bea5cf" />
<rect x="1455.21" y="1428.2" width="15.63" height="23.62" fill="#ebc1af" />
<rect x="1423.95" y="1450.82" width="16.63" height="23.62" fill="#ebc1af" />
<rect x="1439.58" y="1450.82" width="16.63" height="23.62" fill="#bea5cf" />
<rect x="1455.21" y="1450.82" width="15.63" height="23.62" fill="#ebc1af" />
<rect x="1423.95" y="1473.44" width="16.63" height="23.62" fill="#eb987b" />
<rect x="1439.58" y="1473.44" width="16.63" height="23.62" fill="#9b76b5" />
<rect x="1455.21" y="1473.44" width="15.63" height="23.62" fill="#ebc1af" />
<rect x="1423.95" y="1496.06" width="16.63" height="23.62" fill="#ebc1af" />
<rect x="1439.58" y="1496.06" width="16.63" height="23.62" fill="#edefee" />
<rect x="1455.21" y="1496.06" width="15.63" height="23.62" fill="#ebc1af" />
<rect x="1423.95" y="1518.68" width="16.63" height="23.62" fill="#ec764f" />
<rect x="1439.58" y="1518.68" width="16.63" height="23.62" fill="#eb987b" />
<rect x="1455.21" y="1518.68" width="15.63" height="23.62" fill="#ebc1af" />
<rect x="1423.95" y="1541.3" width="16.63" height="23.62" fill="#eb987b" />
<rect x="1439.58" y="1541.3" width="16.63" height="23.62" fill="#ebc1af" />
<rect x="1455.21" y="1541.3" width="15.63" height="23.62" fill="#edefee" />
<rect x="1423.95" y="1563.92" width="16.63" height="22.62" fill="#edefee" />
<rect x="1439.58" y="1563.92" width="16.63" height="22.62" fill="#ec764f" />
<rect x="1455.21" y="1563.92" width="15.63" height="22.62" fill="#eb987b" />
<text x="1483" y="153.81" font-size="20" fill="#231f20" font-style="italic">LIN7C</text>
<text x="1483" y="176.43" font-size="20" fill="#231f20" font-style="italic">SLC45A2</text>
<text x="1483" y="199.05" font-size="20" fill="#231f20" font-style="italic">SPCS3</text>
<text x="1483" y="221.67" font-size="20" fill="#231f20" font-style="italic">SERPING1</text>
<text x="1483" y="244.29" font-size="20" fill="#231f20" font-style="italic">TFPT</text>
<text x="1483" y="266.91" font-size="20" fill="#231f20" font-style="italic">VEGFC</text>
<text x="1483" y="289.53" font-size="20" fill="#231f20" font-style="italic">PRDM13</text>
<text x="1483" y="312.15" font-size="20" fill="#231f20" font-style="italic">RPN2</text>
<text x="1483" y="334.77" font-size="20" fill="#231f20" font-style="italic">COQ2</text>
<text x="1483" y="357.39" font-size="20" fill="#231f20" font-style="italic">LDHD</text>
<text x="1483" y="380.01" font-size="20" fill="#231f20" font-style="italic">PDE2A</text>
<text x="1483" y="402.63" font-size="20" fill="#231f20" font-style="italic">PAX6</text>
<text x="1483" y="425.25" font-size="20" fill="#231f20" font-style="italic">SMIM15</text>
<text x="1483" y="447.87" font-size="20" fill="#231f20" font-style="italic">ADGRB1</text>
<text x="1483" y="470.49" font-size="20" fill="#231f20" font-style="italic">NDUFAF3</text>
<text x="1483" y="493.11" font-size="20" fill="#231f20" font-style="italic">DCHS1</text>
<text x="1483" y="515.73" font-size="20" fill="#231f20" font-style="italic">PRELID2</text>
<text x="1483" y="538.35" font-size="20" fill="#231f20" font-style="italic">GLRX5</text>
<text x="1483" y="560.97" font-size="20" fill="#231f20" font-style="italic">PRLR</text>
<text x="1483" y="583.59" font-size="20" fill="#231f20" font-style="italic">KRTAP5-5</text>
<text x="1483" y="606.21" font-size="20" fill="#231f20" font-style="italic">MTRF1L</text>
<text x="1483" y="628.83" font-size="20" fill="#231f20" font-style="italic">CDK2AP1</text>
<text x="1483" y="651.45" font-size="20" fill="#231f20" font-style="italic">DZIP1</text>
<text x="1483" y="690.27" font-size="20" fill="#231f20" font-style="italic">CA7</text>
<text x="1483" y="712.89" font-size="20" fill="#231f20" font-style="italic">MOCS3</text>
<text x="1483" y="735.51" font-size="20" fill="#231f20" font-style="italic">KCNN3</text>
<text x="1483" y="758.13" font-size="20" fill="#231f20" font-style="italic">ORC4</text>
<text x="1483" y="780.75" font-size="20" fill="#231f20" font-style="italic">ADCK2</text>
<text x="1483" y="803.37" font-size="20" fill="#231f20" font-style="italic">CLSTN2</text>
<text x="1483" y="842.19" font-size="20" fill="#231f20" font-style="italic">ANKRD18A</text>
<text x="1483" y="864.81" font-size="20" fill="#231f20" font-style="italic">SLC7A11</text>
<text x="1483" y="887.43" font-size="20" fill="#231f20" font-style="italic">C1orf210</text>
<text x="1483" y="910.05" font-size="20" fill="#231f20" font-style="italic">CCDC110</text>
<text x="1483" y="932.67" font-size="20" fill="#231f20" font-style="italic">LRPAP1</text>
<text x="1483" y="955.29" font-size="20" fill="#231f20" font-style="italic">INTS14</text>
<text x="1483" y="977.91" font-size="20" fill="#231f20" font-style="italic">MAN1C1</text>
<text x="1483" y="1000.53" font-size="20" fill="#231f20" font-style="italic">NKD1</text>
<text x="1483" y="1023.15" font-size="20" fill="#231f20" font-style="italic">CFAP69</text>
<text x="1483" y="1045.77" font-size="20" fill="#231f20" font-style="italic">CNTD1</text>
<text x="1483" y="1068.39" font-size="20" fill="#231f20" font-style="italic">PIGK</text>
<text x="1483" y="1091.01" font-size="20" fill="#231f20" font-style="italic">THSD7A</text>
<text x="1483" y="1113.63" font-size="20" fill="#231f20" font-style="italic">STARD9</text>
<text x="1483" y="1136.25" font-size="20" fill="#231f20" font-style="italic">TSTD1</text>
<text x="1483" y="1175.07" font-size="20" fill="#231f20" font-style="italic">SLIRP</text>
<text x="1483" y="1197.69" font-size="20" fill="#231f20" font-style="italic">MTMR11</text>
<text x="1483" y="1220.31" font-size="20" fill="#231f20" font-style="italic">PYCARD</text>
<text x="1483" y="1242.93" font-size="20" fill="#231f20" font-style="italic">IFNLR1</text>
<text x="1483" y="1265.55" font-size="20" fill="#231f20" font-style="italic">PA2G4</text>
<text x="1483" y="1288.17" font-size="20" fill="#231f20" font-style="italic">KNTC1</text>
<text x="1483" y="1310.79" font-size="20" fill="#231f20" font-style="italic">CLK3</text>
<text x="1483" y="1333.41" font-size="20" fill="#231f20" font-style="italic">FAF2</text>
<text x="1483" y="1356.03" font-size="20" fill="#231f20" font-style="italic">MLC1</text>
<text x="1483" y="1378.65" font-size="20" fill="#231f20" font-style="italic">SRSF5</text>
<text x="1483" y="1401.27" font-size="20" fill="#231f20" font-style="italic">TMUB1</text>
<text x="1483" y="1423.89" font-size="20" fill="#231f20" font-style="italic">MDH1</text>
<text x="1483" y="1446.51" font-size="20" fill="#231f20" font-style="italic">CD52</text>
<text x="1483" y="1469.13" font-size="20" fill="#231f20" font-style="italic">FKBP15</text>
<text x="1483" y="1491.75" font-size="20" fill="#231f20" font-style="italic">DVL3</text>
<text x="1483" y="1514.37" font-size="20" fill="#231f20" font-style="italic">NLRP3</text>
<text x="1483" y="1536.99" font-size="20" fill="#231f20" font-style="italic">PKDCC</text>
<text x="1483" y="1559.61" font-size="20" fill="#231f20" font-style="italic">MPPED2</text>
<text x="1483" y="1582.23" font-size="20" fill="#231f20" font-style="italic">TMEM209</text>
<rect x="1030.2" y="135.5" width="20.2" height="520.26" fill="#430a52" />
<text x="1040.3" y="414.13" font-size="23" fill="white" text-anchor="middle" font-weight="bold">1</text>
<rect x="1030.2" y="671.96" width="20.2" height="135.72" fill="#2e6790" />
<text x="1040.3" y="748.32" font-size="23" fill="white" text-anchor="middle" font-weight="bold">2</text>
<rect x="1030.2" y="823.88" width="20.2" height="316.68" fill="#19a96e" />
<text x="1040.3" y="990.72" font-size="23" fill="white" text-anchor="middle" font-weight="bold">3</text>
<rect x="1030.2" y="1156.76" width="20.2" height="429.78" fill="#efe72d" />
<text x="1040.3" y="1380.15" font-size="23" fill="#231f20" text-anchor="middle" font-weight="bold">4</text>
<rect x="1062.6" y="101.3" width="187.56" height="5.6" fill="#989eaa" />
<text x="1164.2" y="130.8" font-size="24.5" fill="#989eaa" text-anchor="middle" font-weight="bold">WT</text>
<rect x="1266.41" y="101.3" width="78.15" height="5.6" fill="#2e5fac" />
<text x="1305.48" y="130.8" font-size="24.5" fill="#2e5fac" text-anchor="middle" font-weight="bold">G12D</text>
<rect x="1360.81" y="101.3" width="46.89" height="5.6" fill="#1a4d8c" />
<text x="1384.26" y="130.8" font-size="24.5" fill="#1a4d8c" text-anchor="middle" font-weight="bold">G13D</text>
<rect x="1423.95" y="101.3" width="46.89" height="5.6" fill="#f4cf48" />
<text x="1447.39" y="130.8" font-size="24.5" fill="#f4cf48" text-anchor="middle" font-weight="bold">G12V</text>
<text x="1484" y="120.4" font-size="19.5" fill="#231f20">allele</text>
<text font-size="20" fill="#231f20" transform="translate(1063.32,1599) rotate(90)">ACH-000202</text>
<text font-size="20" fill="#231f20" transform="translate(1078.95,1599) rotate(90)">ACH-001461</text>
<text font-size="20" fill="#231f20" transform="translate(1094.58,1599) rotate(90)">ACH-000009</text>
<text font-size="20" fill="#231f20" transform="translate(1110.21,1599) rotate(90)">ACH-001454</text>
<text font-size="20" fill="#231f20" transform="translate(1125.84,1599) rotate(90)">ACH-001458</text>
<text font-size="20" fill="#231f20" transform="translate(1141.47,1599) rotate(90)">ACH-000926</text>
<text font-size="20" fill="#231f20" transform="translate(1157.1,1599) rotate(90)">ACH-000683</text>
<text font-size="20" fill="#231f20" transform="translate(1172.73,1599) rotate(90)">ACH-001061</text>
<text font-size="20" fill="#231f20" transform="translate(1188.36,1599) rotate(90)">ACH-000963</text>
<text font-size="20" fill="#231f20" transform="translate(1203.99,1599) rotate(90)">ACH-000959</text>
<text font-size="20" fill="#231f20" transform="translate(1219.62,1599) rotate(90)">ACH-000969</text>
<text font-size="20" fill="#231f20" transform="translate(1235.25,1599) rotate(90)">ACH-000986</text>
<text font-size="20" fill="#231f20" transform="translate(1267.12,1599) rotate(90)">ACH-000007</text>
<text font-size="20" fill="#231f20" transform="translate(1282.76,1599) rotate(90)">ACH-000286</text>
<text font-size="20" fill="#231f20" transform="translate(1298.38,1599) rotate(90)">ACH-001345</text>
<text font-size="20" fill="#231f20" transform="translate(1314.02,1599) rotate(90)">ACH-000350</text>
<text font-size="20" fill="#231f20" transform="translate(1329.64,1599) rotate(90)">ACH-000957</text>
<text font-size="20" fill="#231f20" transform="translate(1361.53,1599) rotate(90)">ACH-000403</text>
<text font-size="20" fill="#231f20" transform="translate(1377.16,1599) rotate(90)">ACH-000381</text>
<text font-size="20" fill="#231f20" transform="translate(1392.79,1599) rotate(90)">ACH-000950</text>
<text font-size="20" fill="#231f20" transform="translate(1424.67,1599) rotate(90)">ACH-000820</text>
<text font-size="20" fill="#231f20" transform="translate(1440.3,1599) rotate(90)">ACH-000467</text>
<text font-size="20" fill="#231f20" transform="translate(1455.93,1599) rotate(90)">ACH-000651</text>
<text font-size="20" fill="#231f20" transform="translate(1032.6,1599.3) rotate(90)">cluster</text>
<path d="M1101.67,98.6L1101.67,79.1M1117.31,98.6L1117.31,79.1M1101.67,79.1L1117.31,79.1M1164.19,98.6L1164.19,81.6M1179.83,98.6L1179.83,81.6M1164.19,81.6L1179.83,81.6M1148.57,98.6L1148.57,79.1M1172.01,81.6L1172.01,79.1M1148.57,79.1L1172.01,79.1M1132.93,98.6L1132.93,76.6M1160.29,79.1L1160.29,76.6M1132.93,76.6L1160.29,76.6M1109.49,79.1L1109.49,73.6M1146.61,76.6L1146.61,73.6M1109.49,73.6L1146.61,73.6M1226.71,98.6L1226.71,78.6M1242.35,98.6L1242.35,78.6M1226.71,78.6L1242.35,78.6M1211.09,98.6L1211.09,76.1M1234.53,78.6L1234.53,76.1M1211.09,76.1L1234.53,76.1M1195.45,98.6L1195.45,71M1222.81,76.1L1222.81,71M1195.45,71L1222.81,71M1128.05,73.6L1128.05,70M1209.13,71L1209.13,70M1128.05,70L1209.13,70M1086.05,98.6L1086.05,69.5M1168.59,70L1168.59,69.5M1086.05,69.5L1168.59,69.5M1070.41,98.6L1070.41,66.5M1127.32,69.5L1127.32,66.5M1070.41,66.5L1127.32,66.5M1289.86,98.6L1289.86,75.9M1305.48,98.6L1305.48,75.9M1289.86,75.9L1305.48,75.9M1274.22,98.6L1274.22,73.6M1297.67,75.9L1297.67,73.6M1274.22,73.6L1297.67,73.6M1321.12,98.6L1321.12,73M1336.74,98.6L1336.74,73M1321.12,73L1336.74,73M1285.95,73.6L1285.95,69.3M1328.93,73L1328.93,69.3M1285.95,69.3L1328.93,69.3M1384.26,98.6L1384.26,77.6M1399.88,98.6L1399.88,77.6M1384.26,77.6L1399.88,77.6M1368.62,98.6L1368.62,73.6M1392.07,77.6L1392.07,73.6M1368.62,73.6L1392.07,73.6M1447.4,98.6L1447.4,77.4M1463.03,98.6L1463.03,77.4M1447.4,77.4L1463.03,77.4M1431.77,98.6L1431.77,68.2M1455.21,77.4L1455.21,68.2M1431.77,68.2L1455.21,68.2M1380.35,73.6L1380.35,57.1M1443.49,68.2L1443.49,57.1M1380.35,57.1L1443.49,57.1M1307.44,69.3L1307.44,55.7M1411.92,57.1L1411.92,55.7M1307.44,55.7L1411.92,55.7M1098.87,66.5L1098.87,49M1359.68,55.7L1359.68,49M1098.87,49L1359.68,49" stroke="#0a0a0a" stroke-width="2.6" fill="none" stroke-linecap="square"/>
<path d="M1026,146.81L1019,146.81M1026,169.43L1019,169.43M1019,146.81L1019,169.43M1026,192.05L1019,192.05M1026,214.67L1019,214.67M1019,192.05L1019,214.67M1026,237.29L1019,237.29M1026,259.91L1019,259.91M1019,237.29L1019,259.91M1026,282.53L1019,282.53M1026,305.15L1019,305.15M1019,282.53L1019,305.15M1026,327.77L1019,327.77M1026,350.39L1019,350.39M1019,327.77L1019,350.39M1019,293.84L1017.5,293.84M1019,339.08L1017.5,339.08M1017.5,293.84L1017.5,339.08M1019,248.6L1016,248.6M1017.5,316.46L1016,316.46M1016,248.6L1016,316.46M1019,203.36L1014.5,203.36M1016,282.53L1014.5,282.53M1014.5,203.36L1014.5,282.53M1019,158.12L1013,158.12M1014.5,242.95L1013,242.95M1013,158.12L1013,242.95M1026,373.01L1019,373.01M1026,395.63L1019,395.63M1019,373.01L1019,395.63M1026,418.25L1019,418.25M1026,440.87L1019,440.87M1019,418.25L1019,440.87M1026,463.49L1019,463.49M1026,486.11L1019,486.11M1019,463.49L1019,486.11M1019,429.56L1017.5,429.56M1019,474.8L1017.5,474.8M1017.5,429.56L1017.5,474.8M1019,384.32L1016,384.32M1017.5,452.18L1016,452.18M1016,384.32L1016,452.18M1026,508.73L1019,508.73M1026,531.35L1019,531.35M1019,508.73L1019,531.35M1026,553.97L1019,553.97M1026,576.59L1019,576.59M1019,553.97L1019,576.59M1026,599.21L1019,599.21M1026,621.83L1019,621.83M1019,599.21L1019,621.83M1019,610.52L1017.5,610.52M1026,644.45L1017.5,644.45M1017.5,610.52L1017.5,644.45M1019,565.28L1016,565.28M1017.5,627.49L1016,627.49M1016,565.28L1016,627.49M1019,520.04L1014.5,520.04M1016,596.38L1014.5,596.38M1014.5,520.04L1014.5,596.38M1016,418.25L1013,418.25M1014.5,558.21L1013,558.21M1013,418.25L1013,558.21M1013,200.53L1005.6,200.53M1013,488.23L1005.6,488.23M1005.6,200.53L1005.6,488.23M1026,683.27L1019,683.27M1026,705.89L1019,705.89M1019,683.27L1019,705.89M1026,728.51L1019,728.51M1026,751.13L1019,751.13M1019,728.51L1019,751.13M1026,773.75L1019,773.75M1026,796.37L1019,796.37M1019,773.75L1019,796.37M1019,739.82L1017.5,739.82M1019,785.06L1017.5,785.06M1017.5,739.82L1017.5,785.06M1019,694.58L1012.9,694.58M1017.5,762.44L1012.9,762.44M1012.9,694.58L1012.9,762.44M1026,835.19L1019,835.19M1026,857.81L1019,857.81M1019,835.19L1019,857.81M1026,880.43L1019,880.43M1026,903.05L1019,903.05M1019,880.43L1019,903.05M1026,925.67L1019,925.67M1026,948.29L1019,948.29M1019,925.67L1019,948.29M1019,891.74L1017.5,891.74M1019,936.98L1017.5,936.98M1017.5,891.74L1017.5,936.98M1019,846.5L1016,846.5M1017.5,914.36L1016,914.36M1016,846.5L1016,914.36M1026,970.91L1019,970.91M1026,993.53L1019,993.53M1019,970.91L1019,993.53M1026,1016.15L1019,1016.15M1026,1038.77L1019,1038.77M1019,1016.15L1019,1038.77M1019,982.22L1017.5,982.22M1019,1027.46L1017.5,1027.46M1017.5,982.22L1017.5,1027.46M1026,1061.39L1019,1061.39M1026,1084.01L1019,1084.01M1019,1061.39L1019,1084.01M1026,1106.63L1019,1106.63M1026,1129.25L1019,1129.25M1019,1106.63L1019,1129.25M1019,1072.7L1017.5,1072.7M1019,1117.94L1017.5,1117.94M1017.5,1072.7L1017.5,1117.94M1017.5,1004.84L1016,1004.84M1017.5,1095.32L1016,1095.32M1016,1004.84L1016,1095.32M1016,880.43L1010,880.43M1016,1050.08L1010,1050.08M1010,880.43L1010,1050.08M1026,1168.07L1019,1168.07M1026,1190.69L1019,1190.69M1019,1168.07L1019,1190.69M1026,1213.31L1019,1213.31M1026,1235.93L1019,1235.93M1019,1213.31L1019,1235.93M1019,1179.38L1017.5,1179.38M1019,1224.62L1017.5,1224.62M1017.5,1179.38L1017.5,1224.62M1026,1258.55L1019,1258.55M1026,1281.17L1019,1281.17M1019,1258.55L1019,1281.17M1026,1303.79L1019,1303.79M1026,1326.41L1019,1326.41M1019,1303.79L1019,1326.41M1019,1269.86L1017.5,1269.86M1019,1315.1L1017.5,1315.1M1017.5,1269.86L1017.5,1315.1M1026,1349.03L1019,1349.03M1026,1371.65L1019,1371.65M1019,1349.03L1019,1371.65M1026,1394.27L1019,1394.27M1026,1416.89L1019,1416.89M1019,1394.27L1019,1416.89M1019,1360.34L1017.5,1360.34M1019,1405.58L1017.5,1405.58M1017.5,1360.34L1017.5,1405.58M1017.5,1292.48L1016,1292.48M1017.5,1382.96L1016,1382.96M1016,1292.48L1016,1382.96M1026,1439.51L1019,1439.51M1026,1462.13L1019,1462.13M1019,1439.51L1019,1462.13M1026,1484.75L1019,1484.75M1026,1507.37L1019,1507.37M1019,1484.75L1019,1507.37M1019,1450.82L1017.5,1450.82M1019,1496.06L1017.5,1496.06M1017.5,1450.82L1017.5,1496.06M1026,1529.99L1019,1529.99M1026,1552.61L1019,1552.61M1019,1529.99L1019,1552.61M1019,1541.3L1017.5,1541.3M1026,1575.23L1017.5,1575.23M1017.5,1541.3L1017.5,1575.23M1017.5,1473.44L1016,1473.44M1017.5,1558.26L1016,1558.26M1016,1473.44L1016,1558.26M1016,1337.72L1014.5,1337.72M1016,1515.85L1014.5,1515.85M1014.5,1337.72L1014.5,1515.85M1017.5,1202L1008.6,1202M1014.5,1426.79L1008.6,1426.79M1008.6,1202L1008.6,1426.79M1010,965.25L1004.3,965.25M1008.6,1314.39L1004.3,1314.39M1004.3,965.25L1004.3,1314.39M1012.9,728.51L1002.9,728.51M1004.3,1139.82L1002.9,1139.82M1002.9,728.51L1002.9,1139.82M1005.6,344.38L976.3,344.38M1002.9,934.17L976.3,934.17M976.3,344.38L976.3,934.17" stroke="#0a0a0a" stroke-width="2.5" fill="none" stroke-linecap="square"/>
<rect x="1628.2" y="1692.1" width="53.19" height="31.9" fill="#7f4c9e" />
<text x="1654.54" y="1747" font-size="24" fill="#464b4d" text-anchor="middle">-2</text>
<rect x="1680.89" y="1692.1" width="53.19" height="31.9" fill="#9b76b5" />
<text x="1707.23" y="1747" font-size="24" fill="#464b4d" text-anchor="middle">-1.3</text>
<rect x="1733.57" y="1692.1" width="53.19" height="31.9" fill="#bea5cf" />
<text x="1759.91" y="1747" font-size="24" fill="#464b4d" text-anchor="middle">-0.7</text>
<rect x="1786.26" y="1692.1" width="53.19" height="31.9" fill="#edefee" />
<text x="1812.6" y="1747" font-size="24" fill="#464b4d" text-anchor="middle">0</text>
<rect x="1838.94" y="1692.1" width="53.19" height="31.9" fill="#ebc1af" />
<text x="1865.29" y="1747" font-size="24" fill="#464b4d" text-anchor="middle">0.7</text>
<rect x="1891.63" y="1692.1" width="53.19" height="31.9" fill="#eb987b" />
<text x="1917.97" y="1747" font-size="24" fill="#464b4d" text-anchor="middle">1.3</text>
<rect x="1944.31" y="1692.1" width="53.19" height="31.9" fill="#ec764f" />
<text x="1970.66" y="1747" font-size="24" fill="#464b4d" text-anchor="middle">2</text>
<text x="1812.7" y="1688.2" font-size="28" fill="#231f20" text-anchor="middle">scaled dep. score</text>
<text x="1614.4" y="20.4" font-size="27" fill="#231f20" font-weight="bold">e</text>
<line x1="1726.7" y1="135.8" x2="1986.4" y2="135.8" stroke="#ebebeb" stroke-width="1.3" />
<line x1="1726.7" y1="237.4" x2="1986.4" y2="237.4" stroke="#ebebeb" stroke-width="1.3" />
<line x1="1726.7" y1="338.9" x2="1986.4" y2="338.9" stroke="#ebebeb" stroke-width="1.3" />
<line x1="1726.7" y1="84.8" x2="1986.4" y2="84.8" stroke="#ebebeb" stroke-width="2.0" />
<text x="1719.4" y="93.8" font-size="24" fill="#464b4d" text-anchor="end">0.0</text>
<line x1="1726.7" y1="186.3" x2="1986.4" y2="186.3" stroke="#ebebeb" stroke-width="2.0" />
<text x="1719.4" y="195.3" font-size="24" fill="#464b4d" text-anchor="end">-0.2</text>
<line x1="1726.7" y1="288.4" x2="1986.4" y2="288.4" stroke="#ebebeb" stroke-width="2.0" />
<text x="1719.4" y="297.4" font-size="24" fill="#464b4d" text-anchor="end">-0.4</text>
<line x1="1764.6" y1="47.3" x2="1764.6" y2="383.6" stroke="#ebebeb" stroke-width="2.0" />
<line x1="1825.9" y1="47.3" x2="1825.9" y2="383.6" stroke="#ebebeb" stroke-width="2.0" />
<line x1="1887.2" y1="47.3" x2="1887.2" y2="383.6" stroke="#ebebeb" stroke-width="2.0" />
<line x1="1948.5" y1="47.3" x2="1948.5" y2="383.6" stroke="#ebebeb" stroke-width="2.0" />
<text x="1857.15" y="43.9" font-size="24.2" fill="#231f20" text-anchor="middle" font-style="italic">LIN7C</text>
<line x1="1764.6" y1="199.5" x2="1764.6" y2="205.7" stroke="#2e5fac" stroke-width="3" />
<line x1="1764.6" y1="264.4" x2="1764.6" y2="282.4" stroke="#2e5fac" stroke-width="3" />
<rect x="1741.6" y="205.7" width="46" height="58.7" fill="none" stroke="#2e5fac" stroke-width="3"/>
<line x1="1741.6" y1="225.4" x2="1787.6" y2="225.4" stroke="#2e5fac" stroke-width="5.5" />
<circle cx="1763.42" cy="198.27" r="3.7" fill="#2e5fac" fill-opacity="0.9"/>
<circle cx="1758.62" cy="206.2" r="3.7" fill="#2e5fac" fill-opacity="0.9"/>
<circle cx="1762.94" cy="225.43" r="3.7" fill="#2e5fac" fill-opacity="0.9"/>
<circle cx="1763.42" cy="264.36" r="3.7" fill="#2e5fac" fill-opacity="0.9"/>
<circle cx="1774.96" cy="282.38" r="3.7" fill="#2e5fac" fill-opacity="0.9"/>
<line x1="1825.9" y1="135.8" x2="1825.9" y2="144.2" stroke="#f4cf48" stroke-width="3" />
<line x1="1825.9" y1="222.3" x2="1825.9" y2="289.6" stroke="#f4cf48" stroke-width="3" />
<rect x="1802.9" y="144.2" width="46" height="78.1" fill="none" stroke="#f4cf48" stroke-width="3"/>
<line x1="1802.9" y1="153.3" x2="1848.9" y2="153.3" stroke="#f4cf48" stroke-width="5.5" />
<circle cx="1830.23" cy="134.58" r="3.7" fill="#f4cf48" fill-opacity="0.9"/>
<circle cx="1811.01" cy="153.81" r="3.7" fill="#f4cf48" fill-opacity="0.9"/>
<circle cx="1817.5" cy="290.31" r="3.7" fill="#f4cf48" fill-opacity="0.9"/>
<line x1="1887.2" y1="289.6" x2="1887.2" y2="300.4" stroke="#1a4d8c" stroke-width="3" />
<line x1="1887.2" y1="346.1" x2="1887.2" y2="378.5" stroke="#1a4d8c" stroke-width="3" />
<rect x="1864.2" y="300.4" width="46" height="45.7" fill="none" stroke="#1a4d8c" stroke-width="3"/>
<line x1="1864.2" y1="312.4" x2="1910.2" y2="312.4" stroke="#1a4d8c" stroke-width="5.5" />
<circle cx="1881.9" cy="289.11" r="3.7" fill="#1a4d8c" fill-opacity="0.9"/>
<circle cx="1887.19" cy="312.42" r="3.7" fill="#1a4d8c" fill-opacity="0.9"/>
<circle cx="1902.33" cy="378.51" r="3.7" fill="#1a4d8c" fill-opacity="0.9"/>
<line x1="1948.5" y1="90.8" x2="1948.5" y2="133.4" stroke="#989eaa" stroke-width="3" />
<line x1="1948.5" y1="211.5" x2="1948.5" y2="275.2" stroke="#989eaa" stroke-width="3" />
<rect x="1925.5" y="133.4" width="46" height="78.1" fill="none" stroke="#989eaa" stroke-width="3"/>
<line x1="1925.5" y1="183.1" x2="1971.5" y2="183.1" stroke="#989eaa" stroke-width="5.5" />
<circle cx="1935.98" cy="90.12" r="3.7" fill="#989eaa" fill-opacity="0.9"/>
<circle cx="1962.89" cy="93.73" r="3.7" fill="#989eaa" fill-opacity="0.9"/>
<circle cx="1953.28" cy="116.56" r="3.7" fill="#989eaa" fill-opacity="0.9"/>
<circle cx="1952.8" cy="138.91" r="3.7" fill="#989eaa" fill-opacity="0.9"/>
<circle cx="1938.38" cy="151.89" r="3.7" fill="#989eaa" fill-opacity="0.9"/>
<circle cx="1946.07" cy="163.42" r="3.7" fill="#989eaa" fill-opacity="0.9"/>
<circle cx="1949.19" cy="204.28" r="3.7" fill="#989eaa" fill-opacity="0.9"/>
<circle cx="1961.69" cy="203.08" r="3.7" fill="#989eaa" fill-opacity="0.9"/>
<circle cx="1944.87" cy="210.29" r="3.7" fill="#989eaa" fill-opacity="0.9"/>
<circle cx="1961.69" cy="215.09" r="3.7" fill="#989eaa" fill-opacity="0.9"/>
<circle cx="1955.68" cy="262.68" r="3.7" fill="#989eaa" fill-opacity="0.9"/>
<circle cx="1955.68" cy="275.17" r="3.7" fill="#989eaa" fill-opacity="0.9"/>
<rect x="1726.7" y="47.3" width="259.7" height="336.3" fill="none" stroke="#333333" stroke-width="1.5"/>
<text x="1764.6" y="407" font-size="22" fill="#464b4d" text-anchor="middle">G12D</text>
<text x="1825.9" y="407" font-size="22" fill="#464b4d" text-anchor="middle">G12V</text>
<text x="1887.2" y="407" font-size="22" fill="#464b4d" text-anchor="middle">G13D</text>
<text x="1948.5" y="407" font-size="22" fill="#464b4d" text-anchor="middle">WT</text>
<text x="1850" y="268.7" font-size="21" fill="#231f20">p=0.039</text>
<text x="0" y="0" font-size="28" fill="#231f20" text-anchor="middle" transform="translate(1653.5,215.45) rotate(-90)">dependency score</text>
<line x1="1726.7" y1="511.3" x2="1986.4" y2="511.3" stroke="#ebebeb" stroke-width="1.3" />
<line x1="1726.7" y1="602.2" x2="1986.4" y2="602.2" stroke="#ebebeb" stroke-width="1.3" />
<line x1="1726.7" y1="692.3" x2="1986.4" y2="692.3" stroke="#ebebeb" stroke-width="1.3" />
<line x1="1726.7" y1="783.4" x2="1986.4" y2="783.4" stroke="#ebebeb" stroke-width="1.3" />
<line x1="1726.7" y1="465.7" x2="1986.4" y2="465.7" stroke="#ebebeb" stroke-width="2.0" />
<text x="1719.4" y="474.7" font-size="24" fill="#464b4d" text-anchor="end">0.25</text>
<line x1="1726.7" y1="557" x2="1986.4" y2="557" stroke="#ebebeb" stroke-width="2.0" />
<text x="1719.4" y="566" font-size="24" fill="#464b4d" text-anchor="end">0.00</text>
<line x1="1726.7" y1="647.1" x2="1986.4" y2="647.1" stroke="#ebebeb" stroke-width="2.0" />
<text x="1719.4" y="656.1" font-size="24" fill="#464b4d" text-anchor="end">-0.25</text>
<line x1="1726.7" y1="737.7" x2="1986.4" y2="737.7" stroke="#ebebeb" stroke-width="2.0" />
<text x="1719.4" y="746.7" font-size="24" fill="#464b4d" text-anchor="end">-0.50</text>
<line x1="1764.6" y1="457.7" x2="1764.6" y2="794.2" stroke="#ebebeb" stroke-width="2.0" />
<line x1="1825.9" y1="457.7" x2="1825.9" y2="794.2" stroke="#ebebeb" stroke-width="2.0" />
<line x1="1887.2" y1="457.7" x2="1887.2" y2="794.2" stroke="#ebebeb" stroke-width="2.0" />
<line x1="1948.5" y1="457.7" x2="1948.5" y2="794.2" stroke="#ebebeb" stroke-width="2.0" />
<text x="1857.15" y="454.3" font-size="24.2" fill="#231f20" text-anchor="middle" font-style="italic">TFPT</text>
<line x1="1764.6" y1="665.1" x2="1764.6" y2="694.7" stroke="#2e5fac" stroke-width="3" />
<line x1="1764.6" y1="772.1" x2="1764.6" y2="788.2" stroke="#2e5fac" stroke-width="3" />
<rect x="1741.6" y="694.7" width="46" height="77.4" fill="none" stroke="#2e5fac" stroke-width="3"/>
<line x1="1741.6" y1="736.7" x2="1787.6" y2="736.7" stroke="#2e5fac" stroke-width="5.5" />
<circle cx="1763.42" cy="665.13" r="3.7" fill="#2e5fac" fill-opacity="0.9"/>
<circle cx="1758.62" cy="694.69" r="3.7" fill="#2e5fac" fill-opacity="0.9"/>
<circle cx="1763.42" cy="736.75" r="3.7" fill="#2e5fac" fill-opacity="0.9"/>
<circle cx="1762.22" cy="771.36" r="3.7" fill="#2e5fac" fill-opacity="0.9"/>
<circle cx="1774.96" cy="788.18" r="3.7" fill="#2e5fac" fill-opacity="0.9"/>
<line x1="1825.9" y1="599" x2="1825.9" y2="617.5" stroke="#f4cf48" stroke-width="3" />
<line x1="1825.9" y1="649.5" x2="1825.9" y2="659.1" stroke="#f4cf48" stroke-width="3" />
<rect x="1802.9" y="617.5" width="46" height="32" fill="none" stroke="#f4cf48" stroke-width="3"/>
<line x1="1802.9" y1="638.2" x2="1848.9" y2="638.2" stroke="#f4cf48" stroke-width="5.5" />
<circle cx="1811.49" cy="598.32" r="3.7" fill="#f4cf48" fill-opacity="0.9"/>
<circle cx="1817.5" cy="638.22" r="3.7" fill="#f4cf48" fill-opacity="0.9"/>
<circle cx="1830.23" cy="659.13" r="3.7" fill="#f4cf48" fill-opacity="0.9"/>
<line x1="1887.2" y1="561.8" x2="1887.2" y2="612.3" stroke="#1a4d8c" stroke-width="3" />
<line x1="1887.2" y1="672.8" x2="1887.2" y2="683.2" stroke="#1a4d8c" stroke-width="3" />
<rect x="1864.2" y="612.3" width="46" height="60.5" fill="none" stroke="#1a4d8c" stroke-width="3"/>
<line x1="1864.2" y1="663.2" x2="1910.2" y2="663.2" stroke="#1a4d8c" stroke-width="5.5" />
<circle cx="1902.33" cy="561.79" r="3.7" fill="#1a4d8c" fill-opacity="0.9"/>
<circle cx="1882.38" cy="663.21" r="3.7" fill="#1a4d8c" fill-opacity="0.9"/>
<circle cx="1887.19" cy="683.16" r="3.7" fill="#1a4d8c" fill-opacity="0.9"/>
<line x1="1948.5" y1="500.5" x2="1948.5" y2="523.3" stroke="#989eaa" stroke-width="3" />
<line x1="1948.5" y1="653.1" x2="1948.5" y2="683.9" stroke="#989eaa" stroke-width="3" />
<rect x="1925.5" y="523.3" width="46" height="129.8" fill="none" stroke="#989eaa" stroke-width="3"/>
<line x1="1925.5" y1="625.5" x2="1971.5" y2="625.5" stroke="#989eaa" stroke-width="5.5" />
<circle cx="1935.98" cy="500.51" r="3.7" fill="#989eaa" fill-opacity="0.9"/>
<circle cx="1938.38" cy="510.12" r="3.7" fill="#989eaa" fill-opacity="0.9"/>
<circle cx="1946.07" cy="518.53" r="3.7" fill="#989eaa" fill-opacity="0.9"/>
<circle cx="1955.68" cy="525.74" r="3.7" fill="#989eaa" fill-opacity="0.9"/>
<circle cx="1961.69" cy="598.32" r="3.7" fill="#989eaa" fill-opacity="0.9"/>
<circle cx="1952.8" cy="609.38" r="3.7" fill="#989eaa" fill-opacity="0.9"/>
<circle cx="1944.87" cy="642.3" r="3.7" fill="#989eaa" fill-opacity="0.9"/>
<circle cx="1953.28" cy="642.3" r="3.7" fill="#989eaa" fill-opacity="0.9"/>
<circle cx="1962.89" cy="648.31" r="3.7" fill="#989eaa" fill-opacity="0.9"/>
<circle cx="1961.69" cy="668.74" r="3.7" fill="#989eaa" fill-opacity="0.9"/>
<circle cx="1949.19" cy="675.23" r="3.7" fill="#989eaa" fill-opacity="0.9"/>
<circle cx="1956.4" cy="684.36" r="3.7" fill="#989eaa" fill-opacity="0.9"/>
<rect x="1726.7" y="457.7" width="259.7" height="336.5" fill="none" stroke="#333333" stroke-width="1.5"/>
<text x="1764.6" y="817" font-size="22" fill="#464b4d" text-anchor="middle">G12D</text>
<text x="1825.9" y="817" font-size="22" fill="#464b4d" text-anchor="middle">G12V</text>
<text x="1887.2" y="817" font-size="22" fill="#464b4d" text-anchor="middle">G13D</text>
<text x="1948.5" y="817" font-size="22" fill="#464b4d" text-anchor="middle">WT</text>
<text x="1727.4" y="644.7" font-size="21" fill="#231f20">p=0.011</text>
<text x="0" y="0" font-size="28" fill="#231f20" text-anchor="middle" transform="translate(1653.5,625.95) rotate(-90)">dependency score</text>
<line x1="1726.7" y1="901.6" x2="1986.4" y2="901.6" stroke="#ebebeb" stroke-width="1.3" />
<line x1="1726.7" y1="972.3" x2="1986.4" y2="972.3" stroke="#ebebeb" stroke-width="1.3" />
<line x1="1726.7" y1="1042.4" x2="1986.4" y2="1042.4" stroke="#ebebeb" stroke-width="1.3" />
<line x1="1726.7" y1="1112.9" x2="1986.4" y2="1112.9" stroke="#ebebeb" stroke-width="1.3" />
<line x1="1726.7" y1="1183.3" x2="1986.4" y2="1183.3" stroke="#ebebeb" stroke-width="1.3" />
<line x1="1726.7" y1="936.9" x2="1986.4" y2="936.9" stroke="#ebebeb" stroke-width="2.0" />
<text x="1719.4" y="945.9" font-size="24" fill="#464b4d" text-anchor="end">0.1</text>
<line x1="1726.7" y1="1007.4" x2="1986.4" y2="1007.4" stroke="#ebebeb" stroke-width="2.0" />
<text x="1719.4" y="1016.4" font-size="24" fill="#464b4d" text-anchor="end">0.0</text>
<line x1="1726.7" y1="1077.5" x2="1986.4" y2="1077.5" stroke="#ebebeb" stroke-width="2.0" />
<text x="1719.4" y="1086.5" font-size="24" fill="#464b4d" text-anchor="end">-0.1</text>
<line x1="1726.7" y1="1148" x2="1986.4" y2="1148" stroke="#ebebeb" stroke-width="2.0" />
<text x="1719.4" y="1157" font-size="24" fill="#464b4d" text-anchor="end">-0.2</text>
<line x1="1764.6" y1="867.7" x2="1764.6" y2="1204.2" stroke="#ebebeb" stroke-width="2.0" />
<line x1="1825.9" y1="867.7" x2="1825.9" y2="1204.2" stroke="#ebebeb" stroke-width="2.0" />
<line x1="1887.2" y1="867.7" x2="1887.2" y2="1204.2" stroke="#ebebeb" stroke-width="2.0" />
<line x1="1948.5" y1="867.7" x2="1948.5" y2="1204.2" stroke="#ebebeb" stroke-width="2.0" />
<text x="1857.15" y="864.3" font-size="24.2" fill="#231f20" text-anchor="middle" font-style="italic">STARD9</text>
<line x1="1764.6" y1="910.5" x2="1764.6" y2="918.9" stroke="#2e5fac" stroke-width="3" />
<line x1="1764.6" y1="1031.9" x2="1764.6" y2="1047.5" stroke="#2e5fac" stroke-width="3" />
<rect x="1741.6" y="918.9" width="46" height="113" fill="none" stroke="#2e5fac" stroke-width="3"/>
<line x1="1741.6" y1="1001.4" x2="1787.6" y2="1001.4" stroke="#2e5fac" stroke-width="5.5" />
<circle cx="1763.42" cy="910.51" r="3.7" fill="#2e5fac" fill-opacity="0.9"/>
<circle cx="1763.42" cy="919.4" r="3.7" fill="#2e5fac" fill-opacity="0.9"/>
<circle cx="1758.62" cy="1001.83" r="3.7" fill="#2e5fac" fill-opacity="0.9"/>
<circle cx="1762.22" cy="1031.87" r="3.7" fill="#2e5fac" fill-opacity="0.9"/>
<circle cx="1774.96" cy="1047.98" r="3.7" fill="#2e5fac" fill-opacity="0.9"/>
<line x1="1825.9" y1="1072.7" x2="1825.9" y2="1103.5" stroke="#f4cf48" stroke-width="3" />
<line x1="1825.9" y1="1159.2" x2="1825.9" y2="1182.8" stroke="#f4cf48" stroke-width="3" />
<rect x="1802.9" y="1103.5" width="46" height="55.7" fill="none" stroke="#f4cf48" stroke-width="3"/>
<line x1="1802.9" y1="1135.2" x2="1848.9" y2="1135.2" stroke="#f4cf48" stroke-width="5.5" />
<circle cx="1817.5" cy="1072.25" r="3.7" fill="#f4cf48" fill-opacity="0.9"/>
<circle cx="1811.01" cy="1135.22" r="3.7" fill="#f4cf48" fill-opacity="0.9"/>
<circle cx="1830.23" cy="1182.8" r="3.7" fill="#f4cf48" fill-opacity="0.9"/>
<line x1="1887.2" y1="1110.7" x2="1887.2" y2="1118.4" stroke="#1a4d8c" stroke-width="3" />
<line x1="1887.2" y1="1140" x2="1887.2" y2="1152" stroke="#1a4d8c" stroke-width="3" />
<rect x="1864.2" y="1118.4" width="46" height="21.6" fill="none" stroke="#1a4d8c" stroke-width="3"/>
<line x1="1864.2" y1="1127.5" x2="1910.2" y2="1127.5" stroke="#1a4d8c" stroke-width="5.5" />
<circle cx="1881.9" cy="1109.98" r="3.7" fill="#1a4d8c" fill-opacity="0.9"/>
<circle cx="1887.19" cy="1128.01" r="3.7" fill="#1a4d8c" fill-opacity="0.9"/>
<circle cx="1902.33" cy="1152.52" r="3.7" fill="#1a4d8c" fill-opacity="0.9"/>
<line x1="1948.5" y1="1022.3" x2="1948.5" y2="1091.2" stroke="#989eaa" stroke-width="3" />
<line x1="1948.5" y1="1151.3" x2="1948.5" y2="1197.7" stroke="#989eaa" stroke-width="3" />
<rect x="1925.5" y="1091.2" width="46" height="60.1" fill="none" stroke="#989eaa" stroke-width="3"/>
<line x1="1925.5" y1="1143.6" x2="1971.5" y2="1143.6" stroke="#989eaa" stroke-width="5.5" />
<circle cx="1938.38" cy="1021.54" r="3.7" fill="#989eaa" fill-opacity="0.9"/>
<circle cx="1952.8" cy="1084.75" r="3.7" fill="#989eaa" fill-opacity="0.9"/>
<circle cx="1962.41" cy="1084.75" r="3.7" fill="#989eaa" fill-opacity="0.9"/>
<circle cx="1961.69" cy="1093.88" r="3.7" fill="#989eaa" fill-opacity="0.9"/>
<circle cx="1949.19" cy="1134.49" r="3.7" fill="#989eaa" fill-opacity="0.9"/>
<circle cx="1953.28" cy="1139.3" r="3.7" fill="#989eaa" fill-opacity="0.9"/>
<circle cx="1960.49" cy="1147.23" r="3.7" fill="#989eaa" fill-opacity="0.9"/>
<circle cx="1946.07" cy="1147.23" r="3.7" fill="#989eaa" fill-opacity="0.9"/>
<circle cx="1956.4" cy="1160.45" r="3.7" fill="#989eaa" fill-opacity="0.9"/>
<circle cx="1935.98" cy="1185.2" r="3.7" fill="#989eaa" fill-opacity="0.9"/>
<circle cx="1956.4" cy="1198.9" r="3.7" fill="#989eaa" fill-opacity="0.9"/>
<rect x="1726.7" y="867.7" width="259.7" height="336.5" fill="none" stroke="#333333" stroke-width="1.5"/>
<text x="1764.6" y="1227" font-size="22" fill="#464b4d" text-anchor="middle">G12D</text>
<text x="1825.9" y="1227" font-size="22" fill="#464b4d" text-anchor="middle">G12V</text>
<text x="1887.2" y="1227" font-size="22" fill="#464b4d" text-anchor="middle">G13D</text>
<text x="1948.5" y="1227" font-size="22" fill="#464b4d" text-anchor="middle">WT</text>
<text x="1727.4" y="889.6" font-size="21" fill="#231f20">p=0.017</text>
<text x="0" y="0" font-size="28" fill="#231f20" text-anchor="middle" transform="translate(1653.5,1035.95) rotate(-90)">dependency score</text>
<line x1="1726.7" y1="1287.3" x2="1986.4" y2="1287.3" stroke="#ebebeb" stroke-width="1.3" />
<line x1="1726.7" y1="1356.6" x2="1986.4" y2="1356.6" stroke="#ebebeb" stroke-width="1.3" />
<line x1="1726.7" y1="1425.5" x2="1986.4" y2="1425.5" stroke="#ebebeb" stroke-width="1.3" />
<line x1="1726.7" y1="1494.3" x2="1986.4" y2="1494.3" stroke="#ebebeb" stroke-width="1.3" />
<line x1="1726.7" y1="1563.2" x2="1986.4" y2="1563.2" stroke="#ebebeb" stroke-width="1.3" />
<line x1="1726.7" y1="1322.2" x2="1986.4" y2="1322.2" stroke="#ebebeb" stroke-width="2.0" />
<text x="1719.4" y="1331.2" font-size="24" fill="#464b4d" text-anchor="end">0.00</text>
<line x1="1726.7" y1="1390.9" x2="1986.4" y2="1390.9" stroke="#ebebeb" stroke-width="2.0" />
<text x="1719.4" y="1399.9" font-size="24" fill="#464b4d" text-anchor="end">-0.25</text>
<line x1="1726.7" y1="1459.9" x2="1986.4" y2="1459.9" stroke="#ebebeb" stroke-width="2.0" />
<text x="1719.4" y="1468.9" font-size="24" fill="#464b4d" text-anchor="end">-0.50</text>
<line x1="1726.7" y1="1528.9" x2="1986.4" y2="1528.9" stroke="#ebebeb" stroke-width="2.0" />
<text x="1719.4" y="1537.9" font-size="24" fill="#464b4d" text-anchor="end">-0.75</text>
<line x1="1726.7" y1="1598.1" x2="1986.4" y2="1598.1" stroke="#ebebeb" stroke-width="2.0" />
<text x="1719.4" y="1607.1" font-size="24" fill="#464b4d" text-anchor="end">-1.00</text>
<line x1="1764.6" y1="1277.7" x2="1764.6" y2="1614.2" stroke="#ebebeb" stroke-width="2.0" />
<line x1="1825.9" y1="1277.7" x2="1825.9" y2="1614.2" stroke="#ebebeb" stroke-width="2.0" />
<line x1="1887.2" y1="1277.7" x2="1887.2" y2="1614.2" stroke="#ebebeb" stroke-width="2.0" />
<line x1="1948.5" y1="1277.7" x2="1948.5" y2="1614.2" stroke="#ebebeb" stroke-width="2.0" />
<text x="1857.15" y="1274.3" font-size="24.2" fill="#231f20" text-anchor="middle" font-style="italic">KNTC1</text>
<line x1="1764.6" y1="1413" x2="1764.6" y2="1471.9" stroke="#2e5fac" stroke-width="3" />
<line x1="1764.6" y1="1520.7" x2="1764.6" y2="1520.7" stroke="#2e5fac" stroke-width="3" />
<rect x="1741.6" y="1471.9" width="46" height="48.8" fill="none" stroke="#2e5fac" stroke-width="3"/>
<line x1="1741.6" y1="1498.4" x2="1787.6" y2="1498.4" stroke="#2e5fac" stroke-width="5.5" />
<circle cx="1762.22" cy="1412.55" r="3.7" fill="#2e5fac" fill-opacity="0.9"/>
<circle cx="1758.62" cy="1471.92" r="3.7" fill="#2e5fac" fill-opacity="0.9"/>
<circle cx="1774.96" cy="1498.35" r="3.7" fill="#2e5fac" fill-opacity="0.9"/>
<circle cx="1763.42" cy="1520.7" r="3.7" fill="#2e5fac" fill-opacity="0.9"/>
<circle cx="1763.42" cy="1608.9" r="3.7" fill="#2e5fac" fill-opacity="0.9"/>
<line x1="1825.9" y1="1321.7" x2="1825.9" y2="1330.4" stroke="#f4cf48" stroke-width="3" />
<line x1="1825.9" y1="1360.2" x2="1825.9" y2="1378.9" stroke="#f4cf48" stroke-width="3" />
<rect x="1802.9" y="1330.4" width="46" height="29.8" fill="none" stroke="#f4cf48" stroke-width="3"/>
<line x1="1802.9" y1="1340.5" x2="1848.9" y2="1340.5" stroke="#f4cf48" stroke-width="5.5" />
<circle cx="1811.49" cy="1320.51" r="3.7" fill="#f4cf48" fill-opacity="0.9"/>
<circle cx="1830.23" cy="1340.46" r="3.7" fill="#f4cf48" fill-opacity="0.9"/>
<circle cx="1817.5" cy="1378.91" r="3.7" fill="#f4cf48" fill-opacity="0.9"/>
<line x1="1887.2" y1="1455.1" x2="1887.2" y2="1462.3" stroke="#1a4d8c" stroke-width="3" />
<line x1="1887.2" y1="1480.3" x2="1887.2" y2="1491.9" stroke="#1a4d8c" stroke-width="3" />
<rect x="1864.2" y="1462.3" width="46" height="18" fill="none" stroke="#1a4d8c" stroke-width="3"/>
<line x1="1864.2" y1="1469.5" x2="1910.2" y2="1469.5" stroke="#1a4d8c" stroke-width="5.5" />
<circle cx="1902.33" cy="1453.89" r="3.7" fill="#1a4d8c" fill-opacity="0.9"/>
<circle cx="1882.38" cy="1469.51" r="3.7" fill="#1a4d8c" fill-opacity="0.9"/>
<circle cx="1887.19" cy="1491.86" r="3.7" fill="#1a4d8c" fill-opacity="0.9"/>
<line x1="1948.5" y1="1390.2" x2="1948.5" y2="1427.5" stroke="#989eaa" stroke-width="3" />
<line x1="1948.5" y1="1480.3" x2="1948.5" y2="1502.7" stroke="#989eaa" stroke-width="3" />
<rect x="1925.5" y="1427.5" width="46" height="52.8" fill="none" stroke="#989eaa" stroke-width="3"/>
<line x1="1925.5" y1="1466.4" x2="1971.5" y2="1466.4" stroke="#989eaa" stroke-width="5.5" />
<circle cx="1944.39" cy="1389" r="3.7" fill="#989eaa" fill-opacity="0.9"/>
<circle cx="1956.4" cy="1405.34" r="3.7" fill="#989eaa" fill-opacity="0.9"/>
<circle cx="1938.38" cy="1412.55" r="3.7" fill="#989eaa" fill-opacity="0.9"/>
<circle cx="1952.8" cy="1432.26" r="3.7" fill="#989eaa" fill-opacity="0.9"/>
<circle cx="1946.07" cy="1459.18" r="3.7" fill="#989eaa" fill-opacity="0.9"/>
<circle cx="1953.28" cy="1464.71" r="3.7" fill="#989eaa" fill-opacity="0.9"/>
<circle cx="1961.69" cy="1475.04" r="3.7" fill="#989eaa" fill-opacity="0.9"/>
<circle cx="1956.4" cy="1497.87" r="3.7" fill="#989eaa" fill-opacity="0.9"/>
<circle cx="1949.19" cy="1502.68" r="3.7" fill="#989eaa" fill-opacity="0.9"/>
<circle cx="1935.98" cy="1589.68" r="3.7" fill="#989eaa" fill-opacity="0.9"/>
<rect x="1726.7" y="1277.7" width="259.7" height="336.5" fill="none" stroke="#333333" stroke-width="1.5"/>
<text x="1764.6" y="1637" font-size="22" fill="#464b4d" text-anchor="middle">G12D</text>
<text x="1825.9" y="1637" font-size="22" fill="#464b4d" text-anchor="middle">G12V</text>
<text x="1887.2" y="1637" font-size="22" fill="#464b4d" text-anchor="middle">G13D</text>
<text x="1948.5" y="1637" font-size="22" fill="#464b4d" text-anchor="middle">WT</text>
<text x="1788.7" y="1299.6" font-size="21" fill="#231f20">p=0.010</text>
<text x="0" y="0" font-size="28" fill="#231f20" text-anchor="middle" transform="translate(1653.5,1445.95) rotate(-90)">dependency score</text>
</svg>
</body></html>
